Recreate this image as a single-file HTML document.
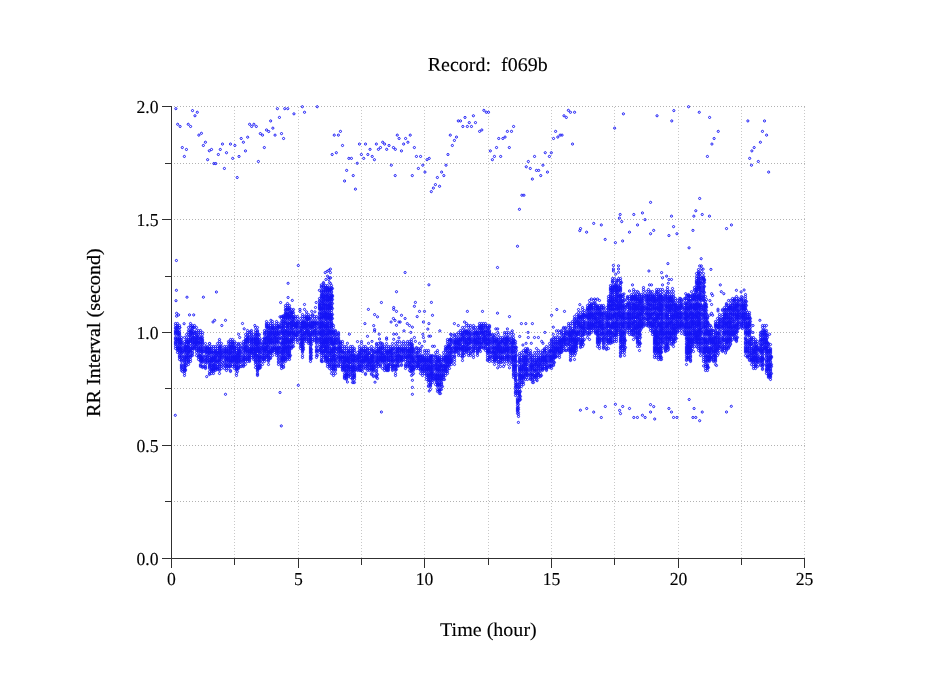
<!DOCTYPE html>
<html lang="en"><head><meta charset="utf-8"><title>Record: f069b</title>
<style>
html,body{margin:0;padding:0;background:#fff}
body{width:949px;height:697px;overflow:hidden}
svg{display:block}
text{font-family:"Liberation Serif","Times New Roman",Times,serif;fill:#000}
.t{font-size:19.4px;stroke:#000;stroke-width:.1px}
.k{font-size:18.3px;stroke:#000;stroke-width:.12px}
</style></head><body>
<svg width="949" height="697" viewBox="0 0 949 697">
<rect width="949" height="697" fill="#fff"/>
<defs><marker id="c" markerWidth="6" markerHeight="6" refX="3" refY="3" markerUnits="userSpaceOnUse" overflow="visible"><circle cx="3" cy="3" r="1.08" fill="none" stroke="#1414f5" stroke-width="0.95"/></marker></defs>
<path d="M234.5 107V558M298.5 107V558M361.5 107V558M424.5 107V558M488.5 107V558M551.5 107V558M614.5 107V558M678.5 107V558M741.5 107V558M804.5 107V558" fill="none" stroke="#c8c8c8" stroke-width="1" stroke-dasharray="1 2"/>
<path d="M171 106.5H805M171 163.5H805M171 219.5H805M171 276.5H805M171 332.5H805M171 388.5H805M171 445.5H805M171 501.5H805" fill="none" stroke="#b2b2b2" stroke-width="1" stroke-dasharray="1 2"/>
<path d="M171.5 106V558.5H805M171.5 558.5v9.5M234.5 558.5v6.5M298.5 558.5v9.5M361.5 558.5v6.5M424.5 558.5v9.5M488.5 558.5v6.5M551.5 558.5v9.5M614.5 558.5v6.5M678.5 558.5v9.5M741.5 558.5v6.5M804.5 558.5v9.5M171.5 106.5h-9.5M171.5 163.5h-6.5M171.5 219.5h-9.5M171.5 276.5h-6.5M171.5 332.5h-9.5M171.5 388.5h-6.5M171.5 445.5h-9.5M171.5 501.5h-6.5M171.5 558.5h-9.5" fill="none" stroke="#303030" stroke-width="1"/>
<text class="t" transform="matrix(1.03 0.0005 0 1 487.7 70.9)" text-anchor="middle" xml:space="preserve">Record:  f069b</text>
<text class="t" transform="matrix(1.033 0.0005 0 1 488.4 635.9)" text-anchor="middle">Time (hour)</text>
<text class="t" style="stroke-width:.25px" transform="translate(100.2,332.6) rotate(-90) scale(1.037,1.02)" text-anchor="middle">RR Interval (second)</text>
<text class="k" transform="matrix(0.965 0.0005 0 1 171.5 585)" text-anchor="middle">0</text>
<text class="k" transform="matrix(0.965 0.0005 0 1 298.5 585)" text-anchor="middle">5</text>
<text class="k" transform="matrix(0.965 0.0005 0 1 424.5 585)" text-anchor="middle">10</text>
<text class="k" transform="matrix(0.965 0.0005 0 1 551.5 585)" text-anchor="middle">15</text>
<text class="k" transform="matrix(0.965 0.0005 0 1 678.5 585)" text-anchor="middle">20</text>
<text class="k" transform="matrix(0.965 0.0005 0 1 804.5 585)" text-anchor="middle">25</text>
<text class="k" transform="matrix(0.965 0.0005 0 1 158.5 113.0)" text-anchor="end">2.0</text>
<text class="k" transform="matrix(0.965 0.0005 0 1 158.5 226.0)" text-anchor="end">1.5</text>
<text class="k" transform="matrix(0.965 0.0005 0 1 158.5 339.0)" text-anchor="end">1.0</text>
<text class="k" transform="matrix(0.965 0.0005 0 1 158.5 452.0)" text-anchor="end">0.5</text>
<text class="k" transform="matrix(0.965 0.0005 0 1 158.5 565.0)" text-anchor="end">0.0</text>
<g>
<polyline fill="none" stroke="none" marker-start="url(#c)" marker-mid="url(#c)" marker-end="url(#c)" points="175.3,415.3 225.5,394.3 206.7,376.6 280,392.5 281.3,425.9 298.3,265.5 288.1,283.3 288.1,297.5 292.3,300.4 280.6,302.5 304.5,304.5 316.2,302.5 300,309.4 300,311.4 304.5,309.4 306.5,311.8 311.7,311.4 314.9,311.8 315.5,307.5 319.4,290.3 321.3,284.9 321.3,286.8 325.2,272.6 327.2,271.3 328.8,270.4 330.4,269.1 330.4,272.6 327.5,276.2 329.1,277.8 330.6,277.8 325.9,279.5 328.8,279.5 349.4,334.2 364.9,323.6 368.4,309.4 373.7,325.6 374.6,314.6 377.5,316.8 374.6,329.5 374.6,331.1 381.4,302.5 367.5,336.3 379.2,334.2 386.6,337.9 391.1,322 393.4,318.5 395,320.4 393.7,307.5 393.7,309.4 396.5,311.4 396.5,291.7 396.5,325.3 398.9,322 393.7,334.2 396.5,334.2 379.5,339 298.3,385.3 381.4,412 347.4,382 375,382.2 357.5,341.6 347.4,343.3 368.5,343.3 372,341.4 386.6,339.3 393.7,339.3 398.9,337.8 398.9,365.9 405.1,272.5 497.5,267.5 428.9,284.8 415.4,302.4 414.4,306.3 431.4,302.4 419.5,311.4 424.5,311.4 432.5,315.3 401.5,315.3 417.2,316.6 405.1,318.5 400.2,322 407.3,323.6 409.5,325.5 412.4,327.2 423.4,322 428.9,323.6 427.8,329.1 404,330.8 410.8,332.4 439.8,330.8 422.8,334.3 414.4,337.5 423.4,337.5 428.9,336.2 430.5,336.2 424.5,341.4 415.4,341.4 419.5,343.3 432.5,346.3 434.4,346.3 422,346.3 467.4,311.4 482.5,311.4 497.5,313.2 509.5,316.6 464.5,322 454.4,323.6 458.3,325.5 450.6,334.3 495.8,328.9 497.7,328.9 497.7,332.4 507.4,328.9 512.3,330.8 412.4,380.3 412.4,387.4 412.4,394.3 429.2,391 497.7,367.8 509.5,367.8 503.5,366.5 521.4,323.6 525.8,323.6 532.4,323.6 528.1,332.4 544.9,332.4 519.7,336.5 528.3,337.5 534.5,337.5 538.4,337.5 541.7,341.4 531.3,343.3 526.1,343.3 522.9,345 536.5,348.5 543,343.3 556.8,309.5 564.5,311.4 551.6,315.3 553.3,327.2 553.3,334.3 556.5,330.8 558.4,330.8 579.8,304.6 591.4,299 594.6,299 597.5,299 613.4,265.4 613.4,269 613.4,271 618.5,265.8 618.5,269 618.5,272.3 615.7,274.2 624,293.9 629.5,291 580.4,410.2 586.7,408.5 593.7,412.1 601.3,417.5 605.3,406.5 615.4,404.3 622.7,406.5 619.6,410.4 620.5,413.6 629.5,408.5 518.4,422.4 537.1,380.7 701.2,258.7 667.9,263.6 648.9,271 661.6,272.6 710.9,269.4 662.5,277.8 666.6,276.2 668.9,279.5 671.5,279.5 668.3,283.3 632.5,284.9 649.5,284.9 651.5,284.9 662.5,284.9 672.5,288.5 720.3,284.9 721.3,291.7 723.8,293.7 736.4,290.3 711.6,293.7 712.6,295.5 709.9,300.6 711.6,304.5 718,309.2 718,311 711.6,313.3 709.6,315.2 712.6,315.2 685.7,293.7 687,295.5 691.5,291.7 692.4,295.5 694.1,294.6 650.5,404.6 653.7,406.6 668.9,408.5 689.2,399.5 694.1,408.5 731.3,406.3 703.6,365.9 744.1,290 741.1,291.9 759.9,320.3 753,325.5 753,332.5 769.6,334.3 729.5,346.2 725.6,353 726.5,412 176.4,260.5 176.4,290.3 187,297.2 203.4,297.2 216.4,292 176,300.7 176.6,313.3 178.6,314.9 176.6,316.2 189.5,314.9 193.7,314.9 184.1,323.7 179.9,327.5 214.7,320.3 213,322 225.5,320.3 221.8,325.5 242.5,323.5 244.2,328.8 238.6,334.3 239.7,337.5 254.8,325.5 270.9,320.3 280,316.8 282.6,316.8 209.6,343.6 175.85,108.654 192.513,110.592 197.293,112.271 194.968,115.759 177.659,124.284 180.113,126.48 188.251,124.284 190.576,126.48 198.843,135.134 201.426,133.326 205.43,142.239 203.364,145.468 182.309,147.535 186.442,149.472 184.376,156.448 211.501,149.472 209.306,150.764 207.626,159.677 213.826,163.552 215.764,163.552 220.285,149.472 218.347,154.51 222.481,144.047 226.485,152.702 230.489,144.047 234.881,145.468 232.685,158.385 224.418,168.46 239.015,156.448 237.206,177.502 241.211,138.493 243.407,142.239 245.473,150.893 247.669,137.201 249.607,124.284 251.673,126.48 253.869,124.284 256.324,126.48 260.328,133.584 262.524,135.134 264.332,147.535 258.39,161.485 266.528,129.968 268.724,131.518 270.662,120.926 272.857,128.159 275.053,135.134 277.378,108.654 279.445,117.438 281.512,133.584 283.579,138.493 284.741,108.654 287.75,108.654 302.347,106.717 317.201,106.717 304.542,112.271 293.95,113.821 340.452,131.388 334.252,135.134 338.385,135.134 342.519,145.468 336.318,152.702 332.185,154.51 348.848,158.385 351.431,158.385 357.244,163.294 346.652,170.398 353.24,175.565 344.585,180.99 355.436,189.128 359.44,144.047 365.511,144.047 361.377,154.51 363.703,158.385 367.836,154.51 370.032,149.343 372.228,156.448 374.424,159.677 376.361,144.047 378.428,149.343 380.495,147.535 382.691,142.239 384.628,144.047 386.695,149.343 389.02,145.468 393.412,147.535 395.349,149.343 397.287,135.134 399.095,138.493 391.345,165.231 395.22,175.565 405.592,138.493 410.242,135.134 403.654,144.047 407.917,142.239 401.459,150.893 414.376,147.535 416.442,156.448 420.576,156.448 427.034,159.677 429.23,158.385 422.772,165.231 418.38,168.46 424.968,172.077 412.309,175.565 446.022,165.231 441.631,172.077 443.826,175.565 437.368,177.502 435.43,184.607 439.564,186.286 433.364,188.094 447.96,154.51 452.352,145.468 454.418,140.43 456.485,137.072 450.285,135.134 458.294,120.926 460.489,120.926 465.01,117.438 469.273,122.605 462.815,126.48 467.336,126.48 471.469,126.48 473.407,115.759 475.473,122.605 479.607,131.388 481.803,129.968 483.869,110.334 486.324,112.271 488.52,112.271 490.328,150.893 494.461,156.448 492.395,159.677 496.528,147.535 500.662,156.448 498.724,138.493 502.857,138.493 505.053,137.072 507.378,131.388 511.512,131.388 509.316,147.535 513.579,126.48 534.542,156.448 528.342,161.485 526.275,166.781 530.28,168.46 536.48,170.398 538.676,170.398 542.939,165.231 545.264,152.702 549.397,156.448 551.335,152.702 547.459,172.077 540.743,175.565 532.347,179.052 553.53,138.493"/>
<polyline fill="none" stroke="none" marker-start="url(#c)" marker-mid="url(#c)" marker-end="url(#c)" points="555.597,131.388 557.793,137.072 560.118,135.134 562.056,135.134 572.519,144.047 563.993,115.759 566.318,117.438 568.385,110.334 570.452,112.271 574.585,112.271 614.628,128.159 623.412,113.821 521.884,195.242 523.95,195.242 519.429,209.322 517.492,246.265 580.527,228.568 579.752,230.635 586.598,232.185 593.703,223.401 601.324,224.951 605.199,239.418 615.403,242.648 622.637,240.969 620.183,214.489 619.407,218.105 621.733,221.593 629.483,232.185 657.034,115.759 673.826,110.592 671.76,120.926 688.552,106.717 699.273,112.271 709.607,117.438 718.261,131.388 714.128,138.493 711.932,144.047 707.411,156.448 650.576,202.347 633.784,214.489 642.438,212.939 645.021,219.655 637.53,224.951 650.576,233.735 653.676,230.377 668.918,235.543 671.501,216.168 673.568,226.631 676.927,233.735 699.661,198.471 695.785,210.743 693.848,216.168 702.244,214.489 709.478,216.168 692.944,230.377 689.069,247.815 726.528,228.568 731.437,224.951 699.661,265.898 701.34,265.898 701.34,268.482 703.148,269.128 747.863,120.926 764.526,120.926 762.459,131.388 766.593,135.134 760.393,142.239 754.193,147.535 751.867,150.893 749.672,158.385 758.326,161.485 751.48,165.231 768.66,172.077 431.297,191.625 633.784,417.459 637.4,417.459 642.438,415.264 645.151,417.459 650.576,412.034 654.709,419.01 671.501,412.034 673.568,417.459 676.927,417.459 692.944,417.459 695.785,417.459 699.661,420.689 702.244,412.034"/>
<polyline fill="none" stroke="none" marker-start="url(#c)" marker-mid="url(#c)" marker-end="url(#c)" points="175.5,323.5 175.5,325.5 175.5,327.5 175.5,328.5 175.5,330.5 175.5,331.5 175.5,332.5 175.5,333.5 175.5,334.5 175.5,337.5 175.5,338.5 175.5,339.5 175.5,341.5 175.5,342.5 175.5,343.5 175.5,344.5 175.5,346.5 175.5,348.5 176.5,328.5 176.5,331.5 176.5,340.5 177.5,323.5 177.5,325.5 177.5,326.5 177.5,327.5 177.5,328.5 177.5,330.5 177.5,331.5 177.5,332.5 177.5,333.5 177.5,334.5 177.5,337.5 177.5,338.5 177.5,339.5 177.5,340.5 177.5,341.5 177.5,343.5 177.5,344.5 177.5,346.5 177.5,347.5 177.5,348.5 177.5,349.5 177.5,350.5 177.5,352.5 178.5,331.5 178.5,334.5 178.5,347.5 178.5,349.5 179.5,325.5 179.5,327.5 179.5,330.5 179.5,332.5 179.5,333.5 179.5,334.5 179.5,335.5 179.5,337.5 179.5,338.5 179.5,339.5 179.5,340.5 179.5,341.5 179.5,342.5 179.5,343.5 179.5,344.5 179.5,346.5 179.5,347.5 179.5,348.5 179.5,349.5 179.5,350.5 179.5,352.5 179.5,353.5 179.5,355.5 179.5,356.5 179.5,357.5 179.5,359.5 180.5,339.5 180.5,341.5 180.5,343.5 180.5,348.5 180.5,351.5 181.5,337.5 181.5,339.5 181.5,341.5 181.5,342.5 181.5,343.5 181.5,344.5 181.5,346.5 181.5,347.5 181.5,348.5 181.5,349.5 181.5,350.5 181.5,351.5 181.5,352.5 181.5,353.5 181.5,355.5 181.5,356.5 181.5,357.5 181.5,359.5 181.5,360.5 181.5,361.5 181.5,364.5 181.5,365.5 181.5,366.5 181.5,367.5 181.5,368.5 181.5,370.5 182.5,350.5 182.5,352.5 182.5,358.5 182.5,369.5 182.5,371.5 184.5,337.5 184.5,341.5 184.5,343.5 184.5,344.5 184.5,346.5 184.5,347.5 184.5,348.5 184.5,349.5 184.5,350.5 184.5,351.5 184.5,352.5 184.5,355.5 184.5,356.5 184.5,357.5 184.5,358.5 184.5,359.5 184.5,360.5 184.5,361.5 184.5,362.5 184.5,364.5 184.5,365.5 184.5,366.5 184.5,367.5 184.5,368.5 184.5,369.5 184.5,370.5 184.5,371.5 184.5,373.5 184.5,375.5 185.5,346.5 185.5,348.5 185.5,350.5 185.5,364.5 185.5,366.5 185.5,369.5 185.5,370.5 186.5,334.5 186.5,337.5 186.5,339.5 186.5,340.5 186.5,341.5 186.5,342.5 186.5,344.5 186.5,346.5 186.5,347.5 186.5,348.5 186.5,349.5 186.5,350.5 186.5,352.5 186.5,353.5 186.5,355.5 186.5,356.5 186.5,357.5 186.5,358.5 186.5,359.5 186.5,361.5 186.5,362.5 186.5,365.5 187.5,342.5 187.5,343.5 187.5,346.5 187.5,351.5 187.5,353.5 187.5,356.5 187.5,358.5 188.5,327.5 188.5,330.5 188.5,332.5 188.5,334.5 188.5,337.5 188.5,339.5 188.5,340.5 188.5,341.5 188.5,342.5 188.5,343.5 188.5,344.5 188.5,346.5 188.5,347.5 188.5,348.5 188.5,349.5 188.5,350.5 188.5,351.5 188.5,352.5 188.5,353.5 188.5,355.5 188.5,356.5 188.5,357.5 188.5,359.5 188.5,360.5 188.5,361.5 188.5,362.5 188.5,364.5 189.5,331.5 189.5,335.5 189.5,341.5 189.5,347.5 189.5,351.5 190.5,323.5 190.5,325.5 190.5,327.5 190.5,330.5 190.5,331.5 190.5,332.5 190.5,333.5 190.5,334.5 190.5,335.5 190.5,337.5 190.5,338.5 190.5,339.5 190.5,340.5 190.5,341.5 190.5,343.5 190.5,346.5 190.5,348.5 190.5,349.5 190.5,350.5 190.5,351.5 190.5,352.5 190.5,355.5 190.5,356.5 190.5,357.5 190.5,359.5 190.5,361.5 191.5,326.5 191.5,330.5 191.5,332.5 191.5,349.5 191.5,355.5 192.5,325.5 192.5,327.5 192.5,328.5 192.5,330.5 192.5,332.5 192.5,333.5 192.5,334.5 192.5,335.5 192.5,337.5 192.5,338.5 192.5,339.5 192.5,340.5 192.5,341.5 192.5,342.5 192.5,343.5 192.5,344.5 192.5,346.5 192.5,347.5 192.5,348.5 192.5,350.5 192.5,352.5 192.5,353.5 192.5,355.5 193.5,327.5 193.5,331.5 193.5,337.5 193.5,348.5 194.5,325.5 194.5,327.5 194.5,332.5 194.5,333.5 194.5,335.5 194.5,337.5 194.5,338.5 194.5,339.5 194.5,340.5 194.5,341.5 194.5,342.5 194.5,343.5 194.5,344.5 194.5,346.5 194.5,347.5 194.5,348.5 195.5,332.5 195.5,342.5 195.5,343.5 195.5,346.5 196.5,327.5 196.5,330.5 196.5,332.5 196.5,334.5 196.5,335.5 196.5,337.5 196.5,338.5 196.5,339.5 196.5,340.5 196.5,341.5 196.5,342.5 196.5,343.5 196.5,344.5 196.5,346.5 196.5,348.5 196.5,349.5 196.5,350.5 196.5,352.5 196.5,355.5 197.5,335.5 197.5,337.5 197.5,339.5 197.5,342.5 197.5,344.5 198.5,330.5 198.5,332.5 198.5,334.5 198.5,337.5 198.5,338.5 198.5,340.5 198.5,341.5 198.5,342.5 198.5,343.5 198.5,346.5 198.5,347.5 198.5,348.5 198.5,349.5 198.5,350.5 198.5,351.5 198.5,352.5 198.5,355.5 198.5,356.5 198.5,357.5 198.5,359.5 199.5,342.5 199.5,355.5 200.5,330.5 200.5,332.5 200.5,334.5 200.5,337.5 200.5,338.5 200.5,339.5 200.5,341.5 200.5,342.5 200.5,343.5 200.5,344.5 200.5,346.5 200.5,347.5 200.5,348.5 200.5,349.5 200.5,350.5 200.5,351.5 200.5,353.5 200.5,355.5 200.5,356.5 200.5,357.5 200.5,358.5 200.5,359.5 200.5,360.5 200.5,361.5 200.5,364.5 200.5,365.5 200.5,366.5 201.5,337.5 201.5,339.5 201.5,350.5 201.5,352.5 201.5,357.5 201.5,359.5 201.5,361.5 202.5,332.5 202.5,334.5 202.5,337.5 202.5,339.5 202.5,340.5 202.5,341.5 202.5,342.5 202.5,343.5 202.5,344.5 202.5,346.5 202.5,347.5 202.5,348.5 202.5,349.5 202.5,350.5 202.5,351.5 202.5,352.5 202.5,355.5 202.5,356.5 202.5,357.5 202.5,358.5 202.5,359.5 202.5,360.5 202.5,361.5 202.5,362.5 202.5,366.5 202.5,367.5 203.5,351.5 203.5,359.5 203.5,366.5 205.5,343.5 205.5,346.5 205.5,347.5 205.5,348.5 205.5,349.5 205.5,350.5"/>
<polyline fill="none" stroke="none" marker-start="url(#c)" marker-mid="url(#c)" marker-end="url(#c)" points="205.5,351.5 205.5,352.5 205.5,355.5 205.5,356.5 205.5,357.5 205.5,359.5 205.5,360.5 205.5,361.5 205.5,362.5 205.5,364.5 205.5,366.5 205.5,367.5 205.5,368.5 206.5,348.5 206.5,350.5 206.5,352.5 206.5,359.5 207.5,346.5 207.5,347.5 207.5,348.5 207.5,349.5 207.5,350.5 207.5,352.5 207.5,353.5 207.5,356.5 207.5,357.5 207.5,358.5 207.5,360.5 207.5,361.5 207.5,362.5 208.5,348.5 208.5,352.5 208.5,355.5 209.5,343.5 209.5,346.5 209.5,348.5 209.5,349.5 209.5,350.5 209.5,351.5 209.5,352.5 209.5,353.5 209.5,355.5 209.5,357.5 209.5,359.5 209.5,360.5 209.5,361.5 209.5,362.5 209.5,364.5 209.5,365.5 209.5,366.5 209.5,367.5 209.5,368.5 209.5,371.5 209.5,373.5 209.5,374.5 210.5,348.5 210.5,351.5 210.5,352.5 210.5,358.5 210.5,361.5 210.5,364.5 211.5,346.5 211.5,348.5 211.5,350.5 211.5,351.5 211.5,352.5 211.5,353.5 211.5,356.5 211.5,357.5 211.5,358.5 211.5,359.5 211.5,360.5 211.5,361.5 211.5,364.5 211.5,365.5 211.5,367.5 211.5,368.5 211.5,369.5 211.5,370.5 211.5,371.5 211.5,373.5 212.5,352.5 212.5,360.5 212.5,361.5 212.5,366.5 212.5,369.5 213.5,346.5 213.5,348.5 213.5,350.5 213.5,352.5 213.5,353.5 213.5,355.5 213.5,356.5 213.5,357.5 213.5,358.5 213.5,359.5 213.5,360.5 213.5,362.5 213.5,364.5 213.5,365.5 213.5,366.5 213.5,367.5 213.5,368.5 213.5,369.5 213.5,370.5 213.5,371.5 213.5,373.5 214.5,351.5 214.5,358.5 214.5,361.5 214.5,364.5 215.5,346.5 215.5,348.5 215.5,350.5 215.5,351.5 215.5,352.5 215.5,353.5 215.5,355.5 215.5,356.5 215.5,357.5 215.5,358.5 215.5,359.5 215.5,360.5 215.5,361.5 215.5,364.5 215.5,365.5 215.5,366.5 215.5,367.5 215.5,368.5 215.5,369.5 215.5,370.5 216.5,351.5 216.5,353.5 216.5,355.5 216.5,361.5 216.5,368.5 217.5,343.5 217.5,346.5 217.5,348.5 217.5,350.5 217.5,352.5 217.5,353.5 217.5,356.5 217.5,357.5 217.5,360.5 217.5,361.5 217.5,362.5 217.5,364.5 217.5,366.5 217.5,367.5 217.5,368.5 217.5,369.5 218.5,352.5 218.5,355.5 218.5,360.5 219.5,339.5 219.5,341.5 219.5,343.5 219.5,346.5 219.5,347.5 219.5,348.5 219.5,349.5 219.5,350.5 219.5,351.5 219.5,352.5 219.5,353.5 219.5,355.5 219.5,356.5 219.5,357.5 219.5,358.5 219.5,359.5 219.5,360.5 219.5,361.5 219.5,362.5 219.5,364.5 219.5,365.5 219.5,366.5 219.5,368.5 219.5,369.5 219.5,370.5 219.5,373.5 220.5,346.5 220.5,353.5 221.5,343.5 221.5,346.5 221.5,348.5 221.5,349.5 221.5,350.5 221.5,351.5 221.5,352.5 221.5,353.5 221.5,355.5 221.5,356.5 221.5,357.5 221.5,358.5 221.5,359.5 221.5,361.5 221.5,364.5 221.5,366.5 221.5,368.5 222.5,352.5 222.5,355.5 222.5,362.5 222.5,365.5 224.5,346.5 224.5,348.5 224.5,349.5 224.5,350.5 224.5,351.5 224.5,352.5 224.5,353.5 224.5,355.5 224.5,356.5 224.5,357.5 224.5,358.5 224.5,361.5 224.5,362.5 224.5,365.5 224.5,368.5 225.5,352.5 225.5,359.5 225.5,364.5 225.5,366.5 226.5,346.5 226.5,348.5 226.5,349.5 226.5,350.5 226.5,351.5 226.5,352.5 226.5,353.5 226.5,355.5 226.5,356.5 226.5,357.5 226.5,358.5 226.5,359.5 226.5,360.5 226.5,361.5 226.5,364.5 226.5,365.5 226.5,366.5 226.5,368.5 226.5,370.5 227.5,358.5 228.5,341.5 228.5,343.5 228.5,346.5 228.5,348.5 228.5,349.5 228.5,350.5 228.5,351.5 228.5,352.5 228.5,353.5 228.5,355.5 228.5,356.5 228.5,357.5 228.5,358.5 228.5,359.5 228.5,360.5 228.5,361.5 228.5,362.5 228.5,364.5 228.5,365.5 228.5,366.5 228.5,368.5 229.5,342.5 229.5,346.5 229.5,353.5 229.5,366.5 230.5,339.5 230.5,341.5 230.5,343.5 230.5,344.5 230.5,346.5 230.5,347.5 230.5,348.5 230.5,349.5 230.5,350.5 230.5,351.5 230.5,352.5 230.5,353.5 230.5,355.5 230.5,356.5 230.5,357.5 230.5,358.5 230.5,359.5 230.5,360.5 230.5,361.5 230.5,362.5 230.5,364.5 230.5,365.5 230.5,366.5 230.5,370.5 230.5,371.5 231.5,346.5 231.5,348.5 231.5,352.5 231.5,360.5 231.5,361.5 232.5,339.5 232.5,341.5 232.5,342.5 232.5,343.5 232.5,344.5 232.5,346.5 232.5,347.5 232.5,348.5 232.5,349.5 232.5,350.5 232.5,352.5 232.5,353.5 232.5,355.5 232.5,356.5 232.5,357.5 232.5,358.5 232.5,359.5 232.5,360.5 232.5,361.5 232.5,364.5 232.5,366.5 233.5,343.5 233.5,346.5 233.5,356.5 233.5,357.5 234.5,341.5 234.5,343.5 234.5,346.5 234.5,347.5 234.5,348.5 234.5,349.5 234.5,350.5 234.5,351.5 234.5,352.5 234.5,353.5 234.5,355.5 234.5,356.5 234.5,357.5 234.5,358.5 234.5,359.5 234.5,360.5 234.5,361.5 234.5,362.5 234.5,364.5 234.5,365.5 234.5,366.5 234.5,368.5 235.5,347.5 235.5,356.5 235.5,358.5 235.5,359.5 236.5,343.5 236.5,346.5 236.5,348.5 236.5,350.5 236.5,352.5 236.5,353.5 236.5,355.5 236.5,356.5 236.5,357.5 236.5,358.5 236.5,359.5 236.5,360.5 236.5,361.5 236.5,362.5 236.5,364.5 236.5,365.5 236.5,366.5 236.5,367.5 236.5,368.5 236.5,369.5 236.5,370.5 236.5,373.5 236.5,375.5 237.5,353.5 237.5,355.5 237.5,358.5 237.5,362.5 237.5,368.5 237.5,371.5 238.5,343.5 238.5,344.5 238.5,346.5 238.5,348.5 238.5,349.5 238.5,350.5 238.5,351.5 238.5,352.5 238.5,353.5 238.5,355.5 238.5,356.5 238.5,357.5 238.5,358.5 238.5,359.5 238.5,360.5 238.5,361.5 238.5,362.5 238.5,365.5 238.5,366.5 238.5,367.5 238.5,368.5 239.5,350.5"/>
<polyline fill="none" stroke="none" marker-start="url(#c)" marker-mid="url(#c)" marker-end="url(#c)" points="239.5,353.5 239.5,356.5 240.5,343.5 240.5,346.5 240.5,347.5 240.5,348.5 240.5,350.5 240.5,351.5 240.5,352.5 240.5,353.5 240.5,355.5 240.5,356.5 240.5,357.5 240.5,359.5 240.5,360.5 240.5,361.5 240.5,362.5 240.5,364.5 240.5,366.5 241.5,359.5 241.5,366.5 243.5,341.5 243.5,343.5 243.5,344.5 243.5,346.5 243.5,347.5 243.5,348.5 243.5,349.5 243.5,350.5 243.5,352.5 243.5,353.5 243.5,355.5 243.5,356.5 243.5,357.5 243.5,358.5 243.5,359.5 243.5,360.5 243.5,361.5 243.5,362.5 243.5,364.5 243.5,365.5 243.5,366.5 244.5,357.5 244.5,359.5 245.5,334.5 245.5,337.5 245.5,339.5 245.5,340.5 245.5,341.5 245.5,342.5 245.5,343.5 245.5,344.5 245.5,346.5 245.5,347.5 245.5,348.5 245.5,349.5 245.5,350.5 245.5,351.5 245.5,352.5 245.5,355.5 245.5,357.5 245.5,359.5 245.5,361.5 245.5,364.5 246.5,339.5 246.5,346.5 246.5,348.5 246.5,350.5 246.5,356.5 246.5,359.5 247.5,330.5 247.5,332.5 247.5,334.5 247.5,335.5 247.5,337.5 247.5,338.5 247.5,339.5 247.5,340.5 247.5,341.5 247.5,342.5 247.5,343.5 247.5,346.5 247.5,347.5 247.5,349.5 247.5,350.5 247.5,351.5 247.5,352.5 247.5,353.5 247.5,355.5 247.5,357.5 247.5,358.5 247.5,359.5 247.5,361.5 248.5,337.5 248.5,356.5 249.5,332.5 249.5,334.5 249.5,337.5 249.5,340.5 249.5,341.5 249.5,343.5 249.5,346.5 249.5,348.5 249.5,349.5 249.5,350.5 249.5,351.5 249.5,352.5 249.5,353.5 249.5,355.5 249.5,356.5 249.5,357.5 249.5,358.5 249.5,359.5 249.5,360.5 249.5,361.5 250.5,331.5 250.5,339.5 250.5,349.5 250.5,352.5 251.5,330.5 251.5,332.5 251.5,334.5 251.5,335.5 251.5,337.5 251.5,338.5 251.5,339.5 251.5,340.5 251.5,341.5 251.5,342.5 251.5,343.5 251.5,344.5 251.5,346.5 251.5,347.5 251.5,348.5 251.5,349.5 251.5,350.5 251.5,351.5 251.5,352.5 251.5,353.5 251.5,355.5 251.5,357.5 252.5,349.5 252.5,350.5 253.5,334.5 253.5,337.5 253.5,338.5 253.5,339.5 253.5,340.5 253.5,341.5 253.5,343.5 253.5,344.5 253.5,346.5 253.5,347.5 253.5,348.5 253.5,349.5 253.5,351.5 253.5,352.5 253.5,353.5 253.5,355.5 253.5,356.5 253.5,357.5 253.5,359.5 254.5,342.5 254.5,349.5 254.5,353.5 254.5,358.5 255.5,327.5 255.5,330.5 255.5,332.5 255.5,334.5 255.5,335.5 255.5,337.5 255.5,338.5 255.5,339.5 255.5,340.5 255.5,341.5 255.5,342.5 255.5,343.5 255.5,344.5 255.5,346.5 255.5,348.5 255.5,349.5 255.5,350.5 255.5,351.5 255.5,352.5 255.5,353.5 255.5,355.5 255.5,356.5 255.5,357.5 255.5,359.5 255.5,360.5 255.5,361.5 255.5,362.5 255.5,364.5 255.5,367.5 256.5,334.5 256.5,338.5 256.5,339.5 256.5,342.5 256.5,344.5 256.5,346.5 256.5,348.5 256.5,351.5 256.5,355.5 257.5,327.5 257.5,330.5 257.5,331.5 257.5,332.5 257.5,334.5 257.5,335.5 257.5,337.5 257.5,338.5 257.5,339.5 257.5,340.5 257.5,341.5 257.5,342.5 257.5,343.5 257.5,344.5 257.5,346.5 257.5,347.5 257.5,348.5 257.5,349.5 257.5,350.5 257.5,351.5 257.5,353.5 257.5,355.5 257.5,356.5 257.5,357.5 257.5,358.5 257.5,359.5 257.5,361.5 257.5,362.5 257.5,364.5 257.5,365.5 257.5,366.5 257.5,367.5 257.5,368.5 257.5,369.5 257.5,370.5 257.5,371.5 257.5,373.5 257.5,374.5 257.5,375.5 258.5,334.5 258.5,343.5 258.5,350.5 258.5,360.5 258.5,368.5 259.5,334.5 259.5,337.5 259.5,339.5 259.5,340.5 259.5,341.5 259.5,342.5 259.5,343.5 259.5,344.5 259.5,346.5 259.5,347.5 259.5,348.5 259.5,349.5 259.5,350.5 259.5,351.5 259.5,352.5 259.5,353.5 259.5,355.5 259.5,356.5 259.5,357.5 259.5,358.5 259.5,359.5 259.5,360.5 259.5,361.5 259.5,362.5 259.5,364.5 259.5,365.5 259.5,366.5 259.5,367.5 259.5,368.5 260.5,347.5 260.5,350.5 260.5,352.5 260.5,356.5 260.5,357.5 260.5,361.5 260.5,365.5 260.5,367.5 262.5,339.5 262.5,342.5 262.5,343.5 262.5,344.5 262.5,346.5 262.5,347.5 262.5,348.5 262.5,349.5 262.5,350.5 262.5,352.5 262.5,353.5 262.5,355.5 262.5,357.5 262.5,358.5 262.5,359.5 262.5,361.5 262.5,364.5 263.5,346.5 263.5,349.5 263.5,355.5 263.5,357.5 263.5,359.5 264.5,330.5 264.5,332.5 264.5,333.5 264.5,334.5 264.5,337.5 264.5,338.5 264.5,339.5 264.5,340.5 264.5,341.5 264.5,342.5 264.5,343.5 264.5,344.5 264.5,347.5 264.5,348.5 264.5,349.5 264.5,350.5 264.5,351.5 264.5,352.5 264.5,353.5 264.5,355.5 264.5,357.5 264.5,358.5 264.5,359.5 264.5,361.5 265.5,338.5 265.5,343.5 265.5,347.5 265.5,349.5 265.5,350.5 266.5,321.5 266.5,323.5 266.5,324.5 266.5,325.5 266.5,326.5 266.5,327.5 266.5,330.5 266.5,331.5 266.5,332.5 266.5,334.5 266.5,335.5 266.5,337.5 266.5,338.5 266.5,339.5 266.5,340.5 266.5,341.5 266.5,342.5 266.5,343.5 266.5,344.5 266.5,346.5 266.5,347.5 266.5,348.5 266.5,349.5 266.5,350.5 266.5,351.5 266.5,353.5 266.5,355.5 266.5,356.5 266.5,357.5 266.5,359.5 267.5,327.5 267.5,337.5 267.5,346.5 267.5,353.5 267.5,356.5 268.5,323.5 268.5,325.5 268.5,326.5 268.5,327.5 268.5,328.5 268.5,330.5 268.5,332.5 268.5,333.5 268.5,334.5 268.5,335.5 268.5,337.5 268.5,338.5 268.5,339.5 268.5,340.5 268.5,341.5 268.5,342.5 268.5,343.5 268.5,344.5 268.5,346.5 268.5,347.5 268.5,349.5 268.5,350.5 268.5,351.5 268.5,352.5 268.5,353.5 268.5,355.5 268.5,356.5 268.5,357.5 268.5,359.5"/>
<polyline fill="none" stroke="none" marker-start="url(#c)" marker-mid="url(#c)" marker-end="url(#c)" points="268.5,360.5 268.5,361.5 268.5,364.5 269.5,330.5 269.5,332.5 269.5,335.5 269.5,339.5 269.5,341.5 269.5,351.5 269.5,358.5 270.5,323.5 270.5,325.5 270.5,327.5 270.5,328.5 270.5,331.5 270.5,332.5 270.5,333.5 270.5,334.5 270.5,335.5 270.5,337.5 270.5,338.5 270.5,339.5 270.5,340.5 270.5,341.5 270.5,342.5 270.5,343.5 270.5,344.5 270.5,347.5 270.5,348.5 270.5,350.5 270.5,351.5 270.5,352.5 270.5,353.5 270.5,355.5 270.5,357.5 270.5,358.5 271.5,328.5 271.5,332.5 271.5,338.5 271.5,340.5 271.5,342.5 271.5,349.5 271.5,351.5 271.5,352.5 272.5,321.5 272.5,323.5 272.5,325.5 272.5,326.5 272.5,327.5 272.5,328.5 272.5,330.5 272.5,331.5 272.5,332.5 272.5,334.5 272.5,335.5 272.5,337.5 272.5,338.5 272.5,340.5 272.5,341.5 272.5,342.5 272.5,343.5 272.5,346.5 272.5,347.5 272.5,348.5 272.5,349.5 272.5,350.5 272.5,351.5 272.5,355.5 273.5,328.5 273.5,334.5 274.5,325.5 274.5,327.5 274.5,328.5 274.5,330.5 274.5,331.5 274.5,332.5 274.5,333.5 274.5,334.5 274.5,335.5 274.5,337.5 274.5,338.5 274.5,339.5 274.5,340.5 274.5,341.5 274.5,342.5 274.5,343.5 274.5,344.5 274.5,346.5 274.5,347.5 274.5,348.5 274.5,349.5 274.5,350.5 274.5,352.5 275.5,335.5 275.5,337.5 275.5,348.5 276.5,321.5 276.5,323.5 276.5,325.5 276.5,327.5 276.5,328.5 276.5,330.5 276.5,331.5 276.5,332.5 276.5,333.5 276.5,334.5 276.5,337.5 276.5,338.5 276.5,339.5 276.5,340.5 276.5,341.5 276.5,342.5 276.5,343.5 276.5,346.5 276.5,347.5 276.5,348.5 276.5,349.5 276.5,350.5 276.5,351.5 276.5,352.5 276.5,353.5 276.5,355.5 277.5,326.5 277.5,328.5 277.5,334.5 277.5,341.5 277.5,349.5 278.5,323.5 278.5,325.5 278.5,326.5 278.5,327.5 278.5,330.5 278.5,331.5 278.5,332.5 278.5,333.5 278.5,334.5 278.5,335.5 278.5,337.5 278.5,338.5 278.5,339.5 278.5,341.5 278.5,342.5 278.5,343.5 278.5,346.5 278.5,347.5 278.5,348.5 278.5,349.5 278.5,350.5 278.5,351.5 278.5,352.5 278.5,353.5 278.5,355.5 278.5,356.5 278.5,358.5 278.5,359.5 278.5,361.5 278.5,362.5 278.5,364.5 279.5,326.5 279.5,327.5 279.5,333.5 279.5,338.5 279.5,347.5 279.5,348.5 279.5,352.5 281.5,316.5 281.5,318.5 281.5,321.5 281.5,323.5 281.5,324.5 281.5,325.5 281.5,327.5 281.5,328.5 281.5,330.5 281.5,331.5 281.5,332.5 281.5,333.5 281.5,335.5 281.5,337.5 281.5,338.5 281.5,339.5 281.5,342.5 281.5,343.5 281.5,344.5 281.5,346.5 281.5,347.5 281.5,349.5 281.5,350.5 281.5,351.5 281.5,352.5 281.5,353.5 281.5,355.5 281.5,356.5 281.5,357.5 281.5,358.5 281.5,359.5 281.5,360.5 281.5,361.5 281.5,362.5 281.5,364.5 281.5,365.5 281.5,366.5 281.5,368.5 282.5,321.5 282.5,327.5 282.5,330.5 282.5,332.5 282.5,342.5 282.5,343.5 282.5,348.5 282.5,350.5 282.5,353.5 282.5,358.5 282.5,359.5 283.5,315.5 283.5,316.5 283.5,317.5 283.5,318.5 283.5,319.5 283.5,321.5 283.5,323.5 283.5,324.5 283.5,325.5 283.5,326.5 283.5,327.5 283.5,328.5 283.5,331.5 283.5,332.5 283.5,333.5 283.5,334.5 283.5,335.5 283.5,337.5 283.5,338.5 283.5,339.5 283.5,340.5 283.5,341.5 283.5,342.5 283.5,343.5 283.5,344.5 283.5,346.5 283.5,347.5 283.5,348.5 283.5,349.5 283.5,350.5 283.5,351.5 283.5,352.5 283.5,353.5 283.5,355.5 283.5,356.5 283.5,357.5 283.5,358.5 283.5,359.5 283.5,360.5 283.5,361.5 283.5,364.5 283.5,366.5 283.5,367.5 284.5,316.5 284.5,322.5 284.5,330.5 284.5,332.5 284.5,335.5 284.5,339.5 284.5,342.5 284.5,343.5 284.5,346.5 284.5,348.5 284.5,356.5 284.5,360.5 285.5,305.5 285.5,307.5 285.5,309.5 285.5,310.5 285.5,312.5 285.5,313.5 285.5,314.5 285.5,315.5 285.5,316.5 285.5,317.5 285.5,318.5 285.5,319.5 285.5,321.5 285.5,322.5 285.5,323.5 285.5,325.5 285.5,328.5 285.5,330.5 285.5,331.5 285.5,332.5 285.5,333.5 285.5,335.5 285.5,337.5 285.5,338.5 285.5,339.5 285.5,341.5 285.5,342.5 285.5,343.5 285.5,344.5 285.5,346.5 285.5,347.5 285.5,348.5 285.5,349.5 285.5,350.5 285.5,351.5 285.5,352.5 285.5,353.5 285.5,355.5 285.5,357.5 285.5,358.5 285.5,359.5 285.5,361.5 286.5,309.5 286.5,313.5 286.5,326.5 286.5,331.5 286.5,332.5 286.5,334.5 286.5,338.5 286.5,341.5 286.5,347.5 286.5,356.5 286.5,358.5 287.5,303.5 287.5,305.5 287.5,307.5 287.5,308.5 287.5,309.5 287.5,312.5 287.5,313.5 287.5,314.5 287.5,315.5 287.5,316.5 287.5,317.5 287.5,318.5 287.5,319.5 287.5,322.5 287.5,323.5 287.5,324.5 287.5,325.5 287.5,326.5 287.5,327.5 287.5,328.5 287.5,330.5 287.5,331.5 287.5,332.5 287.5,334.5 287.5,335.5 287.5,337.5 287.5,338.5 287.5,339.5 287.5,340.5 287.5,341.5 287.5,342.5 287.5,343.5 287.5,344.5 287.5,346.5 287.5,347.5 287.5,348.5 287.5,349.5 287.5,350.5 287.5,351.5 287.5,352.5 287.5,353.5 287.5,355.5 287.5,357.5 287.5,359.5 288.5,309.5 288.5,315.5 288.5,316.5 288.5,323.5 288.5,333.5 288.5,334.5 288.5,341.5 288.5,346.5 288.5,353.5 288.5,355.5 289.5,305.5 289.5,307.5 289.5,308.5 289.5,309.5 289.5,310.5 289.5,312.5 289.5,313.5 289.5,315.5 289.5,316.5 289.5,317.5 289.5,318.5 289.5,319.5 289.5,321.5 289.5,323.5 289.5,324.5 289.5,325.5 289.5,327.5 289.5,328.5 289.5,330.5 289.5,331.5 289.5,332.5 289.5,333.5 289.5,334.5 289.5,335.5"/>
<polyline fill="none" stroke="none" marker-start="url(#c)" marker-mid="url(#c)" marker-end="url(#c)" points="289.5,337.5 289.5,339.5 289.5,340.5 289.5,341.5 289.5,342.5 289.5,343.5 289.5,344.5 289.5,346.5 289.5,347.5 289.5,348.5 289.5,349.5 289.5,350.5 289.5,351.5 289.5,352.5 289.5,353.5 289.5,355.5 289.5,356.5 289.5,357.5 289.5,359.5 290.5,312.5 290.5,316.5 290.5,322.5 290.5,332.5 290.5,340.5 290.5,355.5 291.5,309.5 291.5,312.5 291.5,313.5 291.5,314.5 291.5,315.5 291.5,316.5 291.5,317.5 291.5,318.5 291.5,321.5 291.5,322.5 291.5,323.5 291.5,324.5 291.5,325.5 291.5,326.5 291.5,327.5 291.5,328.5 291.5,330.5 291.5,331.5 291.5,332.5 291.5,333.5 291.5,334.5 291.5,335.5 291.5,337.5 291.5,338.5 291.5,339.5 291.5,340.5 291.5,341.5 291.5,342.5 291.5,343.5 291.5,346.5 291.5,347.5 291.5,348.5 292.5,310.5 292.5,312.5 292.5,319.5 292.5,321.5 292.5,325.5 292.5,328.5 292.5,340.5 292.5,346.5 293.5,309.5 293.5,312.5 293.5,314.5 293.5,316.5 293.5,317.5 293.5,318.5 293.5,319.5 293.5,321.5 293.5,322.5 293.5,323.5 293.5,324.5 293.5,325.5 293.5,327.5 293.5,330.5 293.5,331.5 293.5,332.5 293.5,333.5 293.5,334.5 293.5,335.5 293.5,337.5 293.5,338.5 293.5,339.5 293.5,341.5 293.5,343.5 293.5,346.5 294.5,317.5 294.5,325.5 294.5,333.5 294.5,334.5 295.5,316.5 295.5,318.5 295.5,321.5 295.5,323.5 295.5,324.5 295.5,325.5 295.5,326.5 295.5,327.5 295.5,328.5 295.5,331.5 295.5,332.5 295.5,334.5 295.5,335.5 295.5,337.5 295.5,339.5 296.5,322.5 296.5,323.5 296.5,326.5 296.5,335.5 297.5,316.5 297.5,318.5 297.5,321.5 297.5,323.5 297.5,324.5 297.5,325.5 297.5,326.5 297.5,327.5 297.5,328.5 297.5,330.5 297.5,331.5 297.5,332.5 297.5,333.5 297.5,334.5 297.5,335.5 297.5,337.5 297.5,339.5 297.5,340.5 297.5,342.5 298.5,321.5 298.5,323.5 298.5,332.5 300.5,318.5 300.5,321.5 300.5,323.5 300.5,325.5 300.5,326.5 300.5,327.5 300.5,328.5 300.5,330.5 300.5,331.5 300.5,332.5 300.5,333.5 300.5,335.5 300.5,337.5 300.5,338.5 300.5,339.5 300.5,340.5 300.5,343.5 300.5,344.5 300.5,346.5 300.5,348.5 301.5,323.5 301.5,328.5 301.5,330.5 301.5,335.5 301.5,339.5 301.5,342.5 301.5,343.5 301.5,346.5 302.5,314.5 302.5,316.5 302.5,318.5 302.5,321.5 302.5,322.5 302.5,323.5 302.5,324.5 302.5,325.5 302.5,326.5 302.5,327.5 302.5,330.5 302.5,331.5 302.5,333.5 302.5,334.5 302.5,335.5 302.5,337.5 302.5,338.5 302.5,339.5 302.5,340.5 302.5,341.5 302.5,342.5 302.5,343.5 302.5,344.5 302.5,346.5 302.5,347.5 302.5,348.5 302.5,349.5 302.5,350.5 302.5,351.5 302.5,352.5 302.5,355.5 302.5,357.5 303.5,321.5 303.5,323.5 303.5,326.5 303.5,327.5 303.5,334.5 303.5,338.5 303.5,340.5 303.5,344.5 303.5,347.5 303.5,349.5 304.5,316.5 304.5,318.5 304.5,321.5 304.5,322.5 304.5,323.5 304.5,324.5 304.5,325.5 304.5,326.5 304.5,327.5 304.5,328.5 304.5,330.5 304.5,332.5 304.5,333.5 304.5,334.5 304.5,335.5 304.5,337.5 304.5,338.5 304.5,339.5 304.5,341.5 305.5,317.5 305.5,326.5 305.5,332.5 306.5,314.5 306.5,316.5 306.5,317.5 306.5,318.5 306.5,319.5 306.5,321.5 306.5,322.5 306.5,323.5 306.5,324.5 306.5,325.5 306.5,326.5 306.5,327.5 306.5,328.5 306.5,330.5 306.5,331.5 306.5,332.5 306.5,333.5 306.5,334.5 306.5,335.5 306.5,337.5 306.5,338.5 306.5,339.5 306.5,341.5 307.5,319.5 307.5,324.5 307.5,328.5 307.5,330.5 308.5,314.5 308.5,316.5 308.5,317.5 308.5,318.5 308.5,319.5 308.5,321.5 308.5,323.5 308.5,324.5 308.5,325.5 308.5,326.5 308.5,327.5 308.5,330.5 308.5,331.5 308.5,332.5 308.5,333.5 308.5,334.5 308.5,335.5 308.5,337.5 308.5,339.5 308.5,340.5 308.5,341.5 308.5,343.5 309.5,318.5 309.5,325.5 309.5,333.5 309.5,335.5 309.5,338.5 309.5,342.5 310.5,316.5 310.5,318.5 310.5,321.5 310.5,322.5 310.5,323.5 310.5,324.5 310.5,325.5 310.5,326.5 310.5,327.5 310.5,328.5 310.5,330.5 310.5,332.5 310.5,333.5 310.5,334.5 310.5,335.5 310.5,337.5 310.5,338.5 310.5,339.5 310.5,340.5 310.5,341.5 310.5,342.5 310.5,343.5 310.5,344.5 310.5,346.5 310.5,347.5 310.5,348.5 310.5,349.5 310.5,350.5 310.5,351.5 310.5,352.5 310.5,353.5 310.5,355.5 310.5,356.5 310.5,357.5 310.5,358.5 310.5,359.5 310.5,361.5 311.5,325.5 311.5,327.5 311.5,334.5 311.5,340.5 311.5,344.5 311.5,349.5 311.5,352.5 311.5,355.5 311.5,358.5 312.5,314.5 312.5,315.5 312.5,318.5 312.5,321.5 312.5,322.5 312.5,323.5 312.5,324.5 312.5,325.5 312.5,326.5 312.5,327.5 312.5,330.5 312.5,331.5 312.5,332.5 312.5,333.5 312.5,334.5 312.5,337.5 312.5,339.5 312.5,341.5 313.5,322.5 313.5,327.5 314.5,316.5 314.5,318.5 314.5,321.5 314.5,322.5 314.5,323.5 314.5,324.5 314.5,325.5 314.5,326.5 314.5,328.5 314.5,330.5 314.5,331.5 314.5,332.5 314.5,333.5 314.5,334.5 314.5,335.5 314.5,337.5 314.5,339.5 314.5,340.5 315.5,323.5 315.5,330.5 316.5,316.5 316.5,318.5 316.5,321.5 316.5,322.5 316.5,323.5 316.5,324.5 316.5,325.5 316.5,327.5 316.5,328.5 316.5,330.5 316.5,332.5 316.5,333.5 316.5,334.5 316.5,335.5 316.5,337.5 316.5,338.5 316.5,339.5 316.5,340.5 316.5,341.5 316.5,342.5 316.5,343.5 316.5,346.5 316.5,347.5 316.5,349.5 316.5,350.5 316.5,351.5 316.5,352.5 316.5,355.5 316.5,357.5 317.5,323.5 317.5,332.5 317.5,338.5"/>
<polyline fill="none" stroke="none" marker-start="url(#c)" marker-mid="url(#c)" marker-end="url(#c)" points="317.5,350.5 317.5,355.5 319.5,298.5 319.5,300.5 319.5,301.5 319.5,303.5 319.5,304.5 319.5,305.5 319.5,306.5 319.5,307.5 319.5,308.5 319.5,309.5 319.5,312.5 319.5,313.5 319.5,314.5 319.5,316.5 319.5,317.5 319.5,318.5 319.5,319.5 319.5,321.5 319.5,322.5 319.5,323.5 319.5,324.5 319.5,325.5 319.5,326.5 319.5,327.5 319.5,328.5 319.5,330.5 319.5,331.5 319.5,332.5 319.5,333.5 319.5,334.5 319.5,335.5 319.5,338.5 319.5,339.5 319.5,340.5 319.5,341.5 319.5,342.5 319.5,344.5 319.5,346.5 319.5,349.5 319.5,350.5 319.5,352.5 320.5,304.5 320.5,308.5 320.5,309.5 320.5,327.5 320.5,333.5 320.5,338.5 320.5,347.5 320.5,349.5 321.5,287.5 321.5,290.5 321.5,291.5 321.5,292.5 321.5,294.5 321.5,295.5 321.5,296.5 321.5,297.5 321.5,298.5 321.5,300.5 321.5,301.5 321.5,303.5 321.5,305.5 321.5,306.5 321.5,307.5 321.5,308.5 321.5,309.5 321.5,310.5 321.5,312.5 321.5,313.5 321.5,314.5 321.5,315.5 321.5,316.5 321.5,317.5 321.5,318.5 321.5,319.5 321.5,321.5 321.5,322.5 321.5,323.5 321.5,324.5 321.5,325.5 321.5,326.5 321.5,327.5 321.5,328.5 321.5,330.5 321.5,331.5 321.5,332.5 321.5,333.5 321.5,334.5 321.5,335.5 321.5,337.5 321.5,338.5 321.5,339.5 321.5,341.5 321.5,342.5 321.5,343.5 321.5,344.5 321.5,346.5 321.5,347.5 321.5,348.5 321.5,350.5 321.5,351.5 321.5,352.5 321.5,353.5 321.5,355.5 321.5,357.5 321.5,359.5 321.5,360.5 321.5,361.5 322.5,294.5 322.5,297.5 322.5,301.5 322.5,303.5 322.5,308.5 322.5,313.5 322.5,317.5 322.5,322.5 322.5,324.5 322.5,325.5 322.5,330.5 322.5,332.5 322.5,335.5 322.5,340.5 322.5,342.5 322.5,343.5 322.5,346.5 322.5,351.5 322.5,361.5 323.5,282.5 323.5,283.5 323.5,285.5 323.5,286.5 323.5,287.5 323.5,289.5 323.5,290.5 323.5,291.5 323.5,292.5 323.5,294.5 323.5,295.5 323.5,296.5 323.5,297.5 323.5,298.5 323.5,299.5 323.5,300.5 323.5,301.5 323.5,303.5 323.5,304.5 323.5,305.5 323.5,306.5 323.5,307.5 323.5,308.5 323.5,309.5 323.5,310.5 323.5,312.5 323.5,314.5 323.5,315.5 323.5,316.5 323.5,317.5 323.5,318.5 323.5,321.5 323.5,322.5 323.5,324.5 323.5,325.5 323.5,326.5 323.5,327.5 323.5,328.5 323.5,330.5 323.5,331.5 323.5,332.5 323.5,333.5 323.5,334.5 323.5,335.5 323.5,337.5 323.5,338.5 323.5,339.5 323.5,340.5 323.5,341.5 323.5,342.5 323.5,343.5 323.5,344.5 323.5,346.5 323.5,348.5 323.5,350.5 323.5,351.5 323.5,352.5 323.5,353.5 323.5,355.5 323.5,357.5 324.5,298.5 324.5,304.5 324.5,312.5 324.5,314.5 324.5,316.5 324.5,325.5 324.5,331.5 324.5,340.5 324.5,341.5 324.5,343.5 324.5,346.5 324.5,349.5 324.5,351.5 324.5,356.5 325.5,285.5 325.5,287.5 325.5,288.5 325.5,289.5 325.5,290.5 325.5,291.5 325.5,292.5 325.5,294.5 325.5,295.5 325.5,296.5 325.5,297.5 325.5,298.5 325.5,300.5 325.5,301.5 325.5,303.5 325.5,304.5 325.5,305.5 325.5,306.5 325.5,307.5 325.5,308.5 325.5,309.5 325.5,310.5 325.5,312.5 325.5,313.5 325.5,314.5 325.5,315.5 325.5,316.5 325.5,317.5 325.5,318.5 325.5,319.5 325.5,321.5 325.5,323.5 325.5,324.5 325.5,325.5 325.5,326.5 325.5,327.5 325.5,328.5 325.5,330.5 325.5,332.5 325.5,333.5 325.5,334.5 325.5,335.5 325.5,337.5 325.5,338.5 325.5,339.5 325.5,340.5 325.5,341.5 325.5,342.5 325.5,343.5 325.5,344.5 325.5,346.5 325.5,347.5 325.5,348.5 325.5,349.5 325.5,350.5 325.5,351.5 325.5,353.5 325.5,355.5 325.5,356.5 325.5,357.5 325.5,358.5 325.5,359.5 325.5,360.5 325.5,361.5 326.5,287.5 326.5,295.5 326.5,300.5 326.5,313.5 326.5,316.5 326.5,319.5 326.5,322.5 326.5,325.5 326.5,327.5 326.5,330.5 326.5,334.5 326.5,338.5 326.5,346.5 326.5,352.5 326.5,357.5 327.5,285.5 327.5,287.5 327.5,288.5 327.5,289.5 327.5,290.5 327.5,291.5 327.5,292.5 327.5,294.5 327.5,295.5 327.5,296.5 327.5,297.5 327.5,298.5 327.5,299.5 327.5,300.5 327.5,301.5 327.5,303.5 327.5,304.5 327.5,305.5 327.5,306.5 327.5,307.5 327.5,308.5 327.5,309.5 327.5,310.5 327.5,312.5 327.5,313.5 327.5,314.5 327.5,315.5 327.5,316.5 327.5,317.5 327.5,318.5 327.5,319.5 327.5,322.5 327.5,323.5 327.5,324.5 327.5,325.5 327.5,326.5 327.5,327.5 327.5,328.5 327.5,330.5 327.5,332.5 327.5,333.5 327.5,334.5 327.5,335.5 327.5,337.5 327.5,338.5 327.5,339.5 327.5,340.5 327.5,341.5 327.5,342.5 327.5,343.5 327.5,344.5 327.5,346.5 327.5,347.5 327.5,348.5 327.5,349.5 327.5,350.5 327.5,351.5 327.5,352.5 327.5,353.5 327.5,355.5 327.5,356.5 327.5,357.5 327.5,358.5 327.5,359.5 327.5,360.5 327.5,361.5 327.5,362.5 327.5,364.5 327.5,366.5 328.5,289.5 328.5,294.5 328.5,297.5 328.5,300.5 328.5,305.5 328.5,308.5 328.5,317.5 328.5,330.5 328.5,332.5 328.5,340.5 328.5,342.5 328.5,344.5 328.5,360.5 329.5,282.5 329.5,287.5 329.5,288.5 329.5,289.5 329.5,290.5 329.5,291.5 329.5,292.5 329.5,295.5 329.5,297.5 329.5,298.5 329.5,299.5 329.5,300.5 329.5,301.5 329.5,303.5 329.5,304.5 329.5,305.5 329.5,306.5 329.5,307.5 329.5,308.5 329.5,309.5 329.5,310.5 329.5,312.5 329.5,313.5 329.5,314.5 329.5,315.5 329.5,316.5 329.5,317.5 329.5,318.5 329.5,319.5 329.5,321.5 329.5,322.5 329.5,323.5 329.5,325.5 329.5,326.5 329.5,327.5 329.5,328.5"/>
<polyline fill="none" stroke="none" marker-start="url(#c)" marker-mid="url(#c)" marker-end="url(#c)" points="329.5,330.5 329.5,331.5 329.5,332.5 329.5,333.5 329.5,334.5 329.5,335.5 329.5,337.5 329.5,338.5 329.5,339.5 329.5,341.5 329.5,343.5 329.5,346.5 329.5,347.5 329.5,348.5 329.5,350.5 329.5,351.5 329.5,352.5 329.5,353.5 329.5,355.5 329.5,357.5 329.5,359.5 329.5,361.5 329.5,362.5 329.5,364.5 329.5,365.5 329.5,366.5 329.5,368.5 330.5,283.5 330.5,289.5 330.5,295.5 330.5,297.5 330.5,298.5 330.5,303.5 330.5,306.5 330.5,308.5 330.5,314.5 330.5,317.5 330.5,319.5 330.5,331.5 330.5,332.5 330.5,338.5 330.5,340.5 330.5,342.5 330.5,352.5 330.5,355.5 330.5,359.5 331.5,285.5 331.5,287.5 331.5,288.5 331.5,289.5 331.5,291.5 331.5,292.5 331.5,294.5 331.5,295.5 331.5,296.5 331.5,297.5 331.5,298.5 331.5,299.5 331.5,300.5 331.5,301.5 331.5,303.5 331.5,305.5 331.5,306.5 331.5,307.5 331.5,308.5 331.5,310.5 331.5,312.5 331.5,314.5 331.5,315.5 331.5,316.5 331.5,317.5 331.5,318.5 331.5,319.5 331.5,321.5 331.5,322.5 331.5,323.5 331.5,324.5 331.5,325.5 331.5,326.5 331.5,327.5 331.5,328.5 331.5,330.5 331.5,331.5 331.5,332.5 331.5,333.5 331.5,334.5 331.5,337.5 331.5,338.5 331.5,339.5 331.5,340.5 331.5,341.5 331.5,342.5 331.5,343.5 331.5,344.5 331.5,348.5 331.5,349.5 331.5,350.5 331.5,351.5 331.5,352.5 331.5,353.5 331.5,355.5 331.5,357.5 331.5,358.5 331.5,359.5 331.5,360.5 331.5,361.5 331.5,362.5 331.5,364.5 331.5,365.5 331.5,366.5 331.5,368.5 331.5,370.5 331.5,373.5 332.5,288.5 332.5,295.5 332.5,296.5 332.5,299.5 332.5,303.5 332.5,308.5 332.5,314.5 332.5,318.5 332.5,324.5 332.5,331.5 332.5,333.5 332.5,335.5 332.5,338.5 332.5,342.5 332.5,344.5 332.5,349.5 332.5,356.5 332.5,360.5 332.5,368.5 333.5,325.5 333.5,327.5 333.5,330.5 333.5,331.5 333.5,332.5 333.5,333.5 333.5,334.5 333.5,337.5 333.5,339.5 333.5,340.5 333.5,341.5 333.5,342.5 333.5,343.5 333.5,344.5 333.5,346.5 333.5,347.5 333.5,348.5 333.5,349.5 333.5,350.5 333.5,351.5 333.5,352.5 333.5,353.5 333.5,355.5 333.5,356.5 333.5,357.5 333.5,358.5 333.5,359.5 333.5,361.5 333.5,362.5 333.5,364.5 333.5,365.5 333.5,366.5 333.5,367.5 333.5,368.5 333.5,369.5 333.5,370.5 333.5,373.5 333.5,375.5 334.5,343.5 334.5,347.5 334.5,352.5 334.5,355.5 334.5,359.5 334.5,365.5 335.5,330.5 335.5,331.5 335.5,332.5 335.5,334.5 335.5,335.5 335.5,337.5 335.5,338.5 335.5,339.5 335.5,340.5 335.5,341.5 335.5,342.5 335.5,343.5 335.5,344.5 335.5,347.5 335.5,348.5 335.5,349.5 335.5,350.5 335.5,353.5 335.5,355.5 335.5,357.5 335.5,358.5 335.5,359.5 335.5,360.5 335.5,361.5 335.5,362.5 335.5,364.5 335.5,365.5 335.5,366.5 335.5,368.5 335.5,369.5 335.5,370.5 335.5,373.5 336.5,334.5 336.5,339.5 336.5,342.5 336.5,348.5 336.5,351.5 336.5,356.5 336.5,366.5 338.5,332.5 338.5,333.5 338.5,334.5 338.5,335.5 338.5,337.5 338.5,338.5 338.5,339.5 338.5,340.5 338.5,341.5 338.5,342.5 338.5,343.5 338.5,344.5 338.5,346.5 338.5,347.5 338.5,348.5 338.5,349.5 338.5,350.5 338.5,351.5 338.5,352.5 338.5,353.5 338.5,355.5 338.5,356.5 338.5,357.5 338.5,358.5 338.5,359.5 338.5,361.5 338.5,362.5 338.5,364.5 338.5,365.5 338.5,366.5 339.5,347.5 339.5,348.5 340.5,341.5 340.5,342.5 340.5,343.5 340.5,344.5 340.5,346.5 340.5,347.5 340.5,348.5 340.5,349.5 340.5,350.5 340.5,351.5 340.5,352.5 340.5,353.5 340.5,355.5 340.5,356.5 340.5,357.5 340.5,358.5 340.5,359.5 340.5,360.5 340.5,361.5 340.5,364.5 340.5,366.5 341.5,351.5 341.5,357.5 342.5,341.5 342.5,343.5 342.5,346.5 342.5,348.5 342.5,350.5 342.5,351.5 342.5,352.5 342.5,355.5 342.5,356.5 342.5,357.5 342.5,358.5 342.5,359.5 342.5,361.5 342.5,362.5 342.5,364.5 342.5,365.5 342.5,366.5 342.5,367.5 342.5,368.5 342.5,369.5 342.5,370.5 343.5,352.5 343.5,357.5 343.5,362.5 343.5,367.5 344.5,346.5 344.5,348.5 344.5,350.5 344.5,352.5 344.5,353.5 344.5,355.5 344.5,356.5 344.5,357.5 344.5,358.5 344.5,359.5 344.5,360.5 344.5,361.5 344.5,362.5 344.5,364.5 344.5,365.5 344.5,366.5 344.5,367.5 344.5,368.5 344.5,369.5 344.5,370.5 344.5,373.5 344.5,375.5 344.5,376.5 344.5,377.5 344.5,378.5 345.5,360.5 345.5,364.5 345.5,370.5 345.5,374.5 346.5,346.5 346.5,348.5 346.5,350.5 346.5,352.5 346.5,353.5 346.5,355.5 346.5,356.5 346.5,357.5 346.5,358.5 346.5,359.5 346.5,360.5 346.5,361.5 346.5,362.5 346.5,365.5 346.5,366.5 346.5,367.5 346.5,368.5 346.5,370.5 346.5,371.5 346.5,373.5 346.5,374.5 346.5,375.5 346.5,376.5 346.5,377.5 346.5,378.5 346.5,379.5 347.5,358.5 347.5,359.5 347.5,361.5 347.5,365.5 347.5,367.5 347.5,374.5 348.5,348.5 348.5,350.5 348.5,351.5 348.5,352.5 348.5,353.5 348.5,355.5 348.5,356.5 348.5,357.5 348.5,358.5 348.5,359.5 348.5,360.5 348.5,361.5 348.5,362.5 348.5,364.5 348.5,365.5 348.5,366.5 348.5,367.5 348.5,368.5 348.5,369.5 348.5,370.5 348.5,371.5 348.5,373.5 348.5,375.5 348.5,376.5 349.5,351.5 349.5,358.5 349.5,362.5 349.5,374.5 350.5,346.5 350.5,348.5 350.5,350.5 350.5,352.5 350.5,353.5 350.5,355.5 350.5,356.5 350.5,357.5 350.5,359.5 350.5,361.5 350.5,362.5 350.5,364.5 350.5,366.5 350.5,367.5 350.5,368.5 350.5,369.5"/>
<polyline fill="none" stroke="none" marker-start="url(#c)" marker-mid="url(#c)" marker-end="url(#c)" points="350.5,371.5 350.5,374.5 350.5,377.5 351.5,355.5 351.5,358.5 351.5,359.5 351.5,367.5 351.5,371.5 352.5,346.5 352.5,348.5 352.5,350.5 352.5,351.5 352.5,352.5 352.5,353.5 352.5,355.5 352.5,356.5 352.5,357.5 352.5,359.5 352.5,360.5 352.5,361.5 352.5,362.5 352.5,364.5 352.5,365.5 352.5,366.5 352.5,367.5 352.5,368.5 352.5,369.5 352.5,370.5 352.5,371.5 352.5,373.5 352.5,374.5 352.5,375.5 352.5,377.5 352.5,378.5 352.5,379.5 352.5,382.5 353.5,349.5 353.5,355.5 353.5,358.5 353.5,360.5 353.5,367.5 353.5,370.5 353.5,376.5 353.5,382.5 354.5,348.5 354.5,350.5 354.5,352.5 354.5,355.5 354.5,356.5 354.5,357.5 354.5,358.5 354.5,359.5 354.5,360.5 354.5,361.5 354.5,362.5 354.5,364.5 354.5,365.5 354.5,366.5 354.5,367.5 354.5,368.5 354.5,369.5 354.5,370.5 354.5,371.5 354.5,373.5 354.5,374.5 354.5,375.5 354.5,376.5 354.5,377.5 354.5,379.5 354.5,382.5 355.5,355.5 355.5,358.5 355.5,360.5 355.5,367.5 355.5,369.5 357.5,352.5 357.5,355.5 357.5,356.5 357.5,357.5 357.5,358.5 357.5,359.5 357.5,360.5 357.5,361.5 357.5,362.5 357.5,364.5 357.5,366.5 357.5,367.5 357.5,368.5 357.5,369.5 357.5,370.5 358.5,355.5 358.5,358.5 358.5,365.5 359.5,346.5 359.5,348.5 359.5,350.5 359.5,351.5 359.5,352.5 359.5,353.5 359.5,355.5 359.5,356.5 359.5,357.5 359.5,358.5 359.5,359.5 359.5,361.5 359.5,362.5 359.5,364.5 359.5,365.5 359.5,366.5 359.5,367.5 359.5,368.5 359.5,370.5 360.5,353.5 360.5,361.5 360.5,367.5 360.5,369.5 360.5,370.5 361.5,341.5 361.5,343.5 361.5,348.5 361.5,349.5 361.5,350.5 361.5,352.5 361.5,353.5 361.5,355.5 361.5,356.5 361.5,357.5 361.5,358.5 361.5,360.5 361.5,361.5 361.5,362.5 361.5,364.5 361.5,365.5 361.5,366.5 361.5,368.5 361.5,370.5 362.5,350.5 362.5,360.5 362.5,361.5 362.5,365.5 362.5,371.5 363.5,346.5 363.5,348.5 363.5,350.5 363.5,352.5 363.5,353.5 363.5,355.5 363.5,356.5 363.5,357.5 363.5,358.5 363.5,359.5 363.5,360.5 363.5,361.5 363.5,362.5 363.5,364.5 363.5,367.5 363.5,368.5 364.5,350.5 364.5,360.5 364.5,361.5 365.5,346.5 365.5,348.5 365.5,350.5 365.5,351.5 365.5,352.5 365.5,353.5 365.5,355.5 365.5,356.5 365.5,357.5 365.5,358.5 365.5,359.5 365.5,360.5 365.5,361.5 365.5,364.5 365.5,366.5 365.5,368.5 365.5,373.5 365.5,374.5 366.5,355.5 366.5,357.5 366.5,359.5 366.5,365.5 366.5,367.5 367.5,348.5 367.5,349.5 367.5,350.5 367.5,352.5 367.5,353.5 367.5,355.5 367.5,356.5 367.5,357.5 367.5,358.5 367.5,359.5 367.5,360.5 367.5,361.5 367.5,362.5 367.5,364.5 367.5,365.5 367.5,366.5 367.5,368.5 367.5,370.5 368.5,353.5 368.5,359.5 368.5,362.5 368.5,369.5 369.5,348.5 369.5,350.5 369.5,352.5 369.5,353.5 369.5,355.5 369.5,357.5 369.5,358.5 369.5,359.5 369.5,361.5 369.5,362.5 369.5,364.5 369.5,365.5 369.5,367.5 369.5,368.5 369.5,370.5 370.5,360.5 370.5,362.5 370.5,365.5 371.5,346.5 371.5,349.5 371.5,350.5 371.5,353.5 371.5,355.5 371.5,356.5 371.5,357.5 371.5,358.5 371.5,359.5 371.5,360.5 371.5,361.5 371.5,362.5 371.5,364.5 371.5,365.5 371.5,366.5 371.5,367.5 371.5,368.5 371.5,369.5 371.5,370.5 371.5,373.5 371.5,374.5 372.5,350.5 372.5,355.5 372.5,357.5 372.5,359.5 372.5,361.5 372.5,369.5 373.5,348.5 373.5,350.5 373.5,352.5 373.5,353.5 373.5,355.5 373.5,356.5 373.5,357.5 373.5,358.5 373.5,359.5 373.5,361.5 373.5,362.5 373.5,364.5 373.5,365.5 373.5,366.5 373.5,367.5 373.5,368.5 373.5,369.5 373.5,370.5 373.5,371.5 373.5,375.5 373.5,376.5 374.5,351.5 374.5,352.5 374.5,361.5 374.5,364.5 374.5,367.5 376.5,343.5 376.5,344.5 376.5,346.5 376.5,348.5 376.5,350.5 376.5,351.5 376.5,352.5 376.5,353.5 376.5,355.5 376.5,356.5 376.5,357.5 376.5,358.5 376.5,359.5 376.5,360.5 376.5,361.5 376.5,362.5 376.5,365.5 376.5,366.5 376.5,368.5 376.5,370.5 376.5,371.5 376.5,373.5 376.5,375.5 376.5,376.5 376.5,377.5 377.5,351.5 377.5,352.5 377.5,360.5 377.5,362.5 377.5,364.5 377.5,374.5 377.5,378.5 378.5,343.5 378.5,346.5 378.5,348.5 378.5,349.5 378.5,350.5 378.5,351.5 378.5,352.5 378.5,353.5 378.5,355.5 378.5,356.5 378.5,357.5 378.5,358.5 378.5,359.5 378.5,361.5 378.5,362.5 378.5,364.5 378.5,366.5 379.5,359.5 380.5,342.5 380.5,343.5 380.5,346.5 380.5,347.5 380.5,348.5 380.5,349.5 380.5,350.5 380.5,351.5 380.5,352.5 380.5,353.5 380.5,355.5 380.5,356.5 380.5,357.5 380.5,358.5 380.5,359.5 380.5,360.5 380.5,361.5 380.5,364.5 380.5,365.5 380.5,366.5 381.5,353.5 381.5,356.5 381.5,357.5 381.5,360.5 382.5,343.5 382.5,344.5 382.5,346.5 382.5,347.5 382.5,348.5 382.5,350.5 382.5,352.5 382.5,353.5 382.5,355.5 382.5,357.5 382.5,358.5 382.5,359.5 382.5,360.5 382.5,361.5 382.5,362.5 382.5,368.5 383.5,349.5 383.5,353.5 383.5,355.5 383.5,357.5 383.5,360.5 384.5,346.5 384.5,348.5 384.5,350.5 384.5,352.5 384.5,355.5 384.5,356.5 384.5,357.5 384.5,358.5 384.5,359.5 384.5,360.5 384.5,361.5 384.5,362.5 384.5,364.5 384.5,365.5 384.5,367.5 384.5,368.5 384.5,370.5 386.5,343.5 386.5,346.5 386.5,348.5 386.5,350.5 386.5,351.5 386.5,352.5 386.5,353.5 386.5,355.5 386.5,356.5 386.5,357.5 386.5,358.5 386.5,359.5"/>
<polyline fill="none" stroke="none" marker-start="url(#c)" marker-mid="url(#c)" marker-end="url(#c)" points="386.5,360.5 386.5,361.5 386.5,364.5 386.5,365.5 386.5,366.5 386.5,367.5 386.5,368.5 386.5,369.5 386.5,370.5 387.5,351.5 387.5,353.5 387.5,367.5 387.5,370.5 388.5,346.5 388.5,348.5 388.5,350.5 388.5,351.5 388.5,352.5 388.5,353.5 388.5,355.5 388.5,356.5 388.5,357.5 388.5,358.5 388.5,359.5 388.5,360.5 388.5,362.5 388.5,364.5 388.5,365.5 388.5,366.5 388.5,367.5 388.5,368.5 388.5,369.5 388.5,370.5 389.5,351.5 389.5,360.5 389.5,364.5 390.5,346.5 390.5,348.5 390.5,349.5 390.5,350.5 390.5,351.5 390.5,352.5 390.5,353.5 390.5,355.5 390.5,356.5 390.5,357.5 390.5,359.5 390.5,360.5 390.5,361.5 390.5,364.5 390.5,366.5 391.5,350.5 391.5,353.5 391.5,356.5 392.5,343.5 392.5,346.5 392.5,348.5 392.5,349.5 392.5,350.5 392.5,352.5 392.5,353.5 392.5,355.5 392.5,356.5 392.5,357.5 392.5,358.5 392.5,359.5 392.5,360.5 392.5,361.5 392.5,362.5 392.5,364.5 392.5,365.5 392.5,366.5 392.5,367.5 392.5,368.5 392.5,369.5 392.5,370.5 393.5,348.5 393.5,353.5 393.5,359.5 393.5,361.5 393.5,365.5 393.5,366.5 395.5,343.5 395.5,346.5 395.5,348.5 395.5,349.5 395.5,351.5 395.5,352.5 395.5,353.5 395.5,355.5 395.5,356.5 395.5,357.5 395.5,359.5 395.5,360.5 395.5,361.5 395.5,364.5 395.5,365.5 395.5,366.5 395.5,367.5 395.5,368.5 395.5,369.5 395.5,370.5 395.5,373.5 395.5,375.5 396.5,356.5 396.5,359.5 396.5,365.5 396.5,369.5 397.5,341.5 397.5,343.5 397.5,346.5 397.5,348.5 397.5,349.5 397.5,350.5 397.5,351.5 397.5,352.5 397.5,353.5 397.5,355.5 397.5,356.5 397.5,357.5 397.5,358.5 397.5,359.5 397.5,360.5 397.5,361.5 397.5,362.5 397.5,364.5 397.5,365.5 397.5,366.5 398.5,348.5 398.5,351.5 398.5,355.5 398.5,362.5 399.5,341.5 399.5,346.5 399.5,348.5 399.5,349.5 399.5,350.5 399.5,352.5 399.5,353.5 399.5,355.5 399.5,356.5 399.5,357.5 399.5,358.5 399.5,359.5 399.5,360.5 399.5,361.5 400.5,356.5 401.5,343.5 401.5,346.5 401.5,348.5 401.5,349.5 401.5,350.5 401.5,351.5 401.5,352.5 401.5,355.5 401.5,356.5 401.5,357.5 401.5,358.5 401.5,359.5 401.5,360.5 401.5,361.5 401.5,364.5 401.5,365.5 402.5,349.5 402.5,358.5 402.5,360.5 403.5,341.5 403.5,343.5 403.5,346.5 403.5,348.5 403.5,349.5 403.5,350.5 403.5,351.5 403.5,352.5 403.5,353.5 403.5,355.5 403.5,356.5 403.5,357.5 403.5,359.5 405.5,343.5 405.5,346.5 405.5,348.5 405.5,349.5 405.5,350.5 405.5,352.5 405.5,353.5 405.5,355.5 405.5,356.5 405.5,357.5 405.5,359.5 405.5,361.5 405.5,364.5 405.5,365.5 405.5,366.5 405.5,368.5 406.5,349.5 406.5,357.5 407.5,341.5 407.5,343.5 407.5,346.5 407.5,348.5 407.5,350.5 407.5,351.5 407.5,352.5 407.5,353.5 407.5,355.5 407.5,356.5 407.5,357.5 407.5,358.5 407.5,360.5 407.5,361.5 407.5,362.5 407.5,364.5 407.5,365.5 407.5,366.5 408.5,350.5 408.5,355.5 408.5,357.5 409.5,341.5 409.5,343.5 409.5,344.5 409.5,346.5 409.5,348.5 409.5,349.5 409.5,350.5 409.5,351.5 409.5,352.5 409.5,353.5 409.5,355.5 409.5,356.5 409.5,357.5 409.5,358.5 409.5,360.5 409.5,361.5 409.5,362.5 409.5,364.5 409.5,365.5 409.5,366.5 409.5,367.5 409.5,370.5 410.5,349.5 410.5,352.5 410.5,355.5 410.5,357.5 410.5,362.5 410.5,364.5 410.5,368.5 410.5,371.5 411.5,339.5 411.5,341.5 411.5,343.5 411.5,344.5 411.5,346.5 411.5,347.5 411.5,348.5 411.5,349.5 411.5,350.5 411.5,351.5 411.5,352.5 411.5,353.5 411.5,355.5 411.5,356.5 411.5,357.5 411.5,358.5 411.5,359.5 411.5,360.5 411.5,361.5 411.5,362.5 411.5,365.5 411.5,366.5 411.5,367.5 411.5,368.5 411.5,369.5 411.5,370.5 411.5,371.5 411.5,375.5 412.5,344.5 412.5,346.5 412.5,348.5 412.5,358.5 412.5,366.5 412.5,369.5 412.5,374.5 413.5,348.5 413.5,349.5 413.5,350.5 413.5,351.5 413.5,352.5 413.5,353.5 413.5,355.5 413.5,356.5 413.5,357.5 413.5,358.5 413.5,359.5 413.5,360.5 413.5,361.5 413.5,362.5 413.5,364.5 413.5,365.5 413.5,366.5 413.5,367.5 413.5,368.5 413.5,369.5 413.5,370.5 413.5,373.5 414.5,360.5 414.5,362.5 414.5,367.5 416.5,347.5 416.5,348.5 416.5,350.5 416.5,352.5 416.5,353.5 416.5,355.5 416.5,356.5 416.5,357.5 416.5,358.5 416.5,360.5 416.5,361.5 416.5,362.5 416.5,364.5 416.5,365.5 416.5,366.5 416.5,368.5 417.5,352.5 417.5,356.5 417.5,362.5 417.5,365.5 417.5,366.5 418.5,348.5 418.5,350.5 418.5,352.5 418.5,355.5 418.5,356.5 418.5,357.5 418.5,358.5 418.5,359.5 418.5,360.5 418.5,361.5 418.5,362.5 418.5,364.5 418.5,365.5 418.5,366.5 418.5,368.5 419.5,349.5 419.5,356.5 419.5,358.5 419.5,360.5 419.5,362.5 419.5,364.5 420.5,348.5 420.5,350.5 420.5,352.5 420.5,355.5 420.5,356.5 420.5,357.5 420.5,359.5 420.5,360.5 420.5,361.5 420.5,364.5 420.5,366.5 420.5,367.5 420.5,368.5 420.5,369.5 420.5,370.5 420.5,373.5 421.5,359.5 421.5,361.5 422.5,355.5 422.5,356.5 422.5,357.5 422.5,358.5 422.5,359.5 422.5,360.5 422.5,361.5 422.5,362.5 422.5,364.5 422.5,365.5 422.5,366.5 422.5,367.5 422.5,368.5 422.5,369.5 422.5,370.5 422.5,371.5 422.5,373.5 422.5,375.5 423.5,358.5 423.5,369.5 424.5,350.5 424.5,352.5 424.5,355.5 424.5,357.5 424.5,358.5 424.5,359.5 424.5,360.5 424.5,361.5 424.5,362.5 424.5,364.5 424.5,365.5 424.5,366.5"/>
<polyline fill="none" stroke="none" marker-start="url(#c)" marker-mid="url(#c)" marker-end="url(#c)" points="424.5,367.5 424.5,368.5 424.5,370.5 424.5,371.5 424.5,373.5 425.5,360.5 425.5,361.5 425.5,364.5 425.5,369.5 426.5,350.5 426.5,352.5 426.5,355.5 426.5,357.5 426.5,358.5 426.5,359.5 426.5,360.5 426.5,361.5 426.5,362.5 426.5,364.5 426.5,366.5 426.5,367.5 426.5,368.5 426.5,369.5 426.5,370.5 426.5,371.5 426.5,373.5 426.5,374.5 426.5,375.5 426.5,377.5 426.5,379.5 427.5,365.5 427.5,367.5 427.5,369.5 428.5,350.5 428.5,352.5 428.5,355.5 428.5,357.5 428.5,358.5 428.5,359.5 428.5,360.5 428.5,361.5 428.5,362.5 428.5,364.5 428.5,365.5 428.5,366.5 428.5,367.5 428.5,368.5 428.5,369.5 428.5,370.5 428.5,371.5 428.5,373.5 428.5,374.5 428.5,375.5 428.5,376.5 428.5,377.5 428.5,379.5 428.5,380.5 428.5,382.5 428.5,385.5 428.5,386.5 429.5,360.5 429.5,361.5 429.5,367.5 429.5,374.5 429.5,377.5 429.5,380.5 430.5,355.5 430.5,356.5 430.5,357.5 430.5,358.5 430.5,359.5 430.5,360.5 430.5,361.5 430.5,362.5 430.5,364.5 430.5,365.5 430.5,366.5 430.5,367.5 430.5,368.5 430.5,369.5 430.5,370.5 430.5,371.5 430.5,373.5 430.5,374.5 430.5,375.5 430.5,376.5 430.5,377.5 430.5,379.5 430.5,380.5 430.5,382.5 430.5,383.5 430.5,384.5 430.5,385.5 430.5,386.5 430.5,389.5 431.5,356.5 431.5,357.5 431.5,360.5 431.5,362.5 431.5,368.5 431.5,371.5 431.5,373.5 432.5,355.5 432.5,356.5 432.5,359.5 432.5,361.5 432.5,362.5 432.5,364.5 432.5,365.5 432.5,366.5 432.5,367.5 432.5,368.5 432.5,369.5 432.5,370.5 432.5,371.5 432.5,373.5 432.5,374.5 432.5,375.5 432.5,376.5 432.5,377.5 432.5,378.5 432.5,379.5 432.5,380.5 432.5,382.5 433.5,359.5 433.5,365.5 433.5,373.5 433.5,376.5 433.5,378.5 435.5,352.5 435.5,355.5 435.5,356.5 435.5,357.5 435.5,359.5 435.5,361.5 435.5,362.5 435.5,364.5 435.5,365.5 435.5,366.5 435.5,367.5 435.5,368.5 435.5,369.5 435.5,370.5 435.5,373.5 435.5,374.5 435.5,375.5 435.5,376.5 435.5,377.5 435.5,378.5 435.5,379.5 435.5,380.5 435.5,384.5 436.5,360.5 436.5,362.5 436.5,364.5 436.5,368.5 436.5,375.5 436.5,378.5 436.5,379.5 436.5,382.5 437.5,350.5 437.5,352.5 437.5,356.5 437.5,357.5 437.5,358.5 437.5,359.5 437.5,360.5 437.5,361.5 437.5,364.5 437.5,365.5 437.5,366.5 437.5,367.5 437.5,368.5 437.5,369.5 437.5,370.5 437.5,371.5 437.5,373.5 437.5,374.5 437.5,375.5 437.5,376.5 437.5,377.5 437.5,378.5 437.5,379.5 437.5,380.5 437.5,382.5 437.5,383.5 437.5,384.5 437.5,385.5 437.5,386.5 437.5,389.5 437.5,391.5 438.5,361.5 438.5,369.5 438.5,370.5 438.5,384.5 438.5,390.5 439.5,355.5 439.5,357.5 439.5,358.5 439.5,359.5 439.5,360.5 439.5,361.5 439.5,362.5 439.5,364.5 439.5,365.5 439.5,366.5 439.5,367.5 439.5,368.5 439.5,369.5 439.5,370.5 439.5,371.5 439.5,373.5 439.5,374.5 439.5,375.5 439.5,376.5 439.5,377.5 439.5,378.5 439.5,379.5 439.5,380.5 439.5,382.5 439.5,383.5 439.5,384.5 439.5,385.5 439.5,386.5 439.5,389.5 439.5,390.5 439.5,391.5 439.5,393.5 440.5,360.5 440.5,362.5 440.5,365.5 440.5,366.5 440.5,376.5 440.5,379.5 440.5,389.5 440.5,393.5 441.5,357.5 441.5,359.5 441.5,361.5 441.5,364.5 441.5,365.5 441.5,366.5 441.5,367.5 441.5,368.5 441.5,370.5 441.5,371.5 441.5,373.5 441.5,374.5 441.5,375.5 441.5,376.5 441.5,377.5 441.5,378.5 441.5,379.5 441.5,380.5 441.5,382.5 441.5,383.5 441.5,384.5 441.5,386.5 441.5,389.5 442.5,364.5 442.5,370.5 442.5,386.5 443.5,352.5 443.5,355.5 443.5,357.5 443.5,358.5 443.5,359.5 443.5,360.5 443.5,361.5 443.5,365.5 443.5,366.5 443.5,368.5 443.5,369.5 443.5,370.5 443.5,371.5 443.5,373.5 443.5,374.5 443.5,375.5 443.5,376.5 443.5,377.5 443.5,379.5 444.5,365.5 444.5,366.5 444.5,369.5 444.5,379.5 445.5,346.5 445.5,348.5 445.5,349.5 445.5,350.5 445.5,352.5 445.5,355.5 445.5,356.5 445.5,357.5 445.5,358.5 445.5,359.5 445.5,360.5 445.5,361.5 445.5,362.5 445.5,364.5 445.5,365.5 445.5,366.5 445.5,367.5 445.5,368.5 445.5,369.5 445.5,370.5 445.5,371.5 445.5,373.5 445.5,375.5 446.5,347.5 446.5,356.5 446.5,358.5 446.5,359.5 446.5,362.5 446.5,366.5 446.5,371.5 447.5,339.5 447.5,341.5 447.5,343.5 447.5,346.5 447.5,347.5 447.5,348.5 447.5,350.5 447.5,352.5 447.5,353.5 447.5,355.5 447.5,356.5 447.5,357.5 447.5,358.5 447.5,359.5 447.5,360.5 447.5,361.5 447.5,362.5 447.5,364.5 447.5,365.5 447.5,366.5 447.5,368.5 447.5,369.5 447.5,371.5 447.5,373.5 448.5,344.5 448.5,346.5 448.5,349.5 448.5,351.5 448.5,359.5 448.5,362.5 448.5,365.5 449.5,339.5 449.5,340.5 449.5,341.5 449.5,344.5 449.5,346.5 449.5,347.5 449.5,348.5 449.5,350.5 449.5,352.5 449.5,353.5 449.5,355.5 449.5,356.5 449.5,357.5 449.5,358.5 449.5,359.5 449.5,360.5 449.5,361.5 449.5,362.5 449.5,364.5 449.5,365.5 449.5,368.5 450.5,339.5 450.5,344.5 450.5,347.5 450.5,352.5 450.5,355.5 450.5,359.5 450.5,362.5 451.5,334.5 451.5,337.5 451.5,339.5 451.5,340.5 451.5,341.5 451.5,342.5 451.5,343.5 451.5,346.5 451.5,348.5 451.5,349.5 451.5,350.5 451.5,351.5 451.5,352.5 451.5,355.5 451.5,357.5 451.5,358.5 451.5,359.5 451.5,360.5 451.5,361.5 451.5,362.5 451.5,364.5 452.5,348.5 452.5,352.5 452.5,356.5 454.5,334.5 454.5,335.5"/>
<polyline fill="none" stroke="none" marker-start="url(#c)" marker-mid="url(#c)" marker-end="url(#c)" points="454.5,337.5 454.5,339.5 454.5,340.5 454.5,341.5 454.5,342.5 454.5,343.5 454.5,344.5 454.5,346.5 454.5,347.5 454.5,348.5 454.5,350.5 454.5,351.5 454.5,352.5 454.5,355.5 454.5,356.5 454.5,357.5 454.5,359.5 454.5,361.5 454.5,364.5 455.5,341.5 455.5,343.5 455.5,347.5 455.5,348.5 455.5,350.5 455.5,352.5 456.5,334.5 456.5,337.5 456.5,339.5 456.5,340.5 456.5,341.5 456.5,342.5 456.5,343.5 456.5,344.5 456.5,346.5 456.5,347.5 456.5,348.5 456.5,349.5 456.5,350.5 456.5,351.5 457.5,338.5 457.5,343.5 457.5,347.5 457.5,348.5 458.5,332.5 458.5,334.5 458.5,337.5 458.5,339.5 458.5,340.5 458.5,341.5 458.5,342.5 458.5,343.5 458.5,344.5 458.5,346.5 458.5,347.5 458.5,348.5 458.5,349.5 458.5,350.5 458.5,352.5 458.5,353.5 458.5,355.5 459.5,340.5 459.5,342.5 459.5,344.5 460.5,330.5 460.5,332.5 460.5,334.5 460.5,337.5 460.5,338.5 460.5,339.5 460.5,340.5 460.5,341.5 460.5,343.5 460.5,344.5 460.5,346.5 460.5,347.5 460.5,348.5 460.5,349.5 460.5,350.5 460.5,355.5 461.5,334.5 461.5,348.5 462.5,327.5 462.5,330.5 462.5,332.5 462.5,333.5 462.5,334.5 462.5,335.5 462.5,337.5 462.5,338.5 462.5,339.5 462.5,340.5 462.5,341.5 462.5,344.5 462.5,346.5 462.5,347.5 462.5,348.5 462.5,349.5 462.5,350.5 462.5,352.5 462.5,353.5 462.5,355.5 462.5,356.5 462.5,357.5 462.5,360.5 463.5,335.5 463.5,337.5 463.5,346.5 463.5,350.5 463.5,353.5 464.5,327.5 464.5,330.5 464.5,331.5 464.5,332.5 464.5,333.5 464.5,334.5 464.5,337.5 464.5,338.5 464.5,339.5 464.5,340.5 464.5,341.5 464.5,342.5 464.5,343.5 464.5,344.5 464.5,346.5 464.5,347.5 464.5,348.5 464.5,349.5 464.5,350.5 464.5,352.5 464.5,355.5 465.5,331.5 466.5,323.5 466.5,325.5 466.5,330.5 466.5,331.5 466.5,332.5 466.5,333.5 466.5,334.5 466.5,335.5 466.5,337.5 466.5,339.5 466.5,340.5 466.5,341.5 466.5,342.5 466.5,343.5 466.5,344.5 466.5,346.5 466.5,347.5 466.5,348.5 466.5,349.5 466.5,350.5 466.5,351.5 466.5,352.5 467.5,331.5 467.5,333.5 467.5,338.5 467.5,340.5 467.5,343.5 467.5,346.5 467.5,349.5 468.5,325.5 468.5,327.5 468.5,330.5 468.5,332.5 468.5,333.5 468.5,334.5 468.5,337.5 468.5,338.5 468.5,339.5 468.5,341.5 468.5,342.5 468.5,343.5 468.5,344.5 468.5,346.5 468.5,348.5 468.5,349.5 468.5,350.5 468.5,353.5 468.5,355.5 469.5,331.5 469.5,335.5 469.5,338.5 469.5,339.5 469.5,343.5 469.5,348.5 470.5,325.5 470.5,327.5 470.5,330.5 470.5,332.5 470.5,333.5 470.5,334.5 470.5,335.5 470.5,337.5 470.5,338.5 470.5,339.5 470.5,340.5 470.5,341.5 470.5,342.5 470.5,343.5 470.5,347.5 470.5,348.5 470.5,350.5 470.5,352.5 470.5,353.5 470.5,355.5 471.5,341.5 471.5,346.5 471.5,351.5 473.5,325.5 473.5,327.5 473.5,328.5 473.5,330.5 473.5,332.5 473.5,333.5 473.5,334.5 473.5,335.5 473.5,337.5 473.5,338.5 473.5,339.5 473.5,340.5 473.5,341.5 473.5,342.5 473.5,343.5 473.5,344.5 473.5,346.5 473.5,347.5 473.5,348.5 473.5,349.5 473.5,350.5 473.5,351.5 473.5,352.5 473.5,355.5 473.5,357.5 474.5,333.5 474.5,340.5 475.5,327.5 475.5,330.5 475.5,332.5 475.5,333.5 475.5,334.5 475.5,335.5 475.5,337.5 475.5,338.5 475.5,339.5 475.5,340.5 475.5,341.5 475.5,342.5 475.5,343.5 475.5,344.5 475.5,346.5 475.5,347.5 475.5,348.5 475.5,350.5 476.5,331.5 476.5,332.5 476.5,340.5 476.5,341.5 476.5,343.5 477.5,327.5 477.5,330.5 477.5,332.5 477.5,333.5 477.5,334.5 477.5,335.5 477.5,337.5 477.5,338.5 477.5,339.5 477.5,341.5 477.5,342.5 477.5,343.5 477.5,344.5 477.5,346.5 477.5,348.5 477.5,349.5 477.5,350.5 477.5,351.5 477.5,352.5 477.5,353.5 477.5,355.5 478.5,333.5 478.5,335.5 478.5,338.5 478.5,342.5 478.5,347.5 479.5,323.5 479.5,325.5 479.5,326.5 479.5,327.5 479.5,328.5 479.5,330.5 479.5,332.5 479.5,333.5 479.5,337.5 479.5,338.5 479.5,339.5 479.5,340.5 479.5,341.5 479.5,342.5 479.5,343.5 479.5,344.5 479.5,346.5 479.5,347.5 479.5,348.5 479.5,349.5 479.5,350.5 480.5,328.5 480.5,331.5 480.5,335.5 480.5,343.5 480.5,347.5 480.5,351.5 481.5,323.5 481.5,325.5 481.5,326.5 481.5,327.5 481.5,328.5 481.5,330.5 481.5,331.5 481.5,332.5 481.5,333.5 481.5,334.5 481.5,337.5 481.5,338.5 481.5,339.5 481.5,341.5 481.5,342.5 481.5,343.5 481.5,344.5 481.5,346.5 481.5,347.5 482.5,325.5 482.5,328.5 482.5,332.5 483.5,323.5 483.5,325.5 483.5,327.5 483.5,328.5 483.5,330.5 483.5,331.5 483.5,332.5 483.5,333.5 483.5,334.5 483.5,335.5 483.5,337.5 483.5,338.5 483.5,339.5 483.5,340.5 483.5,341.5 483.5,342.5 483.5,343.5 483.5,346.5 483.5,347.5 483.5,348.5 484.5,335.5 484.5,337.5 484.5,340.5 485.5,323.5 485.5,325.5 485.5,326.5 485.5,327.5 485.5,330.5 485.5,331.5 485.5,332.5 485.5,334.5 485.5,335.5 485.5,337.5 485.5,338.5 485.5,339.5 485.5,340.5 485.5,341.5 485.5,342.5 485.5,343.5 485.5,344.5 485.5,346.5 485.5,347.5 485.5,348.5 485.5,350.5 486.5,331.5 486.5,343.5 487.5,325.5 487.5,327.5 487.5,328.5 487.5,330.5 487.5,331.5 487.5,333.5 487.5,334.5 487.5,335.5 487.5,337.5 487.5,338.5 487.5,339.5 487.5,340.5 487.5,341.5 487.5,343.5 487.5,344.5 487.5,346.5 487.5,348.5 487.5,349.5 487.5,350.5 487.5,351.5 487.5,352.5"/>
<polyline fill="none" stroke="none" marker-start="url(#c)" marker-mid="url(#c)" marker-end="url(#c)" points="487.5,353.5 487.5,355.5 487.5,357.5 487.5,359.5 487.5,360.5 488.5,328.5 488.5,334.5 488.5,340.5 488.5,343.5 488.5,349.5 488.5,351.5 489.5,325.5 489.5,326.5 489.5,327.5 489.5,330.5 489.5,331.5 489.5,332.5 489.5,333.5 489.5,334.5 489.5,335.5 489.5,337.5 489.5,338.5 489.5,339.5 489.5,340.5 489.5,341.5 489.5,342.5 489.5,343.5 489.5,344.5 489.5,346.5 489.5,347.5 489.5,348.5 489.5,349.5 489.5,350.5 489.5,351.5 489.5,352.5 489.5,353.5 489.5,356.5 489.5,357.5 489.5,358.5 489.5,359.5 489.5,361.5 490.5,334.5 490.5,341.5 490.5,352.5 490.5,356.5 492.5,334.5 492.5,335.5 492.5,337.5 492.5,338.5 492.5,339.5 492.5,340.5 492.5,341.5 492.5,342.5 492.5,343.5 492.5,344.5 492.5,346.5 492.5,347.5 492.5,348.5 492.5,349.5 492.5,351.5 492.5,352.5 492.5,353.5 492.5,355.5 492.5,356.5 492.5,357.5 492.5,359.5 492.5,361.5 493.5,337.5 493.5,348.5 493.5,351.5 493.5,352.5 494.5,334.5 494.5,337.5 494.5,339.5 494.5,340.5 494.5,341.5 494.5,342.5 494.5,343.5 494.5,346.5 494.5,347.5 494.5,348.5 494.5,350.5 494.5,351.5 494.5,352.5 494.5,353.5 494.5,355.5 494.5,356.5 494.5,357.5 494.5,358.5 494.5,359.5 494.5,360.5 494.5,361.5 494.5,364.5 495.5,335.5 495.5,340.5 495.5,341.5 495.5,347.5 495.5,353.5 495.5,355.5 495.5,358.5 495.5,360.5 496.5,338.5 496.5,339.5 496.5,340.5 496.5,341.5 496.5,343.5 496.5,344.5 496.5,346.5 496.5,347.5 496.5,348.5 496.5,349.5 496.5,350.5 496.5,351.5 496.5,352.5 496.5,353.5 496.5,355.5 496.5,356.5 496.5,357.5 496.5,358.5 496.5,359.5 496.5,361.5 497.5,339.5 497.5,342.5 497.5,344.5 497.5,347.5 497.5,349.5 497.5,357.5 498.5,334.5 498.5,337.5 498.5,339.5 498.5,341.5 498.5,342.5 498.5,343.5 498.5,344.5 498.5,346.5 498.5,347.5 498.5,348.5 498.5,349.5 498.5,350.5 498.5,351.5 498.5,352.5 498.5,353.5 498.5,355.5 498.5,356.5 498.5,357.5 498.5,359.5 498.5,361.5 498.5,362.5 498.5,364.5 499.5,342.5 499.5,343.5 499.5,346.5 499.5,349.5 499.5,350.5 500.5,337.5 500.5,339.5 500.5,341.5 500.5,343.5 500.5,344.5 500.5,346.5 500.5,347.5 500.5,348.5 500.5,349.5 500.5,350.5 500.5,351.5 500.5,352.5 500.5,353.5 500.5,355.5 500.5,356.5 500.5,357.5 500.5,358.5 500.5,359.5 500.5,360.5 500.5,362.5 500.5,366.5 501.5,340.5 501.5,341.5 501.5,351.5 501.5,352.5 501.5,358.5 501.5,362.5 502.5,337.5 502.5,339.5 502.5,340.5 502.5,341.5 502.5,342.5 502.5,343.5 502.5,346.5 502.5,347.5 502.5,348.5 502.5,349.5 502.5,350.5 502.5,351.5 502.5,352.5 502.5,355.5 502.5,356.5 502.5,357.5 502.5,358.5 502.5,359.5 502.5,361.5 503.5,352.5 504.5,332.5 504.5,334.5 504.5,337.5 504.5,338.5 504.5,339.5 504.5,341.5 504.5,342.5 504.5,343.5 504.5,344.5 504.5,346.5 504.5,347.5 504.5,348.5 504.5,349.5 504.5,350.5 504.5,351.5 504.5,352.5 504.5,355.5 504.5,357.5 504.5,358.5 504.5,359.5 504.5,361.5 504.5,364.5 505.5,339.5 505.5,342.5 505.5,344.5 505.5,349.5 505.5,350.5 506.5,332.5 506.5,334.5 506.5,337.5 506.5,338.5 506.5,339.5 506.5,340.5 506.5,341.5 506.5,342.5 506.5,343.5 506.5,344.5 506.5,346.5 506.5,347.5 506.5,348.5 506.5,349.5 506.5,350.5 506.5,352.5 506.5,353.5 506.5,355.5 506.5,356.5 506.5,357.5 506.5,358.5 506.5,359.5 506.5,361.5 507.5,337.5 507.5,340.5 507.5,347.5 507.5,350.5 507.5,356.5 508.5,332.5 508.5,334.5 508.5,337.5 508.5,339.5 508.5,340.5 508.5,341.5 508.5,343.5 508.5,344.5 508.5,346.5 508.5,347.5 508.5,348.5 508.5,349.5 508.5,350.5 508.5,351.5 508.5,352.5 508.5,353.5 508.5,355.5 508.5,356.5 508.5,357.5 508.5,358.5 508.5,359.5 508.5,360.5 508.5,361.5 508.5,364.5 509.5,339.5 509.5,342.5 509.5,348.5 509.5,356.5 511.5,332.5 511.5,334.5 511.5,337.5 511.5,338.5 511.5,340.5 511.5,341.5 511.5,342.5 511.5,343.5 511.5,344.5 511.5,346.5 511.5,347.5 511.5,348.5 511.5,349.5 511.5,350.5 511.5,351.5 511.5,352.5 511.5,353.5 511.5,355.5 511.5,356.5 511.5,357.5 511.5,358.5 511.5,359.5 511.5,361.5 511.5,362.5 511.5,364.5 512.5,343.5 512.5,346.5 512.5,350.5 512.5,352.5 512.5,359.5 513.5,334.5 513.5,337.5 513.5,339.5 513.5,340.5 513.5,341.5 513.5,342.5 513.5,343.5 513.5,346.5 513.5,347.5 513.5,348.5 513.5,350.5 513.5,351.5 513.5,352.5 513.5,355.5 513.5,356.5 513.5,357.5 513.5,358.5 513.5,359.5 513.5,360.5 513.5,361.5 513.5,362.5 513.5,364.5 513.5,365.5 513.5,366.5 513.5,367.5 513.5,368.5 513.5,369.5 513.5,370.5 513.5,371.5 513.5,373.5 513.5,374.5 513.5,375.5 513.5,377.5 514.5,340.5 514.5,343.5 514.5,347.5 514.5,356.5 514.5,358.5 514.5,359.5 514.5,365.5 514.5,367.5 515.5,341.5 515.5,343.5 515.5,346.5 515.5,347.5 515.5,348.5 515.5,349.5 515.5,351.5 515.5,352.5 515.5,353.5 515.5,355.5 515.5,356.5 515.5,357.5 515.5,358.5 515.5,359.5 515.5,360.5 515.5,361.5 515.5,362.5 515.5,364.5 515.5,365.5 515.5,366.5 515.5,367.5 515.5,368.5 515.5,369.5 515.5,370.5 515.5,371.5 515.5,373.5 515.5,375.5 515.5,376.5 515.5,377.5 515.5,378.5 515.5,379.5 515.5,380.5 515.5,382.5 515.5,384.5 515.5,386.5 515.5,387.5 515.5,389.5 515.5,391.5 515.5,392.5 515.5,393.5 515.5,395.5 516.5,347.5 516.5,350.5 516.5,355.5 516.5,361.5"/>
<polyline fill="none" stroke="none" marker-start="url(#c)" marker-mid="url(#c)" marker-end="url(#c)" points="516.5,365.5 516.5,373.5 516.5,375.5 516.5,380.5 516.5,383.5 516.5,384.5 516.5,386.5 516.5,390.5 517.5,384.5 517.5,386.5 517.5,389.5 517.5,391.5 517.5,392.5 517.5,393.5 517.5,395.5 517.5,398.5 517.5,399.5 517.5,400.5 517.5,401.5 517.5,402.5 517.5,403.5 517.5,405.5 517.5,407.5 517.5,408.5 517.5,409.5 517.5,410.5 517.5,411.5 517.5,413.5 518.5,387.5 518.5,401.5 518.5,404.5 518.5,407.5 518.5,409.5 518.5,412.5 518.5,414.5 518.5,416.5 519.5,353.5 519.5,355.5 519.5,357.5 519.5,358.5 519.5,359.5 519.5,360.5 519.5,361.5 519.5,362.5 519.5,364.5 519.5,366.5 519.5,367.5 519.5,368.5 519.5,369.5 519.5,370.5 519.5,371.5 519.5,373.5 519.5,374.5 519.5,375.5 519.5,376.5 519.5,377.5 519.5,378.5 519.5,379.5 519.5,380.5 519.5,382.5 519.5,383.5 519.5,384.5 519.5,386.5 519.5,387.5 519.5,389.5 519.5,391.5 519.5,392.5 519.5,393.5 519.5,394.5 519.5,395.5 519.5,396.5 519.5,398.5 519.5,399.5 519.5,400.5 520.5,362.5 520.5,369.5 520.5,374.5 520.5,375.5 520.5,391.5 520.5,396.5 520.5,399.5 521.5,352.5 521.5,355.5 521.5,357.5 521.5,359.5 521.5,360.5 521.5,364.5 521.5,365.5 521.5,366.5 521.5,367.5 521.5,368.5 521.5,369.5 521.5,370.5 521.5,371.5 521.5,373.5 521.5,375.5 521.5,376.5 521.5,377.5 521.5,378.5 521.5,379.5 521.5,380.5 521.5,382.5 521.5,384.5 521.5,386.5 522.5,360.5 522.5,376.5 522.5,377.5 522.5,382.5 523.5,350.5 523.5,352.5 523.5,355.5 523.5,356.5 523.5,357.5 523.5,358.5 523.5,360.5 523.5,361.5 523.5,362.5 523.5,364.5 523.5,365.5 523.5,366.5 523.5,367.5 523.5,368.5 523.5,369.5 523.5,370.5 523.5,371.5 523.5,373.5 523.5,374.5 523.5,375.5 523.5,376.5 523.5,377.5 523.5,378.5 523.5,379.5 523.5,382.5 523.5,384.5 524.5,358.5 524.5,362.5 524.5,364.5 524.5,367.5 525.5,348.5 525.5,350.5 525.5,351.5 525.5,352.5 525.5,355.5 525.5,356.5 525.5,357.5 525.5,358.5 525.5,359.5 525.5,360.5 525.5,361.5 525.5,362.5 525.5,364.5 525.5,365.5 525.5,366.5 525.5,368.5 525.5,369.5 525.5,370.5 525.5,371.5 525.5,373.5 525.5,374.5 525.5,375.5 525.5,376.5 525.5,379.5 526.5,351.5 526.5,352.5 526.5,356.5 526.5,358.5 526.5,364.5 526.5,368.5 526.5,370.5 526.5,373.5 526.5,377.5 527.5,348.5 527.5,349.5 527.5,350.5 527.5,352.5 527.5,355.5 527.5,358.5 527.5,359.5 527.5,360.5 527.5,361.5 527.5,362.5 527.5,364.5 527.5,366.5 527.5,368.5 527.5,369.5 527.5,370.5 527.5,371.5 527.5,373.5 527.5,374.5 527.5,375.5 527.5,379.5 528.5,353.5 528.5,355.5 528.5,375.5 530.5,350.5 530.5,352.5 530.5,353.5 530.5,355.5 530.5,357.5 530.5,358.5 530.5,359.5 530.5,361.5 530.5,362.5 530.5,364.5 530.5,365.5 530.5,366.5 530.5,367.5 530.5,368.5 530.5,369.5 530.5,370.5 530.5,371.5 530.5,373.5 530.5,374.5 530.5,375.5 530.5,377.5 530.5,378.5 530.5,379.5 531.5,356.5 531.5,364.5 531.5,366.5 531.5,374.5 532.5,355.5 532.5,357.5 532.5,359.5 532.5,360.5 532.5,361.5 532.5,362.5 532.5,364.5 532.5,365.5 532.5,366.5 532.5,367.5 532.5,368.5 532.5,369.5 532.5,370.5 532.5,373.5 532.5,374.5 532.5,376.5 532.5,377.5 532.5,379.5 532.5,380.5 532.5,382.5 533.5,375.5 533.5,382.5 534.5,352.5 534.5,355.5 534.5,357.5 534.5,359.5 534.5,360.5 534.5,362.5 534.5,364.5 534.5,365.5 534.5,366.5 534.5,368.5 534.5,369.5 534.5,370.5 534.5,371.5 534.5,373.5 534.5,375.5 534.5,376.5 534.5,377.5 534.5,379.5 535.5,362.5 535.5,364.5 535.5,370.5 535.5,376.5 536.5,352.5 536.5,355.5 536.5,357.5 536.5,359.5 536.5,360.5 536.5,361.5 536.5,362.5 536.5,364.5 536.5,365.5 536.5,366.5 536.5,368.5 536.5,369.5 536.5,370.5 536.5,373.5 536.5,374.5 536.5,375.5 536.5,376.5 536.5,377.5 536.5,379.5 537.5,362.5 537.5,373.5 538.5,350.5 538.5,352.5 538.5,355.5 538.5,357.5 538.5,358.5 538.5,359.5 538.5,360.5 538.5,361.5 538.5,364.5 538.5,365.5 538.5,366.5 538.5,367.5 538.5,368.5 538.5,370.5 538.5,371.5 538.5,373.5 538.5,374.5 538.5,375.5 538.5,377.5 539.5,362.5 539.5,364.5 540.5,352.5 540.5,355.5 540.5,357.5 540.5,358.5 540.5,359.5 540.5,360.5 540.5,361.5 540.5,362.5 540.5,364.5 540.5,365.5 540.5,366.5 540.5,368.5 540.5,369.5 540.5,370.5 540.5,373.5 540.5,375.5 540.5,376.5 541.5,375.5 542.5,350.5 542.5,352.5 542.5,353.5 542.5,355.5 542.5,356.5 542.5,357.5 542.5,358.5 542.5,359.5 542.5,360.5 542.5,361.5 542.5,362.5 542.5,364.5 542.5,366.5 542.5,367.5 542.5,368.5 542.5,369.5 542.5,370.5 543.5,357.5 543.5,360.5 543.5,364.5 543.5,368.5 544.5,348.5 544.5,349.5 544.5,350.5 544.5,351.5 544.5,352.5 544.5,355.5 544.5,356.5 544.5,357.5 544.5,358.5 544.5,359.5 544.5,360.5 544.5,361.5 544.5,362.5 544.5,364.5 544.5,366.5 544.5,368.5 545.5,360.5 546.5,346.5 546.5,348.5 546.5,350.5 546.5,352.5 546.5,353.5 546.5,355.5 546.5,356.5 546.5,357.5 546.5,358.5 546.5,359.5 546.5,360.5 546.5,361.5 546.5,362.5 546.5,364.5 546.5,365.5 546.5,366.5 546.5,367.5 546.5,368.5 546.5,369.5 546.5,370.5 547.5,355.5 547.5,362.5 547.5,367.5 549.5,343.5 549.5,346.5 549.5,348.5 549.5,350.5 549.5,351.5 549.5,352.5 549.5,353.5 549.5,355.5 549.5,356.5 549.5,357.5 549.5,358.5 549.5,359.5 549.5,360.5 549.5,361.5"/>
<polyline fill="none" stroke="none" marker-start="url(#c)" marker-mid="url(#c)" marker-end="url(#c)" points="549.5,364.5 549.5,365.5 549.5,366.5 549.5,367.5 550.5,350.5 550.5,356.5 550.5,361.5 550.5,365.5 551.5,339.5 551.5,340.5 551.5,341.5 551.5,343.5 551.5,344.5 551.5,346.5 551.5,348.5 551.5,349.5 551.5,350.5 551.5,351.5 551.5,352.5 551.5,355.5 551.5,356.5 551.5,357.5 551.5,358.5 551.5,359.5 551.5,360.5 551.5,361.5 551.5,364.5 551.5,365.5 551.5,366.5 551.5,368.5 552.5,346.5 552.5,351.5 552.5,355.5 552.5,358.5 553.5,337.5 553.5,339.5 553.5,341.5 553.5,342.5 553.5,343.5 553.5,344.5 553.5,346.5 553.5,347.5 553.5,348.5 553.5,349.5 553.5,350.5 553.5,351.5 553.5,352.5 553.5,353.5 553.5,355.5 553.5,356.5 553.5,357.5 553.5,358.5 553.5,359.5 553.5,361.5 553.5,362.5 553.5,364.5 553.5,365.5 554.5,338.5 554.5,353.5 554.5,356.5 554.5,357.5 554.5,362.5 555.5,337.5 555.5,339.5 555.5,341.5 555.5,343.5 555.5,344.5 555.5,346.5 555.5,347.5 555.5,348.5 555.5,349.5 555.5,350.5 555.5,351.5 555.5,352.5 555.5,353.5 555.5,355.5 555.5,356.5 555.5,357.5 556.5,341.5 556.5,343.5 556.5,347.5 556.5,349.5 556.5,356.5 557.5,334.5 557.5,337.5 557.5,339.5 557.5,341.5 557.5,343.5 557.5,344.5 557.5,346.5 557.5,347.5 557.5,348.5 557.5,349.5 557.5,350.5 557.5,351.5 557.5,352.5 557.5,355.5 559.5,332.5 559.5,337.5 559.5,339.5 559.5,340.5 559.5,341.5 559.5,342.5 559.5,343.5 559.5,344.5 559.5,346.5 559.5,347.5 559.5,348.5 559.5,349.5 559.5,350.5 559.5,351.5 559.5,352.5 559.5,353.5 559.5,355.5 559.5,357.5 560.5,338.5 560.5,341.5 560.5,344.5 560.5,347.5 560.5,352.5 561.5,330.5 561.5,331.5 561.5,333.5 561.5,334.5 561.5,337.5 561.5,339.5 561.5,340.5 561.5,341.5 561.5,342.5 561.5,343.5 561.5,344.5 561.5,346.5 561.5,347.5 561.5,348.5 561.5,349.5 561.5,350.5 561.5,351.5 561.5,352.5 562.5,339.5 562.5,346.5 563.5,327.5 563.5,328.5 563.5,332.5 563.5,334.5 563.5,335.5 563.5,337.5 563.5,338.5 563.5,339.5 563.5,340.5 563.5,341.5 563.5,342.5 563.5,343.5 563.5,344.5 563.5,346.5 563.5,348.5 563.5,350.5 564.5,337.5 564.5,340.5 564.5,349.5 565.5,327.5 565.5,328.5 565.5,330.5 565.5,331.5 565.5,332.5 565.5,333.5 565.5,334.5 565.5,335.5 565.5,337.5 565.5,339.5 565.5,340.5 565.5,341.5 565.5,342.5 565.5,343.5 565.5,344.5 565.5,346.5 565.5,350.5 566.5,333.5 566.5,338.5 566.5,339.5 566.5,344.5 566.5,350.5 568.5,323.5 568.5,325.5 568.5,327.5 568.5,330.5 568.5,331.5 568.5,332.5 568.5,333.5 568.5,334.5 568.5,335.5 568.5,337.5 568.5,338.5 568.5,339.5 568.5,340.5 568.5,341.5 568.5,342.5 568.5,343.5 568.5,344.5 568.5,346.5 568.5,348.5 568.5,349.5 568.5,350.5 569.5,333.5 569.5,335.5 569.5,344.5 570.5,323.5 570.5,325.5 570.5,327.5 570.5,328.5 570.5,330.5 570.5,331.5 570.5,332.5 570.5,333.5 570.5,334.5 570.5,335.5 570.5,337.5 570.5,338.5 570.5,339.5 570.5,340.5 570.5,341.5 570.5,343.5 570.5,346.5 570.5,347.5 570.5,348.5 570.5,349.5 570.5,350.5 570.5,351.5 570.5,352.5 570.5,353.5 570.5,355.5 570.5,357.5 570.5,359.5 570.5,360.5 571.5,332.5 571.5,335.5 571.5,338.5 571.5,341.5 571.5,344.5 571.5,349.5 571.5,350.5 572.5,321.5 572.5,323.5 572.5,328.5 572.5,330.5 572.5,331.5 572.5,332.5 572.5,333.5 572.5,334.5 572.5,335.5 572.5,337.5 572.5,338.5 572.5,339.5 572.5,340.5 572.5,341.5 572.5,342.5 572.5,344.5 572.5,346.5 572.5,347.5 572.5,348.5 572.5,349.5 572.5,350.5 572.5,352.5 572.5,353.5 572.5,355.5 573.5,330.5 573.5,332.5 573.5,339.5 573.5,346.5 573.5,348.5 573.5,351.5 574.5,316.5 574.5,318.5 574.5,319.5 574.5,321.5 574.5,322.5 574.5,323.5 574.5,324.5 574.5,325.5 574.5,326.5 574.5,327.5 574.5,328.5 574.5,330.5 574.5,331.5 574.5,332.5 574.5,333.5 574.5,334.5 574.5,337.5 574.5,338.5 574.5,339.5 574.5,340.5 574.5,341.5 574.5,342.5 574.5,343.5 574.5,344.5 574.5,346.5 574.5,347.5 574.5,348.5 574.5,349.5 574.5,350.5 574.5,351.5 574.5,352.5 574.5,355.5 574.5,359.5 575.5,332.5 575.5,335.5 575.5,338.5 575.5,340.5 575.5,342.5 575.5,344.5 575.5,346.5 575.5,351.5 575.5,353.5 576.5,314.5 576.5,318.5 576.5,319.5 576.5,321.5 576.5,322.5 576.5,323.5 576.5,325.5 576.5,327.5 576.5,328.5 576.5,331.5 576.5,332.5 576.5,333.5 576.5,334.5 576.5,335.5 576.5,337.5 576.5,339.5 576.5,340.5 576.5,341.5 576.5,342.5 576.5,343.5 576.5,344.5 576.5,346.5 576.5,347.5 576.5,348.5 576.5,350.5 577.5,321.5 577.5,324.5 577.5,332.5 577.5,334.5 577.5,338.5 577.5,340.5 577.5,341.5 577.5,343.5 578.5,309.5 578.5,312.5 578.5,315.5 578.5,316.5 578.5,317.5 578.5,318.5 578.5,319.5 578.5,321.5 578.5,322.5 578.5,323.5 578.5,324.5 578.5,325.5 578.5,326.5 578.5,327.5 578.5,330.5 578.5,331.5 578.5,332.5 578.5,333.5 578.5,334.5 578.5,338.5 578.5,339.5 579.5,315.5 579.5,317.5 580.5,312.5 580.5,316.5 580.5,317.5 580.5,318.5 580.5,319.5 580.5,321.5 580.5,322.5 580.5,323.5 580.5,324.5 580.5,325.5 580.5,326.5 580.5,327.5 580.5,328.5 580.5,330.5 580.5,331.5 580.5,332.5 580.5,334.5 580.5,335.5 580.5,337.5 580.5,339.5 580.5,340.5 580.5,341.5 580.5,342.5 580.5,343.5 580.5,344.5 580.5,346.5 580.5,347.5 581.5,316.5 581.5,326.5 581.5,327.5 581.5,344.5 582.5,307.5"/>
<polyline fill="none" stroke="none" marker-start="url(#c)" marker-mid="url(#c)" marker-end="url(#c)" points="582.5,309.5 582.5,312.5 582.5,314.5 582.5,315.5 582.5,316.5 582.5,317.5 582.5,318.5 582.5,319.5 582.5,321.5 582.5,323.5 582.5,325.5 582.5,326.5 582.5,327.5 582.5,328.5 582.5,330.5 582.5,331.5 582.5,332.5 582.5,334.5 582.5,335.5 582.5,337.5 582.5,339.5 582.5,340.5 582.5,341.5 582.5,342.5 582.5,343.5 582.5,346.5 583.5,314.5 583.5,322.5 583.5,324.5 583.5,328.5 583.5,333.5 583.5,334.5 583.5,340.5 583.5,344.5 584.5,310.5 584.5,312.5 584.5,314.5 584.5,315.5 584.5,316.5 584.5,317.5 584.5,319.5 584.5,321.5 584.5,322.5 584.5,323.5 584.5,324.5 584.5,325.5 584.5,326.5 584.5,327.5 584.5,328.5 584.5,330.5 584.5,331.5 584.5,332.5 584.5,334.5 584.5,339.5 585.5,315.5 585.5,316.5 585.5,328.5 585.5,331.5 587.5,305.5 587.5,307.5 587.5,308.5 587.5,309.5 587.5,310.5 587.5,312.5 587.5,313.5 587.5,314.5 587.5,315.5 587.5,316.5 587.5,317.5 587.5,318.5 587.5,321.5 587.5,322.5 587.5,323.5 587.5,324.5 587.5,325.5 587.5,326.5 587.5,327.5 587.5,328.5 587.5,330.5 587.5,332.5 587.5,333.5 587.5,334.5 587.5,337.5 588.5,309.5 588.5,315.5 588.5,317.5 588.5,318.5 588.5,325.5 588.5,328.5 589.5,300.5 589.5,303.5 589.5,305.5 589.5,306.5 589.5,307.5 589.5,308.5 589.5,309.5 589.5,310.5 589.5,312.5 589.5,313.5 589.5,314.5 589.5,315.5 589.5,316.5 589.5,317.5 589.5,318.5 589.5,319.5 589.5,321.5 589.5,322.5 589.5,323.5 589.5,324.5 589.5,325.5 589.5,326.5 589.5,327.5 589.5,328.5 589.5,331.5 589.5,332.5 589.5,333.5 589.5,334.5 589.5,339.5 590.5,305.5 590.5,307.5 590.5,313.5 590.5,314.5 590.5,325.5 590.5,328.5 591.5,303.5 591.5,304.5 591.5,305.5 591.5,306.5 591.5,307.5 591.5,308.5 591.5,309.5 591.5,310.5 591.5,312.5 591.5,313.5 591.5,314.5 591.5,315.5 591.5,316.5 591.5,317.5 591.5,318.5 591.5,319.5 591.5,321.5 591.5,322.5 591.5,323.5 591.5,324.5 591.5,325.5 591.5,326.5 591.5,327.5 591.5,328.5 591.5,330.5 591.5,332.5 592.5,315.5 592.5,316.5 592.5,324.5 592.5,325.5 593.5,300.5 593.5,303.5 593.5,305.5 593.5,307.5 593.5,308.5 593.5,309.5 593.5,312.5 593.5,313.5 593.5,314.5 593.5,315.5 593.5,317.5 593.5,318.5 593.5,319.5 593.5,321.5 593.5,322.5 593.5,324.5 593.5,325.5 593.5,326.5 593.5,327.5 593.5,328.5 593.5,330.5 594.5,303.5 594.5,315.5 594.5,318.5 594.5,324.5 595.5,300.5 595.5,303.5 595.5,305.5 595.5,306.5 595.5,308.5 595.5,309.5 595.5,310.5 595.5,312.5 595.5,313.5 595.5,314.5 595.5,316.5 595.5,317.5 595.5,318.5 595.5,319.5 595.5,321.5 595.5,322.5 595.5,323.5 595.5,324.5 595.5,326.5 595.5,327.5 595.5,328.5 595.5,330.5 595.5,331.5 595.5,332.5 595.5,333.5 596.5,306.5 596.5,313.5 596.5,315.5 596.5,317.5 596.5,319.5 596.5,322.5 596.5,326.5 596.5,332.5 597.5,305.5 597.5,306.5 597.5,307.5 597.5,308.5 597.5,309.5 597.5,310.5 597.5,312.5 597.5,313.5 597.5,314.5 597.5,316.5 597.5,318.5 597.5,319.5 597.5,321.5 597.5,322.5 597.5,323.5 597.5,325.5 597.5,326.5 597.5,327.5 597.5,328.5 597.5,330.5 597.5,331.5 597.5,332.5 597.5,333.5 597.5,334.5 597.5,335.5 597.5,337.5 597.5,338.5 597.5,339.5 597.5,340.5 597.5,341.5 597.5,342.5 597.5,343.5 597.5,346.5 598.5,308.5 598.5,309.5 598.5,313.5 598.5,322.5 598.5,330.5 598.5,335.5 598.5,338.5 598.5,344.5 599.5,300.5 599.5,305.5 599.5,307.5 599.5,308.5 599.5,309.5 599.5,310.5 599.5,312.5 599.5,313.5 599.5,314.5 599.5,315.5 599.5,316.5 599.5,317.5 599.5,318.5 599.5,319.5 599.5,321.5 599.5,322.5 599.5,323.5 599.5,324.5 599.5,325.5 599.5,326.5 599.5,327.5 599.5,328.5 599.5,330.5 599.5,332.5 599.5,333.5 599.5,335.5 599.5,338.5 599.5,339.5 599.5,340.5 599.5,341.5 599.5,342.5 599.5,343.5 599.5,346.5 599.5,348.5 600.5,309.5 600.5,312.5 600.5,314.5 600.5,319.5 600.5,321.5 600.5,324.5 600.5,326.5 600.5,334.5 600.5,338.5 601.5,305.5 601.5,306.5 601.5,307.5 601.5,309.5 601.5,312.5 601.5,313.5 601.5,314.5 601.5,315.5 601.5,316.5 601.5,317.5 601.5,321.5 601.5,323.5 601.5,324.5 601.5,325.5 601.5,326.5 601.5,327.5 601.5,328.5 601.5,330.5 601.5,331.5 601.5,333.5 601.5,334.5 601.5,337.5 601.5,339.5 601.5,340.5 602.5,318.5 602.5,321.5 602.5,324.5 602.5,328.5 602.5,333.5 603.5,305.5 603.5,307.5 603.5,308.5 603.5,309.5 603.5,312.5 603.5,313.5 603.5,314.5 603.5,315.5 603.5,317.5 603.5,318.5 603.5,319.5 603.5,321.5 603.5,323.5 603.5,324.5 603.5,325.5 603.5,326.5 603.5,327.5 603.5,328.5 603.5,330.5 603.5,331.5 603.5,332.5 603.5,333.5 603.5,334.5 603.5,335.5 603.5,337.5 603.5,338.5 603.5,339.5 603.5,340.5 603.5,341.5 603.5,342.5 603.5,343.5 603.5,344.5 603.5,346.5 603.5,347.5 603.5,348.5 604.5,312.5 604.5,315.5 604.5,328.5 604.5,334.5 604.5,337.5 606.5,307.5 606.5,310.5 606.5,312.5 606.5,313.5 606.5,314.5 606.5,315.5 606.5,316.5 606.5,317.5 606.5,318.5 606.5,319.5 606.5,321.5 606.5,322.5 606.5,323.5 606.5,324.5 606.5,325.5 606.5,326.5 606.5,327.5 606.5,328.5 606.5,330.5 606.5,331.5 606.5,332.5 606.5,333.5 606.5,334.5 606.5,335.5 606.5,337.5 606.5,338.5 606.5,339.5 606.5,340.5 606.5,341.5 606.5,343.5 606.5,346.5 606.5,348.5 606.5,349.5 607.5,316.5 607.5,319.5"/>
<polyline fill="none" stroke="none" marker-start="url(#c)" marker-mid="url(#c)" marker-end="url(#c)" points="607.5,323.5 607.5,326.5 607.5,333.5 608.5,296.5 608.5,298.5 608.5,300.5 608.5,301.5 608.5,303.5 608.5,304.5 608.5,305.5 608.5,306.5 608.5,307.5 608.5,308.5 608.5,309.5 608.5,310.5 608.5,312.5 608.5,313.5 608.5,314.5 608.5,315.5 608.5,316.5 608.5,317.5 608.5,318.5 608.5,321.5 608.5,322.5 608.5,323.5 608.5,324.5 608.5,325.5 608.5,326.5 608.5,328.5 608.5,330.5 608.5,331.5 608.5,332.5 608.5,334.5 608.5,335.5 608.5,337.5 608.5,339.5 608.5,340.5 608.5,341.5 608.5,342.5 608.5,343.5 608.5,348.5 609.5,301.5 609.5,305.5 609.5,318.5 609.5,325.5 609.5,331.5 609.5,333.5 609.5,339.5 610.5,285.5 610.5,287.5 610.5,288.5 610.5,289.5 610.5,290.5 610.5,292.5 610.5,294.5 610.5,295.5 610.5,296.5 610.5,297.5 610.5,298.5 610.5,299.5 610.5,300.5 610.5,301.5 610.5,303.5 610.5,304.5 610.5,305.5 610.5,306.5 610.5,307.5 610.5,308.5 610.5,309.5 610.5,310.5 610.5,312.5 610.5,313.5 610.5,314.5 610.5,315.5 610.5,316.5 610.5,317.5 610.5,318.5 610.5,319.5 610.5,323.5 610.5,324.5 610.5,325.5 610.5,326.5 610.5,327.5 610.5,328.5 610.5,330.5 610.5,331.5 610.5,332.5 610.5,333.5 610.5,334.5 610.5,335.5 610.5,337.5 610.5,338.5 610.5,339.5 610.5,340.5 610.5,341.5 610.5,342.5 610.5,343.5 611.5,289.5 611.5,292.5 611.5,301.5 611.5,305.5 611.5,309.5 611.5,326.5 611.5,327.5 611.5,333.5 611.5,337.5 612.5,278.5 612.5,280.5 612.5,281.5 612.5,282.5 612.5,285.5 612.5,286.5 612.5,287.5 612.5,288.5 612.5,289.5 612.5,290.5 612.5,291.5 612.5,292.5 612.5,294.5 612.5,295.5 612.5,297.5 612.5,298.5 612.5,299.5 612.5,300.5 612.5,301.5 612.5,303.5 612.5,304.5 612.5,305.5 612.5,306.5 612.5,307.5 612.5,308.5 612.5,309.5 612.5,310.5 612.5,313.5 612.5,314.5 612.5,315.5 612.5,316.5 612.5,317.5 612.5,318.5 612.5,319.5 612.5,321.5 612.5,322.5 612.5,323.5 612.5,324.5 612.5,325.5 612.5,326.5 612.5,327.5 612.5,330.5 612.5,332.5 612.5,333.5 612.5,334.5 612.5,337.5 612.5,340.5 612.5,341.5 612.5,342.5 613.5,297.5 613.5,301.5 613.5,303.5 613.5,309.5 613.5,315.5 613.5,323.5 613.5,325.5 613.5,327.5 613.5,335.5 614.5,278.5 614.5,282.5 614.5,285.5 614.5,286.5 614.5,287.5 614.5,288.5 614.5,289.5 614.5,290.5 614.5,292.5 614.5,294.5 614.5,296.5 614.5,298.5 614.5,299.5 614.5,301.5 614.5,303.5 614.5,304.5 614.5,305.5 614.5,307.5 614.5,308.5 614.5,309.5 614.5,310.5 614.5,312.5 614.5,313.5 614.5,314.5 614.5,315.5 614.5,316.5 614.5,317.5 614.5,318.5 614.5,321.5 614.5,322.5 614.5,323.5 614.5,324.5 614.5,325.5 614.5,327.5 614.5,328.5 614.5,330.5 614.5,332.5 614.5,333.5 614.5,334.5 614.5,335.5 614.5,337.5 614.5,339.5 614.5,341.5 615.5,285.5 615.5,287.5 615.5,291.5 615.5,300.5 615.5,305.5 615.5,313.5 615.5,326.5 615.5,327.5 615.5,330.5 615.5,334.5 616.5,280.5 616.5,282.5 616.5,283.5 616.5,285.5 616.5,286.5 616.5,287.5 616.5,288.5 616.5,289.5 616.5,290.5 616.5,291.5 616.5,292.5 616.5,294.5 616.5,295.5 616.5,296.5 616.5,297.5 616.5,298.5 616.5,299.5 616.5,300.5 616.5,301.5 616.5,303.5 616.5,304.5 616.5,305.5 616.5,306.5 616.5,307.5 616.5,308.5 616.5,309.5 616.5,312.5 616.5,313.5 616.5,314.5 616.5,315.5 616.5,316.5 616.5,317.5 616.5,318.5 616.5,319.5 616.5,321.5 616.5,322.5 616.5,323.5 616.5,324.5 616.5,325.5 616.5,326.5 616.5,327.5 616.5,328.5 616.5,330.5 616.5,331.5 616.5,332.5 616.5,333.5 616.5,334.5 616.5,335.5 616.5,337.5 616.5,339.5 616.5,341.5 617.5,280.5 617.5,287.5 617.5,290.5 617.5,292.5 617.5,294.5 617.5,301.5 617.5,308.5 617.5,309.5 617.5,319.5 617.5,321.5 617.5,323.5 617.5,330.5 618.5,278.5 618.5,280.5 618.5,285.5 618.5,286.5 618.5,288.5 618.5,289.5 618.5,290.5 618.5,291.5 618.5,294.5 618.5,296.5 618.5,297.5 618.5,298.5 618.5,300.5 618.5,301.5 618.5,303.5 618.5,304.5 618.5,305.5 618.5,306.5 618.5,307.5 618.5,308.5 618.5,309.5 618.5,310.5 618.5,312.5 618.5,313.5 618.5,314.5 618.5,315.5 618.5,316.5 618.5,317.5 618.5,319.5 618.5,323.5 618.5,324.5 618.5,325.5 618.5,326.5 618.5,327.5 618.5,328.5 618.5,330.5 618.5,332.5 618.5,334.5 619.5,287.5 619.5,295.5 619.5,296.5 619.5,303.5 619.5,306.5 619.5,307.5 619.5,312.5 619.5,315.5 619.5,316.5 620.5,278.5 620.5,280.5 620.5,282.5 620.5,283.5 620.5,285.5 620.5,287.5 620.5,288.5 620.5,289.5 620.5,290.5 620.5,291.5 620.5,294.5 620.5,295.5 620.5,296.5 620.5,297.5 620.5,298.5 620.5,299.5 620.5,300.5 620.5,301.5 620.5,303.5 620.5,304.5 620.5,305.5 620.5,306.5 620.5,307.5 620.5,308.5 620.5,309.5 620.5,310.5 620.5,312.5 620.5,313.5 620.5,315.5 620.5,316.5 620.5,317.5 620.5,318.5 620.5,319.5 620.5,321.5 620.5,322.5 620.5,323.5 620.5,324.5 620.5,326.5 620.5,327.5 620.5,328.5 620.5,330.5 620.5,331.5 620.5,332.5 620.5,333.5 620.5,334.5 620.5,335.5 620.5,337.5 620.5,338.5 620.5,339.5 620.5,340.5 620.5,341.5 620.5,342.5 620.5,344.5 620.5,346.5 620.5,347.5 620.5,348.5 620.5,350.5 620.5,352.5 620.5,353.5 620.5,355.5 620.5,356.5 621.5,282.5 621.5,295.5 621.5,301.5 621.5,306.5 621.5,314.5 621.5,316.5 621.5,324.5 621.5,330.5 621.5,335.5 621.5,337.5 621.5,340.5 621.5,343.5"/>
<polyline fill="none" stroke="none" marker-start="url(#c)" marker-mid="url(#c)" marker-end="url(#c)" points="621.5,346.5 621.5,349.5 622.5,294.5 622.5,296.5 622.5,298.5 622.5,300.5 622.5,301.5 622.5,303.5 622.5,304.5 622.5,305.5 622.5,306.5 622.5,307.5 622.5,308.5 622.5,309.5 622.5,310.5 622.5,312.5 622.5,313.5 622.5,314.5 622.5,315.5 622.5,316.5 622.5,317.5 622.5,318.5 622.5,319.5 622.5,321.5 622.5,322.5 622.5,323.5 622.5,324.5 622.5,325.5 622.5,326.5 622.5,327.5 622.5,328.5 622.5,331.5 622.5,332.5 622.5,333.5 622.5,334.5 622.5,335.5 622.5,337.5 622.5,339.5 622.5,340.5 622.5,341.5 622.5,343.5 622.5,344.5 622.5,346.5 622.5,348.5 622.5,350.5 622.5,352.5 623.5,296.5 623.5,301.5 623.5,313.5 623.5,318.5 623.5,326.5 623.5,332.5 623.5,338.5 623.5,346.5 624.5,299.5 624.5,300.5 624.5,305.5 624.5,306.5 624.5,307.5 624.5,309.5 624.5,310.5 624.5,312.5 624.5,313.5 624.5,314.5 624.5,315.5 624.5,316.5 624.5,317.5 624.5,318.5 624.5,319.5 624.5,321.5 624.5,322.5 624.5,323.5 624.5,324.5 624.5,325.5 624.5,326.5 624.5,328.5 624.5,330.5 624.5,331.5 624.5,332.5 624.5,333.5 624.5,334.5 624.5,335.5 624.5,337.5 624.5,338.5 624.5,339.5 624.5,340.5 624.5,341.5 624.5,342.5 624.5,343.5 624.5,344.5 624.5,346.5 624.5,348.5 624.5,349.5 624.5,350.5 624.5,352.5 624.5,355.5 625.5,304.5 625.5,307.5 625.5,318.5 625.5,322.5 625.5,328.5 625.5,340.5 625.5,347.5 627.5,296.5 627.5,297.5 627.5,298.5 627.5,300.5 627.5,303.5 627.5,304.5 627.5,305.5 627.5,306.5 627.5,307.5 627.5,309.5 627.5,312.5 627.5,313.5 627.5,314.5 627.5,315.5 627.5,316.5 627.5,317.5 627.5,318.5 627.5,319.5 627.5,321.5 627.5,322.5 627.5,323.5 627.5,324.5 627.5,325.5 627.5,326.5 627.5,327.5 627.5,328.5 627.5,330.5 627.5,332.5 628.5,303.5 628.5,313.5 628.5,314.5 628.5,318.5 628.5,323.5 628.5,326.5 629.5,296.5 629.5,298.5 629.5,300.5 629.5,303.5 629.5,304.5 629.5,305.5 629.5,306.5 629.5,307.5 629.5,308.5 629.5,309.5 629.5,310.5 629.5,312.5 629.5,313.5 629.5,314.5 629.5,315.5 629.5,316.5 629.5,317.5 629.5,318.5 629.5,319.5 629.5,321.5 629.5,322.5 629.5,323.5 629.5,325.5 629.5,326.5 629.5,327.5 629.5,328.5 629.5,330.5 629.5,332.5 629.5,334.5 630.5,301.5 630.5,318.5 630.5,321.5 630.5,324.5 630.5,325.5 630.5,327.5 631.5,294.5 631.5,296.5 631.5,297.5 631.5,298.5 631.5,299.5 631.5,300.5 631.5,303.5 631.5,305.5 631.5,306.5 631.5,307.5 631.5,308.5 631.5,309.5 631.5,310.5 631.5,312.5 631.5,313.5 631.5,314.5 631.5,315.5 631.5,316.5 631.5,317.5 631.5,318.5 631.5,319.5 631.5,322.5 631.5,323.5 631.5,325.5 631.5,328.5 631.5,330.5 631.5,331.5 631.5,332.5 631.5,334.5 632.5,296.5 632.5,299.5 632.5,303.5 632.5,323.5 632.5,330.5 632.5,334.5 633.5,289.5 633.5,291.5 633.5,294.5 633.5,296.5 633.5,297.5 633.5,298.5 633.5,299.5 633.5,300.5 633.5,303.5 633.5,304.5 633.5,305.5 633.5,306.5 633.5,307.5 633.5,308.5 633.5,309.5 633.5,310.5 633.5,312.5 633.5,313.5 633.5,314.5 633.5,315.5 633.5,316.5 633.5,317.5 633.5,318.5 633.5,319.5 633.5,321.5 633.5,322.5 633.5,323.5 633.5,324.5 633.5,325.5 633.5,326.5 633.5,327.5 633.5,328.5 633.5,330.5 633.5,331.5 633.5,332.5 633.5,334.5 633.5,335.5 633.5,339.5 634.5,297.5 634.5,298.5 634.5,304.5 634.5,305.5 634.5,308.5 634.5,309.5 634.5,312.5 634.5,317.5 634.5,321.5 634.5,328.5 635.5,291.5 635.5,294.5 635.5,295.5 635.5,296.5 635.5,297.5 635.5,298.5 635.5,299.5 635.5,300.5 635.5,301.5 635.5,303.5 635.5,305.5 635.5,306.5 635.5,307.5 635.5,308.5 635.5,309.5 635.5,310.5 635.5,312.5 635.5,314.5 635.5,315.5 635.5,316.5 635.5,317.5 635.5,319.5 635.5,321.5 635.5,322.5 635.5,323.5 635.5,325.5 635.5,326.5 635.5,327.5 635.5,328.5 635.5,330.5 635.5,331.5 635.5,332.5 635.5,333.5 635.5,334.5 635.5,337.5 636.5,299.5 636.5,303.5 636.5,306.5 636.5,307.5 636.5,309.5 636.5,313.5 636.5,317.5 636.5,325.5 636.5,328.5 636.5,337.5 637.5,291.5 637.5,294.5 637.5,296.5 637.5,297.5 637.5,298.5 637.5,299.5 637.5,301.5 637.5,303.5 637.5,305.5 637.5,306.5 637.5,307.5 637.5,308.5 637.5,309.5 637.5,310.5 637.5,313.5 637.5,314.5 637.5,315.5 637.5,316.5 637.5,317.5 637.5,318.5 637.5,319.5 637.5,321.5 637.5,322.5 637.5,323.5 637.5,324.5 637.5,325.5 637.5,326.5 637.5,327.5 637.5,328.5 637.5,330.5 637.5,331.5 637.5,332.5 637.5,333.5 637.5,334.5 637.5,335.5 637.5,337.5 637.5,338.5 637.5,339.5 637.5,340.5 637.5,341.5 637.5,342.5 637.5,343.5 637.5,346.5 638.5,292.5 638.5,299.5 638.5,301.5 638.5,305.5 638.5,312.5 638.5,314.5 638.5,327.5 639.5,294.5 639.5,295.5 639.5,296.5 639.5,298.5 639.5,299.5 639.5,300.5 639.5,301.5 639.5,303.5 639.5,304.5 639.5,305.5 639.5,307.5 639.5,308.5 639.5,309.5 639.5,310.5 639.5,312.5 639.5,313.5 639.5,314.5 639.5,315.5 639.5,316.5 639.5,317.5 639.5,318.5 639.5,319.5 639.5,321.5 639.5,322.5 639.5,323.5 639.5,324.5 639.5,325.5 639.5,326.5 639.5,327.5 639.5,328.5 639.5,330.5 639.5,331.5 639.5,332.5 639.5,333.5 639.5,334.5 639.5,335.5 639.5,337.5 639.5,339.5 639.5,341.5 639.5,342.5 639.5,343.5 639.5,344.5 639.5,346.5 639.5,350.5 640.5,301.5 640.5,303.5 640.5,305.5 640.5,307.5 640.5,309.5 640.5,313.5"/>
<polyline fill="none" stroke="none" marker-start="url(#c)" marker-mid="url(#c)" marker-end="url(#c)" points="640.5,314.5 640.5,319.5 640.5,321.5 640.5,324.5 640.5,326.5 640.5,330.5 640.5,334.5 640.5,337.5 640.5,343.5 641.5,294.5 641.5,296.5 641.5,297.5 641.5,298.5 641.5,299.5 641.5,300.5 641.5,301.5 641.5,303.5 641.5,306.5 641.5,307.5 641.5,308.5 641.5,309.5 641.5,310.5 641.5,312.5 641.5,313.5 641.5,314.5 641.5,315.5 641.5,316.5 641.5,318.5 641.5,319.5 641.5,321.5 641.5,322.5 641.5,323.5 641.5,324.5 641.5,325.5 641.5,326.5 641.5,327.5 641.5,328.5 642.5,300.5 642.5,303.5 642.5,306.5 642.5,310.5 642.5,312.5 643.5,287.5 643.5,289.5 643.5,291.5 643.5,294.5 643.5,296.5 643.5,297.5 643.5,298.5 643.5,300.5 643.5,303.5 643.5,305.5 643.5,306.5 643.5,307.5 643.5,308.5 643.5,309.5 643.5,310.5 643.5,313.5 643.5,314.5 643.5,316.5 643.5,317.5 643.5,318.5 643.5,319.5 643.5,321.5 643.5,322.5 643.5,323.5 643.5,324.5 643.5,325.5 643.5,326.5 644.5,295.5 644.5,308.5 644.5,312.5 644.5,318.5 646.5,291.5 646.5,294.5 646.5,295.5 646.5,296.5 646.5,297.5 646.5,298.5 646.5,299.5 646.5,300.5 646.5,301.5 646.5,303.5 646.5,305.5 646.5,306.5 646.5,307.5 646.5,308.5 646.5,309.5 646.5,310.5 646.5,312.5 646.5,313.5 646.5,314.5 646.5,315.5 646.5,317.5 646.5,318.5 646.5,319.5 646.5,321.5 646.5,323.5 646.5,324.5 646.5,325.5 647.5,300.5 647.5,303.5 647.5,308.5 647.5,309.5 647.5,313.5 647.5,314.5 647.5,319.5 648.5,289.5 648.5,291.5 648.5,294.5 648.5,295.5 648.5,296.5 648.5,297.5 648.5,298.5 648.5,299.5 648.5,300.5 648.5,301.5 648.5,303.5 648.5,304.5 648.5,306.5 648.5,307.5 648.5,308.5 648.5,309.5 648.5,310.5 648.5,312.5 648.5,313.5 648.5,314.5 648.5,315.5 648.5,316.5 648.5,317.5 648.5,318.5 648.5,319.5 648.5,321.5 648.5,322.5 648.5,323.5 648.5,325.5 648.5,326.5 649.5,297.5 649.5,300.5 649.5,304.5 649.5,305.5 649.5,314.5 649.5,318.5 649.5,322.5 649.5,324.5 650.5,291.5 650.5,292.5 650.5,294.5 650.5,295.5 650.5,296.5 650.5,298.5 650.5,299.5 650.5,300.5 650.5,301.5 650.5,303.5 650.5,304.5 650.5,305.5 650.5,307.5 650.5,308.5 650.5,309.5 650.5,310.5 650.5,312.5 650.5,313.5 650.5,314.5 650.5,315.5 650.5,316.5 650.5,317.5 650.5,318.5 650.5,321.5 650.5,322.5 650.5,323.5 650.5,324.5 650.5,325.5 650.5,326.5 650.5,328.5 650.5,330.5 651.5,298.5 651.5,309.5 651.5,314.5 651.5,317.5 651.5,324.5 651.5,325.5 652.5,291.5 652.5,294.5 652.5,295.5 652.5,296.5 652.5,297.5 652.5,298.5 652.5,299.5 652.5,300.5 652.5,301.5 652.5,303.5 652.5,304.5 652.5,305.5 652.5,306.5 652.5,307.5 652.5,308.5 652.5,309.5 652.5,312.5 652.5,313.5 652.5,314.5 652.5,316.5 652.5,318.5 652.5,319.5 652.5,321.5 652.5,322.5 652.5,324.5 652.5,325.5 652.5,326.5 652.5,327.5 652.5,328.5 652.5,330.5 652.5,331.5 652.5,332.5 652.5,334.5 653.5,297.5 653.5,301.5 653.5,313.5 653.5,317.5 653.5,319.5 653.5,322.5 653.5,325.5 654.5,294.5 654.5,296.5 654.5,297.5 654.5,298.5 654.5,299.5 654.5,300.5 654.5,301.5 654.5,303.5 654.5,304.5 654.5,305.5 654.5,306.5 654.5,307.5 654.5,308.5 654.5,309.5 654.5,310.5 654.5,312.5 654.5,313.5 654.5,314.5 654.5,316.5 654.5,318.5 654.5,319.5 654.5,321.5 654.5,322.5 654.5,323.5 654.5,324.5 654.5,325.5 654.5,326.5 654.5,327.5 654.5,330.5 654.5,331.5 654.5,332.5 654.5,333.5 654.5,334.5 654.5,335.5 654.5,337.5 654.5,338.5 654.5,339.5 654.5,340.5 654.5,341.5 654.5,342.5 654.5,343.5 654.5,344.5 654.5,346.5 654.5,347.5 654.5,348.5 654.5,349.5 654.5,350.5 654.5,351.5 654.5,352.5 654.5,355.5 654.5,357.5 655.5,295.5 655.5,299.5 655.5,301.5 655.5,308.5 655.5,312.5 655.5,319.5 655.5,328.5 655.5,330.5 655.5,333.5 655.5,335.5 655.5,337.5 655.5,340.5 655.5,342.5 655.5,343.5 655.5,347.5 655.5,349.5 655.5,353.5 656.5,289.5 656.5,291.5 656.5,292.5 656.5,294.5 656.5,296.5 656.5,298.5 656.5,299.5 656.5,300.5 656.5,301.5 656.5,303.5 656.5,304.5 656.5,305.5 656.5,307.5 656.5,308.5 656.5,309.5 656.5,310.5 656.5,313.5 656.5,314.5 656.5,315.5 656.5,316.5 656.5,317.5 656.5,318.5 656.5,319.5 656.5,321.5 656.5,322.5 656.5,323.5 656.5,325.5 656.5,326.5 656.5,327.5 656.5,328.5 656.5,330.5 656.5,331.5 656.5,332.5 656.5,333.5 656.5,334.5 656.5,335.5 656.5,337.5 656.5,338.5 656.5,339.5 656.5,340.5 656.5,341.5 656.5,342.5 656.5,343.5 656.5,344.5 656.5,346.5 656.5,347.5 656.5,348.5 656.5,349.5 656.5,350.5 656.5,351.5 656.5,352.5 656.5,355.5 656.5,357.5 657.5,292.5 657.5,307.5 657.5,314.5 657.5,317.5 657.5,318.5 657.5,321.5 657.5,332.5 657.5,335.5 657.5,337.5 657.5,344.5 657.5,347.5 657.5,348.5 658.5,289.5 658.5,291.5 658.5,294.5 658.5,295.5 658.5,296.5 658.5,297.5 658.5,298.5 658.5,299.5 658.5,300.5 658.5,301.5 658.5,303.5 658.5,304.5 658.5,305.5 658.5,306.5 658.5,307.5 658.5,308.5 658.5,309.5 658.5,310.5 658.5,312.5 658.5,313.5 658.5,314.5 658.5,315.5 658.5,316.5 658.5,317.5 658.5,318.5 658.5,319.5 658.5,322.5 658.5,323.5 658.5,324.5 658.5,325.5 658.5,326.5 658.5,327.5 658.5,330.5 658.5,332.5 658.5,333.5 658.5,334.5 658.5,335.5 658.5,337.5 658.5,338.5 658.5,339.5 658.5,341.5 658.5,342.5 658.5,343.5 658.5,344.5 658.5,346.5"/>
<polyline fill="none" stroke="none" marker-start="url(#c)" marker-mid="url(#c)" marker-end="url(#c)" points="658.5,348.5 658.5,349.5 658.5,350.5 658.5,351.5 658.5,352.5 658.5,353.5 658.5,355.5 658.5,357.5 658.5,359.5 659.5,298.5 659.5,301.5 659.5,303.5 659.5,308.5 659.5,310.5 659.5,314.5 659.5,323.5 659.5,325.5 659.5,330.5 659.5,338.5 659.5,342.5 659.5,347.5 659.5,348.5 659.5,351.5 659.5,352.5 659.5,356.5 660.5,289.5 660.5,292.5 660.5,294.5 660.5,295.5 660.5,296.5 660.5,297.5 660.5,298.5 660.5,299.5 660.5,300.5 660.5,301.5 660.5,303.5 660.5,304.5 660.5,305.5 660.5,306.5 660.5,307.5 660.5,308.5 660.5,309.5 660.5,310.5 660.5,312.5 660.5,313.5 660.5,314.5 660.5,315.5 660.5,316.5 660.5,318.5 660.5,319.5 660.5,322.5 660.5,323.5 660.5,324.5 660.5,325.5 660.5,326.5 660.5,327.5 660.5,328.5 660.5,330.5 660.5,331.5 660.5,332.5 660.5,333.5 660.5,334.5 660.5,335.5 660.5,337.5 660.5,338.5 660.5,339.5 660.5,340.5 660.5,341.5 660.5,343.5 660.5,344.5 660.5,346.5 660.5,347.5 660.5,348.5 660.5,349.5 660.5,350.5 660.5,351.5 660.5,352.5 660.5,353.5 660.5,355.5 660.5,356.5 660.5,357.5 660.5,359.5 661.5,296.5 661.5,304.5 661.5,305.5 661.5,307.5 661.5,310.5 661.5,313.5 661.5,314.5 661.5,318.5 661.5,321.5 661.5,323.5 661.5,326.5 661.5,328.5 661.5,331.5 661.5,334.5 661.5,347.5 661.5,351.5 661.5,352.5 661.5,357.5 661.5,359.5 662.5,289.5 662.5,291.5 662.5,294.5 662.5,296.5 662.5,297.5 662.5,298.5 662.5,299.5 662.5,300.5 662.5,301.5 662.5,303.5 662.5,304.5 662.5,305.5 662.5,306.5 662.5,307.5 662.5,308.5 662.5,309.5 662.5,310.5 662.5,312.5 662.5,313.5 662.5,314.5 662.5,315.5 662.5,316.5 662.5,317.5 662.5,318.5 662.5,319.5 662.5,321.5 662.5,322.5 662.5,323.5 662.5,324.5 662.5,325.5 662.5,326.5 662.5,327.5 662.5,328.5 662.5,330.5 662.5,331.5 662.5,332.5 662.5,333.5 662.5,334.5 662.5,335.5 662.5,337.5 662.5,338.5 662.5,339.5 662.5,340.5 662.5,341.5 662.5,342.5 662.5,343.5 662.5,346.5 662.5,348.5 663.5,298.5 663.5,301.5 663.5,323.5 663.5,328.5 663.5,330.5 663.5,333.5 663.5,334.5 663.5,337.5 663.5,342.5 665.5,291.5 665.5,294.5 665.5,295.5 665.5,296.5 665.5,297.5 665.5,298.5 665.5,299.5 665.5,300.5 665.5,301.5 665.5,303.5 665.5,304.5 665.5,305.5 665.5,306.5 665.5,308.5 665.5,309.5 665.5,310.5 665.5,312.5 665.5,313.5 665.5,314.5 665.5,315.5 665.5,316.5 665.5,317.5 665.5,318.5 665.5,319.5 665.5,321.5 665.5,322.5 665.5,323.5 665.5,324.5 665.5,325.5 665.5,326.5 665.5,327.5 665.5,328.5 665.5,330.5 665.5,331.5 665.5,332.5 665.5,333.5 665.5,334.5 665.5,335.5 665.5,337.5 665.5,338.5 665.5,339.5 665.5,340.5 665.5,341.5 665.5,343.5 665.5,344.5 665.5,346.5 665.5,347.5 665.5,348.5 665.5,349.5 665.5,350.5 665.5,351.5 666.5,306.5 666.5,307.5 666.5,315.5 666.5,326.5 666.5,332.5 666.5,334.5 666.5,337.5 666.5,344.5 666.5,346.5 667.5,287.5 667.5,289.5 667.5,291.5 667.5,292.5 667.5,294.5 667.5,296.5 667.5,297.5 667.5,298.5 667.5,300.5 667.5,301.5 667.5,303.5 667.5,304.5 667.5,305.5 667.5,306.5 667.5,307.5 667.5,309.5 667.5,310.5 667.5,312.5 667.5,313.5 667.5,314.5 667.5,315.5 667.5,316.5 667.5,317.5 667.5,318.5 667.5,319.5 667.5,321.5 667.5,322.5 667.5,323.5 667.5,324.5 667.5,325.5 667.5,326.5 667.5,327.5 667.5,328.5 667.5,330.5 667.5,331.5 667.5,332.5 667.5,334.5 667.5,335.5 667.5,337.5 667.5,338.5 667.5,339.5 667.5,341.5 667.5,342.5 667.5,343.5 667.5,344.5 667.5,346.5 667.5,347.5 667.5,348.5 667.5,350.5 668.5,298.5 668.5,301.5 668.5,307.5 668.5,310.5 668.5,318.5 668.5,324.5 668.5,332.5 668.5,338.5 668.5,344.5 668.5,347.5 668.5,349.5 669.5,291.5 669.5,294.5 669.5,296.5 669.5,297.5 669.5,298.5 669.5,299.5 669.5,300.5 669.5,301.5 669.5,303.5 669.5,304.5 669.5,305.5 669.5,306.5 669.5,307.5 669.5,308.5 669.5,309.5 669.5,310.5 669.5,312.5 669.5,314.5 669.5,316.5 669.5,318.5 669.5,319.5 669.5,321.5 669.5,322.5 669.5,323.5 669.5,324.5 669.5,325.5 669.5,327.5 669.5,328.5 669.5,330.5 669.5,331.5 669.5,332.5 669.5,333.5 669.5,334.5 669.5,335.5 669.5,337.5 669.5,338.5 669.5,339.5 669.5,340.5 669.5,341.5 670.5,297.5 670.5,300.5 670.5,305.5 670.5,308.5 670.5,309.5 670.5,312.5 670.5,322.5 670.5,334.5 670.5,337.5 671.5,291.5 671.5,294.5 671.5,296.5 671.5,297.5 671.5,298.5 671.5,299.5 671.5,300.5 671.5,301.5 671.5,303.5 671.5,304.5 671.5,305.5 671.5,306.5 671.5,307.5 671.5,308.5 671.5,309.5 671.5,310.5 671.5,312.5 671.5,314.5 671.5,315.5 671.5,316.5 671.5,317.5 671.5,318.5 671.5,319.5 671.5,321.5 671.5,322.5 671.5,323.5 671.5,324.5 671.5,325.5 671.5,326.5 671.5,327.5 671.5,328.5 671.5,330.5 671.5,331.5 671.5,332.5 671.5,333.5 671.5,334.5 671.5,335.5 671.5,337.5 671.5,338.5 671.5,339.5 671.5,341.5 671.5,343.5 671.5,344.5 672.5,299.5 672.5,301.5 672.5,308.5 672.5,315.5 672.5,318.5 672.5,321.5 672.5,328.5 672.5,333.5 673.5,291.5 673.5,294.5 673.5,296.5 673.5,297.5 673.5,300.5 673.5,301.5 673.5,303.5 673.5,304.5 673.5,305.5 673.5,306.5 673.5,307.5 673.5,309.5 673.5,310.5 673.5,312.5 673.5,313.5 673.5,314.5 673.5,315.5 673.5,316.5 673.5,317.5 673.5,318.5 673.5,321.5 673.5,323.5 673.5,324.5"/>
<polyline fill="none" stroke="none" marker-start="url(#c)" marker-mid="url(#c)" marker-end="url(#c)" points="673.5,325.5 673.5,326.5 673.5,327.5 673.5,328.5 673.5,330.5 673.5,331.5 673.5,332.5 673.5,333.5 673.5,334.5 673.5,335.5 673.5,337.5 673.5,338.5 673.5,339.5 673.5,340.5 673.5,341.5 673.5,342.5 673.5,343.5 673.5,346.5 674.5,304.5 674.5,308.5 674.5,310.5 674.5,318.5 674.5,324.5 674.5,328.5 674.5,330.5 674.5,340.5 675.5,298.5 675.5,300.5 675.5,303.5 675.5,304.5 675.5,305.5 675.5,306.5 675.5,307.5 675.5,308.5 675.5,309.5 675.5,310.5 675.5,312.5 675.5,313.5 675.5,314.5 675.5,315.5 675.5,316.5 675.5,318.5 675.5,319.5 675.5,321.5 675.5,323.5 675.5,324.5 675.5,325.5 675.5,327.5 675.5,328.5 675.5,330.5 675.5,331.5 675.5,332.5 675.5,333.5 675.5,334.5 675.5,335.5 675.5,337.5 675.5,338.5 675.5,341.5 676.5,306.5 676.5,308.5 676.5,310.5 676.5,312.5 676.5,315.5 676.5,316.5 676.5,321.5 676.5,326.5 676.5,327.5 676.5,338.5 677.5,300.5 677.5,303.5 677.5,305.5 677.5,306.5 677.5,307.5 677.5,308.5 677.5,309.5 677.5,312.5 677.5,313.5 677.5,314.5 677.5,315.5 677.5,316.5 677.5,317.5 677.5,318.5 677.5,319.5 677.5,321.5 677.5,322.5 677.5,323.5 677.5,324.5 677.5,325.5 677.5,327.5 677.5,328.5 677.5,330.5 677.5,331.5 677.5,332.5 678.5,309.5 678.5,313.5 678.5,317.5 678.5,325.5 678.5,327.5 679.5,298.5 679.5,300.5 679.5,301.5 679.5,303.5 679.5,305.5 679.5,306.5 679.5,307.5 679.5,308.5 679.5,309.5 679.5,310.5 679.5,312.5 679.5,313.5 679.5,314.5 679.5,315.5 679.5,316.5 679.5,317.5 679.5,318.5 679.5,319.5 679.5,321.5 679.5,322.5 679.5,323.5 679.5,324.5 679.5,325.5 679.5,326.5 679.5,327.5 679.5,330.5 680.5,298.5 680.5,304.5 680.5,306.5 680.5,307.5 680.5,313.5 680.5,317.5 681.5,299.5 681.5,300.5 681.5,301.5 681.5,303.5 681.5,304.5 681.5,305.5 681.5,306.5 681.5,307.5 681.5,308.5 681.5,310.5 681.5,312.5 681.5,313.5 681.5,314.5 681.5,315.5 681.5,316.5 681.5,317.5 681.5,318.5 681.5,319.5 681.5,321.5 681.5,322.5 681.5,323.5 681.5,324.5 681.5,325.5 681.5,326.5 681.5,327.5 681.5,328.5 681.5,330.5 681.5,333.5 682.5,307.5 682.5,314.5 682.5,321.5 682.5,324.5 682.5,325.5 684.5,298.5 684.5,300.5 684.5,303.5 684.5,305.5 684.5,307.5 684.5,308.5 684.5,309.5 684.5,310.5 684.5,312.5 684.5,313.5 684.5,314.5 684.5,316.5 684.5,317.5 684.5,318.5 684.5,319.5 684.5,322.5 684.5,323.5 684.5,324.5 684.5,325.5 684.5,326.5 684.5,327.5 684.5,328.5 684.5,330.5 684.5,331.5 684.5,332.5 684.5,334.5 685.5,298.5 685.5,303.5 685.5,312.5 685.5,314.5 685.5,317.5 685.5,319.5 685.5,326.5 685.5,327.5 685.5,334.5 686.5,296.5 686.5,298.5 686.5,300.5 686.5,303.5 686.5,304.5 686.5,305.5 686.5,306.5 686.5,307.5 686.5,308.5 686.5,309.5 686.5,310.5 686.5,312.5 686.5,313.5 686.5,314.5 686.5,315.5 686.5,316.5 686.5,317.5 686.5,318.5 686.5,319.5 686.5,321.5 686.5,322.5 686.5,323.5 686.5,324.5 686.5,325.5 686.5,326.5 686.5,327.5 686.5,328.5 686.5,330.5 686.5,331.5 686.5,332.5 686.5,333.5 686.5,334.5 686.5,335.5 686.5,337.5 686.5,338.5 686.5,339.5 686.5,341.5 686.5,343.5 686.5,344.5 686.5,346.5 686.5,347.5 686.5,348.5 686.5,349.5 686.5,350.5 686.5,351.5 686.5,352.5 686.5,353.5 686.5,355.5 686.5,357.5 686.5,359.5 686.5,360.5 686.5,364.5 687.5,303.5 687.5,307.5 687.5,309.5 687.5,316.5 687.5,319.5 687.5,321.5 687.5,323.5 687.5,327.5 687.5,334.5 687.5,338.5 687.5,341.5 687.5,344.5 687.5,346.5 687.5,353.5 687.5,356.5 687.5,357.5 688.5,294.5 688.5,295.5 688.5,296.5 688.5,298.5 688.5,299.5 688.5,300.5 688.5,301.5 688.5,303.5 688.5,306.5 688.5,307.5 688.5,308.5 688.5,309.5 688.5,310.5 688.5,312.5 688.5,313.5 688.5,314.5 688.5,315.5 688.5,316.5 688.5,317.5 688.5,318.5 688.5,321.5 688.5,323.5 688.5,324.5 688.5,325.5 688.5,326.5 688.5,327.5 688.5,328.5 688.5,330.5 688.5,331.5 688.5,332.5 688.5,333.5 688.5,334.5 688.5,335.5 688.5,337.5 688.5,338.5 688.5,339.5 688.5,340.5 688.5,341.5 688.5,343.5 688.5,344.5 688.5,346.5 688.5,347.5 688.5,348.5 688.5,349.5 688.5,350.5 688.5,351.5 688.5,352.5 688.5,353.5 688.5,355.5 688.5,357.5 688.5,358.5 688.5,359.5 689.5,295.5 689.5,296.5 689.5,300.5 689.5,304.5 689.5,306.5 689.5,307.5 689.5,317.5 689.5,327.5 689.5,333.5 689.5,334.5 689.5,338.5 689.5,340.5 689.5,341.5 689.5,343.5 689.5,346.5 689.5,348.5 689.5,351.5 689.5,352.5 690.5,296.5 690.5,298.5 690.5,300.5 690.5,301.5 690.5,303.5 690.5,304.5 690.5,305.5 690.5,306.5 690.5,307.5 690.5,308.5 690.5,309.5 690.5,310.5 690.5,312.5 690.5,313.5 690.5,314.5 690.5,315.5 690.5,316.5 690.5,318.5 690.5,319.5 690.5,321.5 690.5,322.5 690.5,323.5 690.5,324.5 690.5,325.5 690.5,326.5 690.5,327.5 690.5,328.5 690.5,330.5 690.5,331.5 690.5,332.5 690.5,333.5 690.5,334.5 690.5,335.5 690.5,337.5 690.5,338.5 690.5,339.5 690.5,340.5 690.5,341.5 690.5,342.5 690.5,343.5 690.5,344.5 690.5,346.5 690.5,347.5 690.5,348.5 690.5,349.5 690.5,350.5 690.5,351.5 690.5,352.5 690.5,353.5 690.5,355.5 690.5,356.5 690.5,357.5 690.5,359.5 690.5,360.5 690.5,361.5 691.5,312.5 691.5,314.5 691.5,318.5 691.5,321.5 691.5,339.5 691.5,346.5 691.5,350.5 692.5,294.5 692.5,296.5"/>
<polyline fill="none" stroke="none" marker-start="url(#c)" marker-mid="url(#c)" marker-end="url(#c)" points="692.5,297.5 692.5,298.5 692.5,299.5 692.5,300.5 692.5,303.5 692.5,304.5 692.5,305.5 692.5,306.5 692.5,307.5 692.5,308.5 692.5,309.5 692.5,312.5 692.5,313.5 692.5,314.5 692.5,315.5 692.5,316.5 692.5,317.5 692.5,318.5 692.5,319.5 692.5,321.5 692.5,322.5 692.5,323.5 692.5,324.5 692.5,325.5 692.5,326.5 692.5,327.5 692.5,328.5 692.5,330.5 692.5,332.5 692.5,333.5 692.5,334.5 692.5,335.5 692.5,337.5 692.5,338.5 692.5,339.5 692.5,340.5 692.5,341.5 692.5,342.5 692.5,343.5 692.5,344.5 692.5,346.5 692.5,348.5 693.5,299.5 693.5,307.5 693.5,317.5 693.5,321.5 693.5,324.5 693.5,330.5 693.5,340.5 693.5,343.5 693.5,351.5 694.5,287.5 694.5,289.5 694.5,290.5 694.5,294.5 694.5,295.5 694.5,296.5 694.5,297.5 694.5,298.5 694.5,299.5 694.5,300.5 694.5,303.5 694.5,304.5 694.5,305.5 694.5,306.5 694.5,307.5 694.5,308.5 694.5,309.5 694.5,310.5 694.5,312.5 694.5,313.5 694.5,314.5 694.5,315.5 694.5,316.5 694.5,318.5 694.5,319.5 694.5,321.5 694.5,322.5 694.5,323.5 694.5,324.5 694.5,325.5 694.5,327.5 694.5,328.5 694.5,330.5 694.5,331.5 694.5,332.5 694.5,333.5 694.5,334.5 694.5,335.5 694.5,337.5 694.5,338.5 694.5,339.5 694.5,341.5 694.5,346.5 695.5,292.5 695.5,296.5 695.5,298.5 695.5,304.5 695.5,305.5 695.5,309.5 695.5,315.5 695.5,317.5 695.5,327.5 695.5,333.5 695.5,335.5 695.5,337.5 695.5,340.5 695.5,342.5 696.5,273.5 696.5,276.5 696.5,278.5 696.5,280.5 696.5,281.5 696.5,282.5 696.5,283.5 696.5,285.5 696.5,287.5 696.5,288.5 696.5,289.5 696.5,290.5 696.5,291.5 696.5,292.5 696.5,294.5 696.5,295.5 696.5,296.5 696.5,297.5 696.5,299.5 696.5,300.5 696.5,301.5 696.5,303.5 696.5,304.5 696.5,305.5 696.5,306.5 696.5,307.5 696.5,308.5 696.5,309.5 696.5,310.5 696.5,312.5 696.5,313.5 696.5,314.5 696.5,315.5 696.5,316.5 696.5,317.5 696.5,318.5 696.5,319.5 696.5,321.5 696.5,322.5 696.5,323.5 696.5,324.5 696.5,325.5 696.5,326.5 696.5,328.5 696.5,330.5 696.5,331.5 696.5,332.5 696.5,333.5 696.5,334.5 696.5,335.5 696.5,337.5 696.5,338.5 696.5,339.5 696.5,340.5 696.5,342.5 696.5,343.5 696.5,346.5 697.5,283.5 697.5,285.5 697.5,288.5 697.5,290.5 697.5,297.5 697.5,303.5 697.5,305.5 697.5,307.5 697.5,312.5 697.5,321.5 697.5,325.5 697.5,331.5 697.5,335.5 697.5,337.5 697.5,339.5 697.5,342.5 697.5,347.5 698.5,269.5 698.5,271.5 698.5,272.5 698.5,273.5 698.5,274.5 698.5,276.5 698.5,277.5 698.5,278.5 698.5,279.5 698.5,280.5 698.5,281.5 698.5,282.5 698.5,283.5 698.5,285.5 698.5,286.5 698.5,287.5 698.5,288.5 698.5,289.5 698.5,291.5 698.5,294.5 698.5,295.5 698.5,296.5 698.5,297.5 698.5,298.5 698.5,299.5 698.5,300.5 698.5,303.5 698.5,304.5 698.5,305.5 698.5,306.5 698.5,307.5 698.5,308.5 698.5,309.5 698.5,310.5 698.5,312.5 698.5,313.5 698.5,314.5 698.5,315.5 698.5,316.5 698.5,317.5 698.5,318.5 698.5,319.5 698.5,321.5 698.5,322.5 698.5,323.5 698.5,324.5 698.5,325.5 698.5,327.5 698.5,328.5 698.5,330.5 698.5,331.5 698.5,332.5 698.5,333.5 698.5,334.5 698.5,335.5 698.5,337.5 698.5,338.5 698.5,339.5 698.5,341.5 698.5,342.5 698.5,343.5 698.5,344.5 698.5,346.5 698.5,348.5 698.5,350.5 699.5,274.5 699.5,283.5 699.5,287.5 699.5,294.5 699.5,297.5 699.5,298.5 699.5,306.5 699.5,313.5 699.5,317.5 699.5,319.5 699.5,322.5 699.5,324.5 699.5,325.5 699.5,328.5 699.5,330.5 699.5,332.5 699.5,335.5 699.5,339.5 700.5,273.5 700.5,276.5 700.5,278.5 700.5,280.5 700.5,281.5 700.5,282.5 700.5,283.5 700.5,285.5 700.5,286.5 700.5,287.5 700.5,288.5 700.5,289.5 700.5,290.5 700.5,291.5 700.5,292.5 700.5,294.5 700.5,295.5 700.5,296.5 700.5,297.5 700.5,298.5 700.5,299.5 700.5,300.5 700.5,303.5 700.5,304.5 700.5,305.5 700.5,306.5 700.5,307.5 700.5,309.5 700.5,310.5 700.5,312.5 700.5,313.5 700.5,314.5 700.5,315.5 700.5,316.5 700.5,318.5 700.5,319.5 700.5,321.5 700.5,322.5 700.5,323.5 700.5,324.5 700.5,325.5 700.5,327.5 700.5,328.5 700.5,330.5 700.5,331.5 700.5,332.5 700.5,333.5 700.5,334.5 700.5,335.5 700.5,337.5 700.5,338.5 700.5,339.5 700.5,340.5 700.5,341.5 700.5,342.5 700.5,343.5 700.5,344.5 700.5,346.5 700.5,347.5 700.5,348.5 700.5,349.5 700.5,350.5 700.5,351.5 700.5,352.5 700.5,355.5 701.5,271.5 701.5,277.5 701.5,278.5 701.5,283.5 701.5,292.5 701.5,297.5 701.5,300.5 701.5,305.5 701.5,307.5 701.5,309.5 701.5,314.5 701.5,327.5 701.5,330.5 701.5,332.5 701.5,338.5 701.5,343.5 703.5,273.5 703.5,276.5 703.5,277.5 703.5,278.5 703.5,279.5 703.5,280.5 703.5,282.5 703.5,283.5 703.5,285.5 703.5,286.5 703.5,287.5 703.5,288.5 703.5,289.5 703.5,290.5 703.5,291.5 703.5,292.5 703.5,294.5 703.5,295.5 703.5,296.5 703.5,297.5 703.5,298.5 703.5,299.5 703.5,300.5 703.5,305.5 703.5,306.5 703.5,307.5 703.5,308.5 703.5,309.5 703.5,310.5 703.5,312.5 703.5,313.5 703.5,314.5 703.5,315.5 703.5,316.5 703.5,317.5 703.5,318.5 703.5,319.5 703.5,321.5 703.5,322.5 703.5,323.5 703.5,324.5 703.5,325.5 703.5,326.5 703.5,327.5 703.5,328.5 703.5,331.5 703.5,332.5 703.5,334.5 703.5,337.5 703.5,338.5 703.5,339.5 703.5,340.5 703.5,341.5 703.5,342.5"/>
<polyline fill="none" stroke="none" marker-start="url(#c)" marker-mid="url(#c)" marker-end="url(#c)" points="703.5,343.5 703.5,344.5 703.5,346.5 703.5,347.5 703.5,348.5 703.5,349.5 703.5,350.5 703.5,351.5 703.5,352.5 703.5,353.5 703.5,355.5 703.5,357.5 703.5,359.5 703.5,361.5 704.5,279.5 704.5,280.5 704.5,282.5 704.5,286.5 704.5,292.5 704.5,300.5 704.5,303.5 704.5,305.5 704.5,310.5 704.5,314.5 704.5,333.5 704.5,334.5 704.5,339.5 704.5,348.5 704.5,351.5 704.5,352.5 705.5,296.5 705.5,301.5 705.5,303.5 705.5,304.5 705.5,305.5 705.5,306.5 705.5,307.5 705.5,309.5 705.5,310.5 705.5,312.5 705.5,313.5 705.5,315.5 705.5,316.5 705.5,317.5 705.5,318.5 705.5,319.5 705.5,321.5 705.5,322.5 705.5,324.5 705.5,325.5 705.5,326.5 705.5,327.5 705.5,328.5 705.5,330.5 705.5,331.5 705.5,332.5 705.5,333.5 705.5,334.5 705.5,337.5 705.5,338.5 705.5,339.5 705.5,340.5 705.5,341.5 705.5,342.5 705.5,343.5 705.5,344.5 705.5,346.5 705.5,347.5 705.5,348.5 705.5,349.5 705.5,350.5 705.5,351.5 705.5,352.5 705.5,355.5 705.5,356.5 705.5,357.5 705.5,359.5 705.5,360.5 705.5,361.5 705.5,362.5 705.5,364.5 705.5,366.5 705.5,368.5 705.5,370.5 706.5,299.5 706.5,304.5 706.5,306.5 706.5,307.5 706.5,310.5 706.5,313.5 706.5,314.5 706.5,318.5 706.5,321.5 706.5,323.5 706.5,326.5 706.5,330.5 706.5,340.5 706.5,342.5 706.5,347.5 706.5,350.5 706.5,353.5 706.5,356.5 706.5,365.5 707.5,316.5 707.5,317.5 707.5,318.5 707.5,321.5 707.5,322.5 707.5,323.5 707.5,324.5 707.5,325.5 707.5,327.5 707.5,328.5 707.5,330.5 707.5,331.5 707.5,332.5 707.5,333.5 707.5,334.5 707.5,335.5 707.5,339.5 707.5,340.5 707.5,342.5 707.5,343.5 707.5,344.5 707.5,346.5 707.5,347.5 707.5,348.5 707.5,349.5 707.5,350.5 707.5,351.5 707.5,352.5 707.5,355.5 707.5,356.5 707.5,357.5 707.5,358.5 707.5,359.5 707.5,360.5 707.5,361.5 707.5,364.5 707.5,365.5 707.5,366.5 707.5,367.5 707.5,368.5 707.5,370.5 708.5,323.5 708.5,331.5 708.5,332.5 708.5,334.5 708.5,338.5 708.5,351.5 708.5,352.5 708.5,356.5 708.5,360.5 708.5,367.5 709.5,325.5 709.5,327.5 709.5,330.5 709.5,331.5 709.5,332.5 709.5,333.5 709.5,334.5 709.5,335.5 709.5,337.5 709.5,338.5 709.5,339.5 709.5,340.5 709.5,341.5 709.5,342.5 709.5,343.5 709.5,347.5 709.5,348.5 709.5,349.5 709.5,350.5 709.5,351.5 709.5,352.5 709.5,353.5 709.5,355.5 709.5,356.5 709.5,357.5 709.5,358.5 709.5,359.5 709.5,360.5 709.5,361.5 710.5,325.5 710.5,330.5 710.5,334.5 710.5,338.5 710.5,339.5 710.5,348.5 710.5,353.5 710.5,356.5 710.5,357.5 711.5,327.5 711.5,330.5 711.5,332.5 711.5,333.5 711.5,334.5 711.5,335.5 711.5,337.5 711.5,338.5 711.5,339.5 711.5,340.5 711.5,341.5 711.5,342.5 711.5,343.5 711.5,344.5 711.5,346.5 711.5,347.5 711.5,348.5 711.5,349.5 711.5,350.5 711.5,351.5 711.5,352.5 711.5,355.5 711.5,357.5 711.5,358.5 711.5,359.5 712.5,330.5 712.5,340.5 712.5,342.5 713.5,330.5 713.5,332.5 713.5,334.5 713.5,337.5 713.5,338.5 713.5,339.5 713.5,340.5 713.5,341.5 713.5,342.5 713.5,343.5 713.5,344.5 713.5,346.5 713.5,347.5 713.5,349.5 713.5,350.5 713.5,351.5 713.5,352.5 713.5,353.5 713.5,355.5 713.5,356.5 713.5,357.5 713.5,359.5 713.5,360.5 713.5,361.5 714.5,337.5 714.5,343.5 714.5,346.5 714.5,350.5 714.5,355.5 715.5,321.5 715.5,323.5 715.5,324.5 715.5,325.5 715.5,326.5 715.5,327.5 715.5,330.5 715.5,331.5 715.5,333.5 715.5,334.5 715.5,335.5 715.5,337.5 715.5,338.5 715.5,339.5 715.5,340.5 715.5,341.5 715.5,342.5 715.5,343.5 715.5,344.5 715.5,346.5 715.5,347.5 715.5,348.5 715.5,349.5 715.5,350.5 715.5,351.5 715.5,352.5 715.5,353.5 715.5,355.5 715.5,356.5 715.5,357.5 715.5,358.5 715.5,359.5 715.5,360.5 715.5,361.5 715.5,364.5 716.5,325.5 716.5,328.5 716.5,332.5 716.5,337.5 716.5,344.5 716.5,349.5 716.5,351.5 716.5,365.5 717.5,318.5 717.5,321.5 717.5,323.5 717.5,325.5 717.5,326.5 717.5,327.5 717.5,332.5 717.5,333.5 717.5,334.5 717.5,335.5 717.5,337.5 717.5,339.5 717.5,340.5 717.5,341.5 717.5,342.5 717.5,343.5 717.5,344.5 717.5,346.5 717.5,347.5 717.5,348.5 717.5,349.5 717.5,350.5 717.5,352.5 717.5,355.5 718.5,324.5 718.5,327.5 718.5,333.5 718.5,338.5 718.5,346.5 718.5,353.5 719.5,314.5 719.5,316.5 719.5,318.5 719.5,319.5 719.5,321.5 719.5,322.5 719.5,323.5 719.5,324.5 719.5,325.5 719.5,326.5 719.5,327.5 719.5,328.5 719.5,330.5 719.5,331.5 719.5,333.5 719.5,334.5 719.5,335.5 719.5,337.5 719.5,338.5 719.5,339.5 719.5,340.5 719.5,341.5 719.5,342.5 719.5,343.5 719.5,344.5 719.5,346.5 719.5,347.5 719.5,348.5 719.5,350.5 720.5,319.5 720.5,321.5 720.5,326.5 720.5,342.5 720.5,346.5 722.5,309.5 722.5,310.5 722.5,314.5 722.5,316.5 722.5,318.5 722.5,319.5 722.5,321.5 722.5,322.5 722.5,323.5 722.5,324.5 722.5,325.5 722.5,326.5 722.5,327.5 722.5,328.5 722.5,330.5 722.5,332.5 722.5,335.5 722.5,337.5 722.5,338.5 722.5,339.5 722.5,340.5 722.5,341.5 722.5,343.5 722.5,344.5 722.5,346.5 722.5,347.5 722.5,348.5 722.5,349.5 722.5,350.5 722.5,351.5 723.5,318.5 723.5,321.5 723.5,326.5 723.5,332.5 723.5,334.5 723.5,338.5 723.5,340.5 724.5,307.5 724.5,309.5 724.5,310.5 724.5,312.5 724.5,313.5 724.5,314.5 724.5,315.5"/>
<polyline fill="none" stroke="none" marker-start="url(#c)" marker-mid="url(#c)" marker-end="url(#c)" points="724.5,316.5 724.5,317.5 724.5,318.5 724.5,319.5 724.5,321.5 724.5,322.5 724.5,323.5 724.5,324.5 724.5,325.5 724.5,327.5 724.5,328.5 724.5,330.5 724.5,331.5 724.5,332.5 724.5,333.5 724.5,334.5 724.5,337.5 724.5,339.5 724.5,340.5 724.5,344.5 724.5,346.5 724.5,347.5 724.5,348.5 724.5,350.5 725.5,309.5 725.5,314.5 725.5,318.5 725.5,324.5 725.5,332.5 725.5,341.5 726.5,303.5 726.5,304.5 726.5,305.5 726.5,307.5 726.5,309.5 726.5,310.5 726.5,312.5 726.5,313.5 726.5,314.5 726.5,315.5 726.5,316.5 726.5,317.5 726.5,318.5 726.5,319.5 726.5,321.5 726.5,322.5 726.5,323.5 726.5,324.5 726.5,325.5 726.5,326.5 726.5,327.5 726.5,328.5 726.5,330.5 726.5,331.5 726.5,332.5 726.5,333.5 726.5,334.5 726.5,335.5 726.5,337.5 726.5,338.5 726.5,339.5 726.5,340.5 726.5,341.5 726.5,342.5 726.5,343.5 726.5,344.5 726.5,346.5 726.5,347.5 726.5,348.5 726.5,349.5 726.5,350.5 727.5,322.5 727.5,331.5 727.5,339.5 727.5,342.5 728.5,300.5 728.5,305.5 728.5,307.5 728.5,308.5 728.5,309.5 728.5,310.5 728.5,312.5 728.5,314.5 728.5,315.5 728.5,316.5 728.5,317.5 728.5,318.5 728.5,319.5 728.5,321.5 728.5,322.5 728.5,323.5 728.5,324.5 728.5,325.5 728.5,326.5 728.5,327.5 728.5,328.5 728.5,330.5 728.5,331.5 728.5,332.5 728.5,333.5 728.5,334.5 728.5,335.5 728.5,337.5 728.5,338.5 728.5,339.5 728.5,340.5 728.5,341.5 728.5,342.5 728.5,343.5 728.5,346.5 728.5,347.5 728.5,348.5 729.5,306.5 729.5,307.5 729.5,309.5 729.5,313.5 729.5,318.5 729.5,321.5 729.5,327.5 729.5,331.5 729.5,334.5 729.5,338.5 729.5,339.5 730.5,300.5 730.5,303.5 730.5,305.5 730.5,306.5 730.5,307.5 730.5,308.5 730.5,309.5 730.5,310.5 730.5,312.5 730.5,313.5 730.5,314.5 730.5,315.5 730.5,317.5 730.5,318.5 730.5,319.5 730.5,321.5 730.5,322.5 730.5,323.5 730.5,324.5 730.5,325.5 730.5,326.5 730.5,327.5 730.5,328.5 730.5,330.5 730.5,332.5 730.5,333.5 730.5,334.5 730.5,335.5 730.5,337.5 730.5,338.5 730.5,339.5 730.5,340.5 730.5,341.5 730.5,343.5 730.5,344.5 731.5,307.5 731.5,318.5 731.5,322.5 731.5,324.5 731.5,327.5 731.5,330.5 731.5,332.5 731.5,334.5 731.5,340.5 732.5,298.5 732.5,300.5 732.5,303.5 732.5,304.5 732.5,305.5 732.5,307.5 732.5,308.5 732.5,309.5 732.5,310.5 732.5,312.5 732.5,313.5 732.5,314.5 732.5,315.5 732.5,316.5 732.5,318.5 732.5,319.5 732.5,321.5 732.5,323.5 732.5,326.5 732.5,327.5 732.5,330.5 732.5,331.5 732.5,332.5 732.5,333.5 732.5,334.5 732.5,337.5 733.5,300.5 733.5,310.5 733.5,321.5 733.5,326.5 733.5,328.5 733.5,334.5 734.5,298.5 734.5,299.5 734.5,300.5 734.5,301.5 734.5,303.5 734.5,304.5 734.5,305.5 734.5,306.5 734.5,307.5 734.5,308.5 734.5,309.5 734.5,310.5 734.5,312.5 734.5,313.5 734.5,314.5 734.5,315.5 734.5,316.5 734.5,318.5 734.5,319.5 734.5,321.5 734.5,323.5 734.5,324.5 734.5,325.5 734.5,326.5 734.5,327.5 734.5,328.5 734.5,330.5 734.5,331.5 734.5,332.5 734.5,333.5 734.5,334.5 734.5,335.5 734.5,337.5 734.5,338.5 734.5,339.5 735.5,307.5 735.5,331.5 735.5,333.5 736.5,296.5 736.5,298.5 736.5,301.5 736.5,303.5 736.5,304.5 736.5,305.5 736.5,306.5 736.5,307.5 736.5,308.5 736.5,309.5 736.5,310.5 736.5,312.5 736.5,313.5 736.5,314.5 736.5,315.5 736.5,316.5 736.5,317.5 736.5,318.5 736.5,319.5 736.5,321.5 736.5,324.5 736.5,325.5 736.5,326.5 736.5,327.5 736.5,328.5 736.5,330.5 736.5,331.5 736.5,332.5 736.5,334.5 736.5,337.5 736.5,338.5 736.5,339.5 736.5,340.5 736.5,341.5 737.5,300.5 737.5,304.5 737.5,306.5 737.5,310.5 737.5,315.5 737.5,318.5 737.5,322.5 737.5,324.5 737.5,325.5 737.5,328.5 737.5,331.5 737.5,337.5 738.5,298.5 738.5,300.5 738.5,301.5 738.5,303.5 738.5,304.5 738.5,305.5 738.5,306.5 738.5,309.5 738.5,310.5 738.5,312.5 738.5,313.5 738.5,314.5 738.5,315.5 738.5,316.5 738.5,317.5 738.5,318.5 738.5,319.5 738.5,321.5 738.5,322.5 738.5,323.5 738.5,325.5 738.5,327.5 738.5,328.5 739.5,299.5 739.5,306.5 739.5,309.5 739.5,312.5 739.5,314.5 739.5,317.5 739.5,324.5 741.5,296.5 741.5,298.5 741.5,299.5 741.5,300.5 741.5,301.5 741.5,303.5 741.5,304.5 741.5,305.5 741.5,306.5 741.5,307.5 741.5,308.5 741.5,309.5 741.5,310.5 741.5,312.5 741.5,313.5 741.5,314.5 741.5,315.5 741.5,316.5 741.5,317.5 741.5,318.5 741.5,319.5 741.5,321.5 741.5,322.5 741.5,323.5 741.5,324.5 741.5,325.5 741.5,326.5 741.5,327.5 742.5,297.5 742.5,305.5 742.5,316.5 742.5,328.5 743.5,300.5 743.5,301.5 743.5,303.5 743.5,304.5 743.5,305.5 743.5,306.5 743.5,307.5 743.5,308.5 743.5,309.5 743.5,310.5 743.5,312.5 743.5,313.5 743.5,314.5 743.5,315.5 743.5,316.5 743.5,317.5 743.5,318.5 743.5,319.5 743.5,321.5 743.5,322.5 743.5,323.5 743.5,325.5 743.5,326.5 744.5,307.5 744.5,309.5 744.5,313.5 744.5,319.5 745.5,294.5 745.5,296.5 745.5,298.5 745.5,300.5 745.5,301.5 745.5,303.5 745.5,304.5 745.5,305.5 745.5,307.5 745.5,308.5 745.5,309.5 745.5,312.5 745.5,313.5 745.5,314.5 745.5,315.5 745.5,316.5 745.5,317.5 745.5,318.5 745.5,319.5 745.5,321.5 745.5,322.5 745.5,323.5 745.5,324.5 745.5,325.5 745.5,326.5 745.5,327.5 745.5,328.5 745.5,330.5"/>
<polyline fill="none" stroke="none" marker-start="url(#c)" marker-mid="url(#c)" marker-end="url(#c)" points="745.5,331.5 745.5,332.5 745.5,333.5 745.5,334.5 745.5,337.5 745.5,338.5 745.5,339.5 745.5,341.5 745.5,342.5 745.5,343.5 745.5,344.5 745.5,346.5 745.5,347.5 745.5,348.5 745.5,349.5 745.5,350.5 745.5,351.5 745.5,352.5 745.5,355.5 746.5,301.5 746.5,305.5 746.5,310.5 746.5,318.5 746.5,326.5 746.5,327.5 746.5,332.5 746.5,339.5 746.5,351.5 747.5,312.5 747.5,314.5 747.5,316.5 747.5,317.5 747.5,318.5 747.5,321.5 747.5,322.5 747.5,323.5 747.5,324.5 747.5,326.5 747.5,327.5 747.5,328.5 747.5,330.5 747.5,331.5 747.5,332.5 747.5,333.5 747.5,334.5 747.5,335.5 747.5,340.5 747.5,341.5 747.5,342.5 747.5,343.5 747.5,344.5 747.5,346.5 747.5,347.5 747.5,348.5 747.5,349.5 747.5,350.5 747.5,351.5 747.5,352.5 747.5,355.5 747.5,356.5 747.5,357.5 748.5,314.5 748.5,318.5 748.5,324.5 748.5,325.5 748.5,332.5 748.5,356.5 749.5,312.5 749.5,314.5 749.5,316.5 749.5,317.5 749.5,318.5 749.5,319.5 749.5,321.5 749.5,322.5 749.5,323.5 749.5,324.5 749.5,325.5 749.5,326.5 749.5,328.5 749.5,330.5 749.5,331.5 749.5,332.5 749.5,333.5 749.5,334.5 749.5,335.5 749.5,337.5 749.5,339.5 749.5,341.5 749.5,342.5 749.5,343.5 749.5,344.5 749.5,346.5 749.5,347.5 749.5,348.5 749.5,350.5 749.5,351.5 749.5,352.5 749.5,353.5 749.5,355.5 749.5,357.5 749.5,359.5 749.5,360.5 750.5,318.5 750.5,321.5 750.5,324.5 750.5,327.5 750.5,330.5 750.5,332.5 750.5,339.5 750.5,341.5 750.5,344.5 750.5,355.5 751.5,337.5 751.5,338.5 751.5,339.5 751.5,341.5 751.5,343.5 751.5,344.5 751.5,346.5 751.5,348.5 751.5,349.5 751.5,350.5 751.5,352.5 751.5,353.5 751.5,355.5 751.5,357.5 751.5,358.5 751.5,359.5 751.5,360.5 751.5,361.5 751.5,364.5 752.5,353.5 752.5,358.5 752.5,360.5 753.5,337.5 753.5,339.5 753.5,341.5 753.5,343.5 753.5,344.5 753.5,347.5 753.5,348.5 753.5,349.5 753.5,350.5 753.5,351.5 753.5,352.5 753.5,353.5 753.5,355.5 753.5,356.5 753.5,357.5 753.5,358.5 753.5,359.5 753.5,360.5 753.5,361.5 753.5,362.5 753.5,364.5 753.5,366.5 753.5,368.5 754.5,346.5 754.5,350.5 754.5,352.5 754.5,356.5 754.5,357.5 755.5,339.5 755.5,341.5 755.5,342.5 755.5,343.5 755.5,346.5 755.5,347.5 755.5,348.5 755.5,349.5 755.5,350.5 755.5,351.5 755.5,352.5 755.5,353.5 755.5,355.5 755.5,356.5 755.5,357.5 755.5,358.5 755.5,359.5 755.5,360.5 755.5,361.5 755.5,362.5 755.5,364.5 755.5,365.5 755.5,366.5 755.5,368.5 756.5,344.5 756.5,346.5 756.5,353.5 756.5,359.5 756.5,365.5 757.5,341.5 757.5,343.5 757.5,346.5 757.5,347.5 757.5,348.5 757.5,349.5 757.5,350.5 757.5,353.5 757.5,355.5 757.5,356.5 757.5,357.5 757.5,358.5 757.5,359.5 757.5,360.5 757.5,361.5 757.5,362.5 757.5,366.5 758.5,349.5 758.5,350.5 758.5,358.5 758.5,362.5 760.5,332.5 760.5,334.5 760.5,335.5 760.5,337.5 760.5,339.5 760.5,340.5 760.5,341.5 760.5,343.5 760.5,344.5 760.5,346.5 760.5,347.5 760.5,348.5 760.5,349.5 760.5,350.5 760.5,351.5 760.5,352.5 760.5,355.5 760.5,357.5 760.5,358.5 760.5,359.5 760.5,360.5 760.5,361.5 760.5,364.5 760.5,365.5 761.5,332.5 761.5,340.5 761.5,344.5 761.5,347.5 761.5,350.5 761.5,352.5 761.5,358.5 761.5,361.5 762.5,325.5 762.5,327.5 762.5,330.5 762.5,332.5 762.5,334.5 762.5,335.5 762.5,337.5 762.5,338.5 762.5,339.5 762.5,340.5 762.5,341.5 762.5,343.5 762.5,344.5 762.5,346.5 762.5,348.5 762.5,349.5 762.5,350.5 762.5,351.5 762.5,352.5 762.5,353.5 762.5,355.5 762.5,356.5 762.5,357.5 762.5,358.5 762.5,359.5 762.5,360.5 762.5,361.5 762.5,362.5 762.5,364.5 762.5,365.5 762.5,366.5 762.5,368.5 762.5,369.5 763.5,330.5 763.5,334.5 763.5,358.5 763.5,359.5 763.5,364.5 764.5,325.5 764.5,327.5 764.5,330.5 764.5,331.5 764.5,332.5 764.5,333.5 764.5,334.5 764.5,335.5 764.5,337.5 764.5,338.5 764.5,339.5 764.5,340.5 764.5,341.5 764.5,342.5 764.5,343.5 764.5,344.5 764.5,346.5 764.5,347.5 764.5,348.5 764.5,349.5 764.5,350.5 764.5,353.5 765.5,331.5 765.5,333.5 765.5,334.5 765.5,337.5 765.5,339.5 765.5,343.5 765.5,346.5 765.5,348.5 766.5,325.5 766.5,330.5 766.5,332.5 766.5,334.5 766.5,335.5 766.5,338.5 766.5,339.5 766.5,340.5 766.5,341.5 766.5,342.5 766.5,343.5 766.5,346.5 766.5,347.5 766.5,348.5 766.5,349.5 766.5,350.5 766.5,351.5 766.5,352.5 766.5,353.5 766.5,355.5 766.5,356.5 766.5,357.5 766.5,359.5 766.5,360.5 766.5,361.5 766.5,362.5 766.5,364.5 766.5,365.5 766.5,366.5 766.5,368.5 766.5,369.5 766.5,370.5 766.5,371.5 766.5,373.5 767.5,335.5 767.5,337.5 767.5,342.5 767.5,343.5 767.5,346.5 767.5,349.5 767.5,350.5 767.5,352.5 767.5,365.5 767.5,367.5 767.5,369.5 768.5,343.5 768.5,344.5 768.5,346.5 768.5,348.5 768.5,350.5 768.5,351.5 768.5,352.5 768.5,353.5 768.5,355.5 768.5,356.5 768.5,357.5 768.5,358.5 768.5,359.5 768.5,360.5 768.5,361.5 768.5,362.5 768.5,364.5 768.5,365.5 768.5,366.5 768.5,367.5 768.5,368.5 768.5,369.5 768.5,370.5 768.5,371.5 768.5,373.5 768.5,374.5 768.5,375.5 768.5,376.5 768.5,377.5 769.5,350.5 769.5,359.5 769.5,364.5 769.5,366.5 769.5,374.5 769.5,376.5 770.5,344.5 770.5,348.5 770.5,349.5 770.5,350.5 770.5,351.5 770.5,352.5 770.5,353.5"/>
<polyline fill="none" stroke="none" marker-start="url(#c)" marker-mid="url(#c)" marker-end="url(#c)" points="770.5,355.5 770.5,356.5 770.5,357.5 770.5,358.5 770.5,359.5 770.5,361.5 770.5,362.5 770.5,364.5 770.5,365.5 770.5,366.5 770.5,368.5 770.5,369.5 770.5,370.5 770.5,371.5 770.5,373.5 770.5,374.5 770.5,375.5 770.5,376.5 770.5,377.5 770.5,379.5 771.5,356.5 771.5,357.5 771.5,364.5 771.5,366.5 771.5,373.5"/>
</g>
</svg>
</body></html>
